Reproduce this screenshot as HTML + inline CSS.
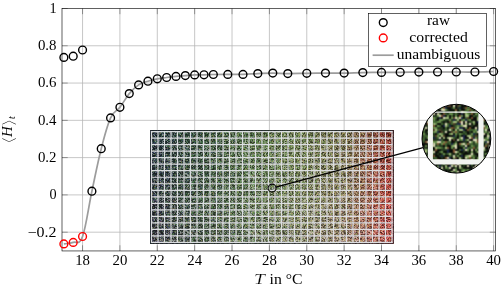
<!DOCTYPE html>
<html><head><meta charset="utf-8"><title>plot</title><style>html,body{margin:0;padding:0;background:#fff;}svg{display:block;}</style></head><body>
<svg width="501" height="290" viewBox="0 0 501 290">
<defs>
<filter id="sb" x="0" y="0" width="1" height="1"><feGaussianBlur stdDeviation="0.35"/></filter>
<clipPath id="bc"><circle cx="456.4" cy="138.7" r="34.4"/></clipPath>
</defs>
<rect width="501" height="290" fill="#fff"/>
<path d="M82.55 8.5V250.95M119.92 8.5V250.95M157.29 8.5V250.95M194.66 8.5V250.95M232.03 8.5V250.95M269.4 8.5V250.95M306.77 8.5V250.95M344.14 8.5V250.95M381.51 8.5V250.95M418.88 8.5V250.95M456.25 8.5V250.95M493.62 8.5V250.95M62.0 232.18H495.5M62.0 194.9H495.5M62.0 157.62H495.5M62.0 120.34H495.5M62.0 83.06H495.5M62.0 45.78H495.5" stroke="#b4b4b4" stroke-width="0.75" fill="none"/>
<path d="M82.55 250.95v-5.7M82.55 8.5v5.7M119.92 250.95v-5.7M119.92 8.5v5.7M157.29 250.95v-5.7M157.29 8.5v5.7M194.66 250.95v-5.7M194.66 8.5v5.7M232.03 250.95v-5.7M232.03 8.5v5.7M269.4 250.95v-5.7M269.4 8.5v5.7M306.77 250.95v-5.7M306.77 8.5v5.7M344.14 250.95v-5.7M344.14 8.5v5.7M381.51 250.95v-5.7M381.51 8.5v5.7M418.88 250.95v-5.7M418.88 8.5v5.7M456.25 250.95v-5.7M456.25 8.5v5.7M493.62 250.95v-5.7M493.62 8.5v5.7M62.0 232.18h5.7M495.5 232.18h-5.7M62.0 194.9h5.7M495.5 194.9h-5.7M62.0 157.62h5.7M495.5 157.62h-5.7M62.0 120.34h5.7M495.5 120.34h-5.7M62.0 83.06h5.7M495.5 83.06h-5.7M62.0 45.78h5.7M495.5 45.78h-5.7M62.0 8.5h5.7M495.5 8.5h-5.7" stroke="#000" stroke-width="0.6" fill="none" opacity="0.55"/>
<defs><pattern id="px" patternUnits="userSpaceOnUse" x="0" y="0" width="61" height="57"><path d="M1 0h1v1h-1zM7 0h1v1h-1zM8 0h1v1h-1zM11 0h1v1h-1zM15 0h1v1h-1zM19 0h1v1h-1zM23 0h1v1h-1zM28 0h1v1h-1zM32 0h1v1h-1zM33 0h1v1h-1zM52 0h1v1h-1zM53 0h1v1h-1zM56 0h1v1h-1zM59 0h1v1h-1zM0 1h1v1h-1zM2 1h1v1h-1zM11 1h1v1h-1zM21 1h1v1h-1zM22 1h1v1h-1zM25 1h1v1h-1zM29 1h1v1h-1zM30 1h1v1h-1zM35 1h1v1h-1zM43 1h1v1h-1zM46 1h1v1h-1zM53 1h1v1h-1zM58 1h1v1h-1zM11 2h1v1h-1zM14 2h1v1h-1zM23 2h1v1h-1zM29 2h1v1h-1zM38 2h1v1h-1zM41 2h1v1h-1zM43 2h1v1h-1zM47 2h1v1h-1zM48 2h1v1h-1zM53 2h1v1h-1zM54 2h1v1h-1zM55 2h1v1h-1zM1 3h1v1h-1zM8 3h1v1h-1zM12 3h1v1h-1zM14 3h1v1h-1zM20 3h1v1h-1zM22 3h1v1h-1zM25 3h1v1h-1zM27 3h1v1h-1zM28 3h1v1h-1zM30 3h1v1h-1zM31 3h1v1h-1zM35 3h1v1h-1zM37 3h1v1h-1zM41 3h1v1h-1zM51 3h1v1h-1zM54 3h1v1h-1zM59 3h1v1h-1zM10 4h1v1h-1zM11 4h1v1h-1zM18 4h1v1h-1zM22 4h1v1h-1zM32 4h1v1h-1zM38 4h1v1h-1zM43 4h1v1h-1zM47 4h1v1h-1zM52 4h1v1h-1zM10 5h1v1h-1zM19 5h1v1h-1zM26 5h1v1h-1zM27 5h1v1h-1zM28 5h1v1h-1zM35 5h1v1h-1zM41 5h1v1h-1zM48 5h1v1h-1zM50 5h1v1h-1zM0 6h1v1h-1zM2 6h1v1h-1zM7 6h1v1h-1zM8 6h1v1h-1zM10 6h1v1h-1zM19 6h1v1h-1zM20 6h1v1h-1zM24 6h1v1h-1zM28 6h1v1h-1zM33 6h1v1h-1zM40 6h1v1h-1zM41 6h1v1h-1zM44 6h1v1h-1zM49 6h1v1h-1zM52 6h1v1h-1zM60 6h1v1h-1zM0 7h1v1h-1zM4 7h1v1h-1zM5 7h1v1h-1zM6 7h1v1h-1zM8 7h1v1h-1zM19 7h1v1h-1zM22 7h1v1h-1zM32 7h1v1h-1zM34 7h1v1h-1zM56 7h1v1h-1zM2 8h1v1h-1zM8 8h1v1h-1zM11 8h1v1h-1zM12 8h1v1h-1zM19 8h1v1h-1zM23 8h1v1h-1zM25 8h1v1h-1zM27 8h1v1h-1zM29 8h1v1h-1zM37 8h1v1h-1zM42 8h1v1h-1zM49 8h1v1h-1zM51 8h1v1h-1zM58 8h1v1h-1zM59 8h1v1h-1zM3 9h1v1h-1zM15 9h1v1h-1zM23 9h1v1h-1zM24 9h1v1h-1zM25 9h1v1h-1zM26 9h1v1h-1zM29 9h1v1h-1zM37 9h1v1h-1zM42 9h1v1h-1zM53 9h1v1h-1zM5 10h1v1h-1zM6 10h1v1h-1zM14 10h1v1h-1zM18 10h1v1h-1zM30 10h1v1h-1zM41 10h1v1h-1zM46 10h1v1h-1zM47 10h1v1h-1zM48 10h1v1h-1zM59 10h1v1h-1zM1 11h1v1h-1zM18 11h1v1h-1zM22 11h1v1h-1zM28 11h1v1h-1zM33 11h1v1h-1zM43 11h1v1h-1zM51 11h1v1h-1zM10 12h1v1h-1zM13 12h1v1h-1zM16 12h1v1h-1zM22 12h1v1h-1zM24 12h1v1h-1zM29 12h1v1h-1zM31 12h1v1h-1zM35 12h1v1h-1zM43 12h1v1h-1zM44 12h1v1h-1zM59 12h1v1h-1zM7 13h1v1h-1zM11 13h1v1h-1zM12 13h1v1h-1zM13 13h1v1h-1zM15 13h1v1h-1zM18 13h1v1h-1zM23 13h1v1h-1zM26 13h1v1h-1zM28 13h1v1h-1zM32 13h1v1h-1zM38 13h1v1h-1zM40 13h1v1h-1zM46 13h1v1h-1zM48 13h1v1h-1zM59 13h1v1h-1zM60 13h1v1h-1zM0 14h1v1h-1zM2 14h1v1h-1zM4 14h1v1h-1zM10 14h1v1h-1zM11 14h1v1h-1zM19 14h1v1h-1zM32 14h1v1h-1zM38 14h1v1h-1zM44 14h1v1h-1zM47 14h1v1h-1zM53 14h1v1h-1zM54 14h1v1h-1zM6 15h1v1h-1zM10 15h1v1h-1zM17 15h1v1h-1zM22 15h1v1h-1zM26 15h1v1h-1zM35 15h1v1h-1zM36 15h1v1h-1zM39 15h1v1h-1zM44 15h1v1h-1zM51 15h1v1h-1zM55 15h1v1h-1zM59 15h1v1h-1zM0 16h1v1h-1zM11 16h1v1h-1zM14 16h1v1h-1zM21 16h1v1h-1zM24 16h1v1h-1zM27 16h1v1h-1zM36 16h1v1h-1zM43 16h1v1h-1zM49 16h1v1h-1zM51 16h1v1h-1zM53 16h1v1h-1zM1 17h1v1h-1zM2 17h1v1h-1zM6 17h1v1h-1zM17 17h1v1h-1zM18 17h1v1h-1zM20 17h1v1h-1zM27 17h1v1h-1zM31 17h1v1h-1zM43 17h1v1h-1zM46 17h1v1h-1zM54 17h1v1h-1zM58 17h1v1h-1zM60 17h1v1h-1zM6 18h1v1h-1zM8 18h1v1h-1zM17 18h1v1h-1zM18 18h1v1h-1zM21 18h1v1h-1zM26 18h1v1h-1zM31 18h1v1h-1zM32 18h1v1h-1zM40 18h1v1h-1zM5 19h1v1h-1zM16 19h1v1h-1zM35 19h1v1h-1zM41 19h1v1h-1zM42 19h1v1h-1zM45 19h1v1h-1zM47 19h1v1h-1zM59 19h1v1h-1zM4 20h1v1h-1zM5 20h1v1h-1zM9 20h1v1h-1zM14 20h1v1h-1zM15 20h1v1h-1zM23 20h1v1h-1zM30 20h1v1h-1zM33 20h1v1h-1zM36 20h1v1h-1zM39 20h1v1h-1zM3 21h1v1h-1zM5 21h1v1h-1zM14 21h1v1h-1zM16 21h1v1h-1zM31 21h1v1h-1zM33 21h1v1h-1zM35 21h1v1h-1zM37 21h1v1h-1zM38 21h1v1h-1zM52 21h1v1h-1zM53 21h1v1h-1zM57 21h1v1h-1zM2 22h1v1h-1zM4 22h1v1h-1zM10 22h1v1h-1zM18 22h1v1h-1zM20 22h1v1h-1zM22 22h1v1h-1zM26 22h1v1h-1zM31 22h1v1h-1zM32 22h1v1h-1zM36 22h1v1h-1zM37 22h1v1h-1zM41 22h1v1h-1zM42 22h1v1h-1zM44 22h1v1h-1zM46 22h1v1h-1zM49 22h1v1h-1zM50 22h1v1h-1zM55 22h1v1h-1zM2 23h1v1h-1zM51 23h1v1h-1zM52 23h1v1h-1zM58 23h1v1h-1zM0 24h1v1h-1zM3 24h1v1h-1zM9 24h1v1h-1zM16 24h1v1h-1zM20 24h1v1h-1zM30 24h1v1h-1zM34 24h1v1h-1zM45 24h1v1h-1zM51 24h1v1h-1zM52 24h1v1h-1zM53 24h1v1h-1zM55 24h1v1h-1zM59 24h1v1h-1zM60 24h1v1h-1zM0 25h1v1h-1zM3 25h1v1h-1zM8 25h1v1h-1zM10 25h1v1h-1zM13 25h1v1h-1zM14 25h1v1h-1zM43 25h1v1h-1zM53 25h1v1h-1zM0 26h1v1h-1zM6 26h1v1h-1zM12 26h1v1h-1zM15 26h1v1h-1zM21 26h1v1h-1zM23 26h1v1h-1zM24 26h1v1h-1zM28 26h1v1h-1zM30 26h1v1h-1zM39 26h1v1h-1zM53 26h1v1h-1zM56 26h1v1h-1zM0 27h1v1h-1zM19 27h1v1h-1zM27 27h1v1h-1zM31 27h1v1h-1zM35 27h1v1h-1zM39 27h1v1h-1zM46 27h1v1h-1zM47 27h1v1h-1zM48 27h1v1h-1zM51 27h1v1h-1zM54 27h1v1h-1zM55 27h1v1h-1zM60 27h1v1h-1zM3 28h1v1h-1zM12 28h1v1h-1zM31 28h1v1h-1zM45 28h1v1h-1zM2 29h1v1h-1zM9 29h1v1h-1zM17 29h1v1h-1zM24 29h1v1h-1zM25 29h1v1h-1zM44 29h1v1h-1zM49 29h1v1h-1zM53 29h1v1h-1zM58 29h1v1h-1zM2 30h1v1h-1zM4 30h1v1h-1zM6 30h1v1h-1zM17 30h1v1h-1zM19 30h1v1h-1zM32 30h1v1h-1zM33 30h1v1h-1zM37 30h1v1h-1zM40 30h1v1h-1zM41 30h1v1h-1zM45 30h1v1h-1zM50 30h1v1h-1zM54 30h1v1h-1zM57 30h1v1h-1zM9 31h1v1h-1zM10 31h1v1h-1zM21 31h1v1h-1zM26 31h1v1h-1zM31 31h1v1h-1zM34 31h1v1h-1zM38 31h1v1h-1zM41 31h1v1h-1zM48 31h1v1h-1zM51 31h1v1h-1zM55 31h1v1h-1zM58 31h1v1h-1zM60 31h1v1h-1zM6 32h1v1h-1zM8 32h1v1h-1zM9 32h1v1h-1zM14 32h1v1h-1zM16 32h1v1h-1zM17 32h1v1h-1zM21 32h1v1h-1zM23 32h1v1h-1zM27 32h1v1h-1zM29 32h1v1h-1zM33 32h1v1h-1zM36 32h1v1h-1zM40 32h1v1h-1zM43 32h1v1h-1zM52 32h1v1h-1zM6 33h1v1h-1zM11 33h1v1h-1zM15 33h1v1h-1zM26 33h1v1h-1zM35 33h1v1h-1zM37 33h1v1h-1zM38 33h1v1h-1zM46 33h1v1h-1zM48 33h1v1h-1zM50 33h1v1h-1zM5 34h1v1h-1zM9 34h1v1h-1zM11 34h1v1h-1zM22 34h1v1h-1zM46 34h1v1h-1zM48 34h1v1h-1zM53 34h1v1h-1zM9 35h1v1h-1zM13 35h1v1h-1zM14 35h1v1h-1zM31 35h1v1h-1zM35 35h1v1h-1zM39 35h1v1h-1zM46 35h1v1h-1zM51 35h1v1h-1zM60 35h1v1h-1zM1 36h1v1h-1zM2 36h1v1h-1zM6 36h1v1h-1zM15 36h1v1h-1zM19 36h1v1h-1zM25 36h1v1h-1zM33 36h1v1h-1zM34 36h1v1h-1zM38 36h1v1h-1zM43 36h1v1h-1zM45 36h1v1h-1zM46 36h1v1h-1zM54 36h1v1h-1zM10 37h1v1h-1zM24 37h1v1h-1zM29 37h1v1h-1zM34 37h1v1h-1zM47 37h1v1h-1zM49 37h1v1h-1zM56 37h1v1h-1zM2 38h1v1h-1zM35 38h1v1h-1zM41 38h1v1h-1zM46 38h1v1h-1zM50 38h1v1h-1zM52 38h1v1h-1zM53 38h1v1h-1zM55 38h1v1h-1zM3 39h1v1h-1zM7 39h1v1h-1zM10 39h1v1h-1zM29 39h1v1h-1zM31 39h1v1h-1zM43 39h1v1h-1zM44 39h1v1h-1zM50 39h1v1h-1zM52 39h1v1h-1zM57 39h1v1h-1zM59 39h1v1h-1zM0 40h1v1h-1zM6 40h1v1h-1zM13 40h1v1h-1zM17 40h1v1h-1zM25 40h1v1h-1zM30 40h1v1h-1zM37 40h1v1h-1zM46 40h1v1h-1zM57 40h1v1h-1zM6 41h1v1h-1zM20 41h1v1h-1zM30 41h1v1h-1zM33 41h1v1h-1zM43 41h1v1h-1zM46 41h1v1h-1zM48 41h1v1h-1zM55 41h1v1h-1zM4 42h1v1h-1zM5 42h1v1h-1zM10 42h1v1h-1zM13 42h1v1h-1zM24 42h1v1h-1zM27 42h1v1h-1zM32 42h1v1h-1zM38 42h1v1h-1zM43 42h1v1h-1zM51 42h1v1h-1zM58 42h1v1h-1zM1 43h1v1h-1zM5 43h1v1h-1zM12 43h1v1h-1zM18 43h1v1h-1zM20 43h1v1h-1zM28 43h1v1h-1zM32 43h1v1h-1zM34 43h1v1h-1zM35 43h1v1h-1zM36 43h1v1h-1zM53 43h1v1h-1zM58 43h1v1h-1zM5 44h1v1h-1zM12 44h1v1h-1zM16 44h1v1h-1zM34 44h1v1h-1zM36 44h1v1h-1zM44 44h1v1h-1zM47 44h1v1h-1zM55 44h1v1h-1zM58 44h1v1h-1zM2 45h1v1h-1zM8 45h1v1h-1zM9 45h1v1h-1zM21 45h1v1h-1zM25 45h1v1h-1zM49 45h1v1h-1zM1 46h1v1h-1zM17 46h1v1h-1zM51 46h1v1h-1zM54 46h1v1h-1zM3 47h1v1h-1zM8 47h1v1h-1zM12 47h1v1h-1zM19 47h1v1h-1zM21 47h1v1h-1zM34 47h1v1h-1zM41 47h1v1h-1zM42 47h1v1h-1zM43 47h1v1h-1zM50 47h1v1h-1zM3 48h1v1h-1zM4 48h1v1h-1zM7 48h1v1h-1zM8 48h1v1h-1zM9 48h1v1h-1zM16 48h1v1h-1zM17 48h1v1h-1zM24 48h1v1h-1zM30 48h1v1h-1zM35 48h1v1h-1zM39 48h1v1h-1zM48 48h1v1h-1zM51 48h1v1h-1zM52 48h1v1h-1zM60 48h1v1h-1zM4 49h1v1h-1zM19 49h1v1h-1zM24 49h1v1h-1zM27 49h1v1h-1zM30 49h1v1h-1zM34 49h1v1h-1zM50 49h1v1h-1zM54 49h1v1h-1zM59 49h1v1h-1zM1 50h1v1h-1zM2 50h1v1h-1zM10 50h1v1h-1zM13 50h1v1h-1zM17 50h1v1h-1zM18 50h1v1h-1zM28 50h1v1h-1zM31 50h1v1h-1zM41 50h1v1h-1zM47 50h1v1h-1zM48 50h1v1h-1zM50 50h1v1h-1zM52 50h1v1h-1zM56 50h1v1h-1zM4 51h1v1h-1zM11 51h1v1h-1zM15 51h1v1h-1zM30 51h1v1h-1zM32 51h1v1h-1zM40 51h1v1h-1zM42 51h1v1h-1zM46 51h1v1h-1zM50 51h1v1h-1zM56 51h1v1h-1zM1 52h1v1h-1zM4 52h1v1h-1zM11 52h1v1h-1zM22 52h1v1h-1zM25 52h1v1h-1zM35 52h1v1h-1zM36 52h1v1h-1zM37 52h1v1h-1zM43 52h1v1h-1zM44 52h1v1h-1zM50 52h1v1h-1zM55 52h1v1h-1zM5 53h1v1h-1zM17 53h1v1h-1zM26 53h1v1h-1zM27 53h1v1h-1zM31 53h1v1h-1zM32 53h1v1h-1zM36 53h1v1h-1zM47 53h1v1h-1zM50 53h1v1h-1zM55 53h1v1h-1zM2 54h1v1h-1zM8 54h1v1h-1zM9 54h1v1h-1zM15 54h1v1h-1zM44 54h1v1h-1zM55 54h1v1h-1zM56 54h1v1h-1zM59 54h1v1h-1zM0 55h1v1h-1zM3 55h1v1h-1zM21 55h1v1h-1zM23 55h1v1h-1zM26 55h1v1h-1zM28 55h1v1h-1zM31 55h1v1h-1zM32 55h1v1h-1zM42 55h1v1h-1zM59 55h1v1h-1zM4 56h1v1h-1zM7 56h1v1h-1zM12 56h1v1h-1zM13 56h1v1h-1zM19 56h1v1h-1zM25 56h1v1h-1zM28 56h1v1h-1zM31 56h1v1h-1zM33 56h1v1h-1zM38 56h1v1h-1zM49 56h1v1h-1zM55 56h1v1h-1zM59 56h1v1h-1z" fill="rgb(0,0,0)" fill-opacity="0.2"/><path d="M3 0h1v1h-1zM5 0h1v1h-1zM21 0h1v1h-1zM38 0h1v1h-1zM43 0h1v1h-1zM45 0h1v1h-1zM48 0h1v1h-1zM57 0h1v1h-1zM17 1h1v1h-1zM24 1h1v1h-1zM26 1h1v1h-1zM32 1h1v1h-1zM41 1h1v1h-1zM49 1h1v1h-1zM55 1h1v1h-1zM57 1h1v1h-1zM0 2h1v1h-1zM5 2h1v1h-1zM19 2h1v1h-1zM22 2h1v1h-1zM31 2h1v1h-1zM33 2h1v1h-1zM39 2h1v1h-1zM42 2h1v1h-1zM45 2h1v1h-1zM52 2h1v1h-1zM56 2h1v1h-1zM60 2h1v1h-1zM23 3h1v1h-1zM33 3h1v1h-1zM34 3h1v1h-1zM38 3h1v1h-1zM39 3h1v1h-1zM43 3h1v1h-1zM55 3h1v1h-1zM60 3h1v1h-1zM0 4h1v1h-1zM2 4h1v1h-1zM19 4h1v1h-1zM20 4h1v1h-1zM36 4h1v1h-1zM40 4h1v1h-1zM42 4h1v1h-1zM45 4h1v1h-1zM54 4h1v1h-1zM55 4h1v1h-1zM56 4h1v1h-1zM15 5h1v1h-1zM16 5h1v1h-1zM23 5h1v1h-1zM32 5h1v1h-1zM34 5h1v1h-1zM36 5h1v1h-1zM52 5h1v1h-1zM54 5h1v1h-1zM60 5h1v1h-1zM1 6h1v1h-1zM17 6h1v1h-1zM18 6h1v1h-1zM23 6h1v1h-1zM29 6h1v1h-1zM30 6h1v1h-1zM37 6h1v1h-1zM57 6h1v1h-1zM58 6h1v1h-1zM13 7h1v1h-1zM18 7h1v1h-1zM24 7h1v1h-1zM33 7h1v1h-1zM40 7h1v1h-1zM47 7h1v1h-1zM49 7h1v1h-1zM50 7h1v1h-1zM7 8h1v1h-1zM15 8h1v1h-1zM17 8h1v1h-1zM21 8h1v1h-1zM50 8h1v1h-1zM56 8h1v1h-1zM57 8h1v1h-1zM1 9h1v1h-1zM8 9h1v1h-1zM10 9h1v1h-1zM30 9h1v1h-1zM35 9h1v1h-1zM43 9h1v1h-1zM0 10h1v1h-1zM2 10h1v1h-1zM17 10h1v1h-1zM22 10h1v1h-1zM24 10h1v1h-1zM31 10h1v1h-1zM33 10h1v1h-1zM4 11h1v1h-1zM11 11h1v1h-1zM21 11h1v1h-1zM41 11h1v1h-1zM48 11h1v1h-1zM56 11h1v1h-1zM12 12h1v1h-1zM14 12h1v1h-1zM15 12h1v1h-1zM17 12h1v1h-1zM19 12h1v1h-1zM25 12h1v1h-1zM26 12h1v1h-1zM45 12h1v1h-1zM1 13h1v1h-1zM2 13h1v1h-1zM5 13h1v1h-1zM17 13h1v1h-1zM30 13h1v1h-1zM49 13h1v1h-1zM50 13h1v1h-1zM58 13h1v1h-1zM6 14h1v1h-1zM15 14h1v1h-1zM18 14h1v1h-1zM23 14h1v1h-1zM24 14h1v1h-1zM27 14h1v1h-1zM35 14h1v1h-1zM36 14h1v1h-1zM37 14h1v1h-1zM43 14h1v1h-1zM45 14h1v1h-1zM50 14h1v1h-1zM58 14h1v1h-1zM11 15h1v1h-1zM12 15h1v1h-1zM15 15h1v1h-1zM16 15h1v1h-1zM38 15h1v1h-1zM40 15h1v1h-1zM2 16h1v1h-1zM5 16h1v1h-1zM7 16h1v1h-1zM30 16h1v1h-1zM31 16h1v1h-1zM38 16h1v1h-1zM47 16h1v1h-1zM54 16h1v1h-1zM56 16h1v1h-1zM57 16h1v1h-1zM58 16h1v1h-1zM0 17h1v1h-1zM11 17h1v1h-1zM22 17h1v1h-1zM26 17h1v1h-1zM30 17h1v1h-1zM47 17h1v1h-1zM52 17h1v1h-1zM56 17h1v1h-1zM4 18h1v1h-1zM23 18h1v1h-1zM36 18h1v1h-1zM50 18h1v1h-1zM51 18h1v1h-1zM52 18h1v1h-1zM55 18h1v1h-1zM6 19h1v1h-1zM7 19h1v1h-1zM9 19h1v1h-1zM13 19h1v1h-1zM19 19h1v1h-1zM21 19h1v1h-1zM22 19h1v1h-1zM25 19h1v1h-1zM29 19h1v1h-1zM30 19h1v1h-1zM31 19h1v1h-1zM34 19h1v1h-1zM46 19h1v1h-1zM51 19h1v1h-1zM53 19h1v1h-1zM2 20h1v1h-1zM7 20h1v1h-1zM12 20h1v1h-1zM13 20h1v1h-1zM18 20h1v1h-1zM22 20h1v1h-1zM28 20h1v1h-1zM38 20h1v1h-1zM48 20h1v1h-1zM56 20h1v1h-1zM59 20h1v1h-1zM0 21h1v1h-1zM2 21h1v1h-1zM4 21h1v1h-1zM6 21h1v1h-1zM8 21h1v1h-1zM11 21h1v1h-1zM17 21h1v1h-1zM23 21h1v1h-1zM24 21h1v1h-1zM45 21h1v1h-1zM56 21h1v1h-1zM58 21h1v1h-1zM11 22h1v1h-1zM15 22h1v1h-1zM24 22h1v1h-1zM29 22h1v1h-1zM34 22h1v1h-1zM38 22h1v1h-1zM40 22h1v1h-1zM48 22h1v1h-1zM53 22h1v1h-1zM58 22h1v1h-1zM0 23h1v1h-1zM3 23h1v1h-1zM6 23h1v1h-1zM9 23h1v1h-1zM17 23h1v1h-1zM20 23h1v1h-1zM21 23h1v1h-1zM26 23h1v1h-1zM28 23h1v1h-1zM45 23h1v1h-1zM48 23h1v1h-1zM50 23h1v1h-1zM55 23h1v1h-1zM60 23h1v1h-1zM5 24h1v1h-1zM7 24h1v1h-1zM15 24h1v1h-1zM23 24h1v1h-1zM24 24h1v1h-1zM26 24h1v1h-1zM31 24h1v1h-1zM49 24h1v1h-1zM4 25h1v1h-1zM5 25h1v1h-1zM20 25h1v1h-1zM23 25h1v1h-1zM28 25h1v1h-1zM31 25h1v1h-1zM42 25h1v1h-1zM55 25h1v1h-1zM4 26h1v1h-1zM8 26h1v1h-1zM14 26h1v1h-1zM27 26h1v1h-1zM31 26h1v1h-1zM45 26h1v1h-1zM50 26h1v1h-1zM57 26h1v1h-1zM58 26h1v1h-1zM5 27h1v1h-1zM6 27h1v1h-1zM14 27h1v1h-1zM24 27h1v1h-1zM38 27h1v1h-1zM43 27h1v1h-1zM52 27h1v1h-1zM56 27h1v1h-1zM58 27h1v1h-1zM5 28h1v1h-1zM9 28h1v1h-1zM39 28h1v1h-1zM43 28h1v1h-1zM44 28h1v1h-1zM52 28h1v1h-1zM54 28h1v1h-1zM55 28h1v1h-1zM59 28h1v1h-1zM1 29h1v1h-1zM8 29h1v1h-1zM18 29h1v1h-1zM23 29h1v1h-1zM28 29h1v1h-1zM38 29h1v1h-1zM41 29h1v1h-1zM55 29h1v1h-1zM57 29h1v1h-1zM9 30h1v1h-1zM11 30h1v1h-1zM16 30h1v1h-1zM22 30h1v1h-1zM23 30h1v1h-1zM27 30h1v1h-1zM35 30h1v1h-1zM39 30h1v1h-1zM42 30h1v1h-1zM51 30h1v1h-1zM1 31h1v1h-1zM12 31h1v1h-1zM15 31h1v1h-1zM16 31h1v1h-1zM32 31h1v1h-1zM35 31h1v1h-1zM39 31h1v1h-1zM42 31h1v1h-1zM46 31h1v1h-1zM52 31h1v1h-1zM3 32h1v1h-1zM10 32h1v1h-1zM12 32h1v1h-1zM15 32h1v1h-1zM1 33h1v1h-1zM16 33h1v1h-1zM17 33h1v1h-1zM18 33h1v1h-1zM31 33h1v1h-1zM34 33h1v1h-1zM43 33h1v1h-1zM44 33h1v1h-1zM52 33h1v1h-1zM56 33h1v1h-1zM8 34h1v1h-1zM10 34h1v1h-1zM13 34h1v1h-1zM25 34h1v1h-1zM26 34h1v1h-1zM34 34h1v1h-1zM37 34h1v1h-1zM39 34h1v1h-1zM47 34h1v1h-1zM54 34h1v1h-1zM56 34h1v1h-1zM59 34h1v1h-1zM6 35h1v1h-1zM24 35h1v1h-1zM30 35h1v1h-1zM32 35h1v1h-1zM37 35h1v1h-1zM41 35h1v1h-1zM42 35h1v1h-1zM54 35h1v1h-1zM13 36h1v1h-1zM21 36h1v1h-1zM24 36h1v1h-1zM27 36h1v1h-1zM30 36h1v1h-1zM32 36h1v1h-1zM51 36h1v1h-1zM55 36h1v1h-1zM4 37h1v1h-1zM8 37h1v1h-1zM14 37h1v1h-1zM20 37h1v1h-1zM21 37h1v1h-1zM22 37h1v1h-1zM28 37h1v1h-1zM30 37h1v1h-1zM31 37h1v1h-1zM32 37h1v1h-1zM37 37h1v1h-1zM39 37h1v1h-1zM46 37h1v1h-1zM48 37h1v1h-1zM55 37h1v1h-1zM57 37h1v1h-1zM58 37h1v1h-1zM60 37h1v1h-1zM7 38h1v1h-1zM9 38h1v1h-1zM11 38h1v1h-1zM12 38h1v1h-1zM14 38h1v1h-1zM15 38h1v1h-1zM27 38h1v1h-1zM30 38h1v1h-1zM39 38h1v1h-1zM45 38h1v1h-1zM47 38h1v1h-1zM54 38h1v1h-1zM5 39h1v1h-1zM16 39h1v1h-1zM17 39h1v1h-1zM20 39h1v1h-1zM22 39h1v1h-1zM32 39h1v1h-1zM45 39h1v1h-1zM46 39h1v1h-1zM47 39h1v1h-1zM53 39h1v1h-1zM54 39h1v1h-1zM60 39h1v1h-1zM3 40h1v1h-1zM22 40h1v1h-1zM28 40h1v1h-1zM39 40h1v1h-1zM51 40h1v1h-1zM18 41h1v1h-1zM19 41h1v1h-1zM38 41h1v1h-1zM39 41h1v1h-1zM45 41h1v1h-1zM50 41h1v1h-1zM51 41h1v1h-1zM58 41h1v1h-1zM16 42h1v1h-1zM30 42h1v1h-1zM31 42h1v1h-1zM37 42h1v1h-1zM41 42h1v1h-1zM42 42h1v1h-1zM55 42h1v1h-1zM59 42h1v1h-1zM8 43h1v1h-1zM13 43h1v1h-1zM14 43h1v1h-1zM21 43h1v1h-1zM24 43h1v1h-1zM40 43h1v1h-1zM41 43h1v1h-1zM44 43h1v1h-1zM54 43h1v1h-1zM60 43h1v1h-1zM0 44h1v1h-1zM15 44h1v1h-1zM27 44h1v1h-1zM32 44h1v1h-1zM37 44h1v1h-1zM38 44h1v1h-1zM51 44h1v1h-1zM56 44h1v1h-1zM3 45h1v1h-1zM4 45h1v1h-1zM5 45h1v1h-1zM13 45h1v1h-1zM24 45h1v1h-1zM27 45h1v1h-1zM28 45h1v1h-1zM44 45h1v1h-1zM51 45h1v1h-1zM52 45h1v1h-1zM57 45h1v1h-1zM58 45h1v1h-1zM10 46h1v1h-1zM14 46h1v1h-1zM22 46h1v1h-1zM23 46h1v1h-1zM30 46h1v1h-1zM37 46h1v1h-1zM52 46h1v1h-1zM1 47h1v1h-1zM4 47h1v1h-1zM14 47h1v1h-1zM15 47h1v1h-1zM17 47h1v1h-1zM39 47h1v1h-1zM44 47h1v1h-1zM45 47h1v1h-1zM51 47h1v1h-1zM52 47h1v1h-1zM25 48h1v1h-1zM26 48h1v1h-1zM33 48h1v1h-1zM42 48h1v1h-1zM57 48h1v1h-1zM0 49h1v1h-1zM11 49h1v1h-1zM12 49h1v1h-1zM15 49h1v1h-1zM17 49h1v1h-1zM18 49h1v1h-1zM25 49h1v1h-1zM28 49h1v1h-1zM33 49h1v1h-1zM44 49h1v1h-1zM60 49h1v1h-1zM12 50h1v1h-1zM23 50h1v1h-1zM34 50h1v1h-1zM40 50h1v1h-1zM44 50h1v1h-1zM51 50h1v1h-1zM55 50h1v1h-1zM58 50h1v1h-1zM0 51h1v1h-1zM2 51h1v1h-1zM6 51h1v1h-1zM9 51h1v1h-1zM18 51h1v1h-1zM21 51h1v1h-1zM24 51h1v1h-1zM31 51h1v1h-1zM43 51h1v1h-1zM48 51h1v1h-1zM52 51h1v1h-1zM53 51h1v1h-1zM57 51h1v1h-1zM5 52h1v1h-1zM8 52h1v1h-1zM38 52h1v1h-1zM47 52h1v1h-1zM49 52h1v1h-1zM1 53h1v1h-1zM4 53h1v1h-1zM8 53h1v1h-1zM11 53h1v1h-1zM16 53h1v1h-1zM18 53h1v1h-1zM30 53h1v1h-1zM34 53h1v1h-1zM40 53h1v1h-1zM42 53h1v1h-1zM44 53h1v1h-1zM11 54h1v1h-1zM17 54h1v1h-1zM24 54h1v1h-1zM25 54h1v1h-1zM31 54h1v1h-1zM32 54h1v1h-1zM36 54h1v1h-1zM53 54h1v1h-1zM5 55h1v1h-1zM13 55h1v1h-1zM18 55h1v1h-1zM19 55h1v1h-1zM40 55h1v1h-1zM43 55h1v1h-1zM48 55h1v1h-1zM6 56h1v1h-1zM14 56h1v1h-1zM35 56h1v1h-1zM37 56h1v1h-1zM48 56h1v1h-1zM52 56h1v1h-1zM58 56h1v1h-1z" fill="rgb(0,0,0)" fill-opacity="0.38"/><path d="M4 0h1v1h-1zM13 0h1v1h-1zM22 0h1v1h-1zM24 0h1v1h-1zM60 0h1v1h-1zM7 1h1v1h-1zM13 1h1v1h-1zM44 1h1v1h-1zM45 1h1v1h-1zM52 1h1v1h-1zM60 1h1v1h-1zM7 2h1v1h-1zM12 2h1v1h-1zM24 2h1v1h-1zM32 2h1v1h-1zM34 2h1v1h-1zM51 2h1v1h-1zM58 2h1v1h-1zM17 3h1v1h-1zM3 4h1v1h-1zM14 4h1v1h-1zM15 4h1v1h-1zM25 4h1v1h-1zM39 4h1v1h-1zM51 4h1v1h-1zM57 4h1v1h-1zM18 5h1v1h-1zM20 5h1v1h-1zM31 5h1v1h-1zM39 5h1v1h-1zM40 5h1v1h-1zM43 5h1v1h-1zM11 6h1v1h-1zM42 6h1v1h-1zM54 6h1v1h-1zM56 6h1v1h-1zM59 6h1v1h-1zM16 7h1v1h-1zM48 7h1v1h-1zM59 7h1v1h-1zM28 8h1v1h-1zM30 8h1v1h-1zM39 8h1v1h-1zM41 8h1v1h-1zM43 8h1v1h-1zM47 8h1v1h-1zM53 8h1v1h-1zM60 8h1v1h-1zM6 9h1v1h-1zM7 9h1v1h-1zM14 9h1v1h-1zM36 9h1v1h-1zM44 9h1v1h-1zM46 9h1v1h-1zM52 9h1v1h-1zM1 10h1v1h-1zM7 10h1v1h-1zM25 10h1v1h-1zM45 10h1v1h-1zM50 10h1v1h-1zM53 10h1v1h-1zM55 10h1v1h-1zM56 10h1v1h-1zM5 11h1v1h-1zM19 11h1v1h-1zM34 11h1v1h-1zM37 11h1v1h-1zM55 11h1v1h-1zM11 12h1v1h-1zM32 12h1v1h-1zM60 12h1v1h-1zM3 13h1v1h-1zM16 13h1v1h-1zM19 13h1v1h-1zM22 13h1v1h-1zM24 13h1v1h-1zM52 13h1v1h-1zM53 13h1v1h-1zM12 14h1v1h-1zM49 14h1v1h-1zM51 14h1v1h-1zM57 14h1v1h-1zM3 15h1v1h-1zM31 15h1v1h-1zM34 15h1v1h-1zM50 15h1v1h-1zM5 18h1v1h-1zM7 18h1v1h-1zM11 18h1v1h-1zM12 18h1v1h-1zM16 18h1v1h-1zM20 18h1v1h-1zM27 18h1v1h-1zM46 18h1v1h-1zM60 18h1v1h-1zM20 19h1v1h-1zM26 19h1v1h-1zM36 19h1v1h-1zM44 19h1v1h-1zM60 19h1v1h-1zM3 20h1v1h-1zM16 20h1v1h-1zM20 20h1v1h-1zM24 20h1v1h-1zM35 20h1v1h-1zM42 20h1v1h-1zM45 20h1v1h-1zM51 20h1v1h-1zM7 21h1v1h-1zM22 21h1v1h-1zM34 21h1v1h-1zM48 21h1v1h-1zM43 22h1v1h-1zM8 23h1v1h-1zM10 23h1v1h-1zM19 23h1v1h-1zM27 23h1v1h-1zM12 24h1v1h-1zM29 24h1v1h-1zM46 24h1v1h-1zM56 24h1v1h-1zM57 24h1v1h-1zM2 25h1v1h-1zM11 25h1v1h-1zM30 25h1v1h-1zM40 25h1v1h-1zM46 25h1v1h-1zM18 26h1v1h-1zM22 26h1v1h-1zM2 27h1v1h-1zM29 27h1v1h-1zM41 27h1v1h-1zM44 27h1v1h-1zM6 28h1v1h-1zM7 28h1v1h-1zM10 28h1v1h-1zM25 28h1v1h-1zM48 28h1v1h-1zM50 28h1v1h-1zM4 29h1v1h-1zM43 29h1v1h-1zM13 30h1v1h-1zM47 30h1v1h-1zM56 30h1v1h-1zM3 31h1v1h-1zM5 31h1v1h-1zM11 31h1v1h-1zM18 31h1v1h-1zM36 31h1v1h-1zM53 31h1v1h-1zM28 32h1v1h-1zM32 32h1v1h-1zM35 32h1v1h-1zM38 32h1v1h-1zM55 32h1v1h-1zM59 32h1v1h-1zM39 33h1v1h-1zM31 34h1v1h-1zM32 34h1v1h-1zM51 34h1v1h-1zM55 34h1v1h-1zM0 35h1v1h-1zM8 35h1v1h-1zM21 35h1v1h-1zM38 35h1v1h-1zM44 35h1v1h-1zM57 35h1v1h-1zM4 36h1v1h-1zM7 36h1v1h-1zM39 36h1v1h-1zM56 36h1v1h-1zM0 37h1v1h-1zM27 37h1v1h-1zM42 37h1v1h-1zM45 37h1v1h-1zM54 37h1v1h-1zM17 38h1v1h-1zM18 38h1v1h-1zM23 38h1v1h-1zM44 38h1v1h-1zM59 38h1v1h-1zM23 39h1v1h-1zM5 40h1v1h-1zM19 40h1v1h-1zM54 40h1v1h-1zM11 41h1v1h-1zM23 41h1v1h-1zM31 41h1v1h-1zM32 41h1v1h-1zM20 42h1v1h-1zM49 42h1v1h-1zM53 42h1v1h-1zM56 42h1v1h-1zM30 43h1v1h-1zM31 43h1v1h-1zM39 43h1v1h-1zM52 43h1v1h-1zM9 44h1v1h-1zM13 44h1v1h-1zM14 44h1v1h-1zM28 44h1v1h-1zM31 44h1v1h-1zM7 45h1v1h-1zM18 45h1v1h-1zM29 45h1v1h-1zM36 45h1v1h-1zM37 45h1v1h-1zM42 45h1v1h-1zM50 45h1v1h-1zM5 46h1v1h-1zM8 46h1v1h-1zM11 46h1v1h-1zM15 46h1v1h-1zM20 46h1v1h-1zM21 46h1v1h-1zM60 46h1v1h-1zM2 47h1v1h-1zM7 47h1v1h-1zM20 47h1v1h-1zM49 47h1v1h-1zM22 48h1v1h-1zM23 48h1v1h-1zM41 48h1v1h-1zM58 48h1v1h-1zM1 49h1v1h-1zM20 49h1v1h-1zM37 49h1v1h-1zM41 49h1v1h-1zM53 49h1v1h-1zM0 50h1v1h-1zM9 50h1v1h-1zM11 50h1v1h-1zM21 50h1v1h-1zM32 50h1v1h-1zM16 51h1v1h-1zM25 51h1v1h-1zM37 51h1v1h-1zM55 51h1v1h-1zM10 52h1v1h-1zM13 52h1v1h-1zM15 52h1v1h-1zM17 52h1v1h-1zM18 52h1v1h-1zM26 52h1v1h-1zM30 52h1v1h-1zM56 52h1v1h-1zM6 53h1v1h-1zM9 53h1v1h-1zM25 53h1v1h-1zM43 53h1v1h-1zM0 54h1v1h-1zM16 54h1v1h-1zM19 54h1v1h-1zM20 54h1v1h-1zM30 54h1v1h-1zM49 54h1v1h-1zM4 55h1v1h-1zM27 55h1v1h-1zM29 55h1v1h-1zM30 55h1v1h-1zM36 55h1v1h-1zM53 55h1v1h-1zM54 55h1v1h-1zM60 55h1v1h-1zM2 56h1v1h-1zM5 56h1v1h-1zM16 56h1v1h-1zM18 56h1v1h-1zM26 56h1v1h-1zM27 56h1v1h-1zM34 56h1v1h-1zM40 56h1v1h-1zM44 56h1v1h-1zM60 56h1v1h-1z" fill="rgb(0,0,0)" fill-opacity="0.55"/><path d="M0 0h1v1h-1zM9 0h1v1h-1zM17 0h1v1h-1zM18 0h1v1h-1zM34 0h1v1h-1zM39 0h1v1h-1zM50 0h1v1h-1zM58 0h1v1h-1zM10 1h1v1h-1zM15 1h1v1h-1zM27 1h1v1h-1zM28 1h1v1h-1zM31 1h1v1h-1zM36 1h1v1h-1zM37 1h1v1h-1zM40 1h1v1h-1zM48 1h1v1h-1zM50 1h1v1h-1zM54 1h1v1h-1zM1 2h1v1h-1zM6 2h1v1h-1zM8 2h1v1h-1zM17 2h1v1h-1zM18 2h1v1h-1zM21 2h1v1h-1zM46 2h1v1h-1zM49 2h1v1h-1zM2 3h1v1h-1zM5 3h1v1h-1zM6 3h1v1h-1zM9 3h1v1h-1zM13 3h1v1h-1zM21 3h1v1h-1zM36 3h1v1h-1zM17 4h1v1h-1zM30 4h1v1h-1zM59 4h1v1h-1zM4 5h1v1h-1zM5 5h1v1h-1zM11 5h1v1h-1zM17 5h1v1h-1zM38 5h1v1h-1zM49 5h1v1h-1zM55 5h1v1h-1zM56 5h1v1h-1zM21 6h1v1h-1zM27 6h1v1h-1zM47 6h1v1h-1zM48 6h1v1h-1zM1 7h1v1h-1zM15 7h1v1h-1zM17 7h1v1h-1zM28 7h1v1h-1zM31 7h1v1h-1zM35 7h1v1h-1zM39 7h1v1h-1zM54 7h1v1h-1zM55 7h1v1h-1zM57 7h1v1h-1zM60 7h1v1h-1zM26 8h1v1h-1zM31 8h1v1h-1zM34 8h1v1h-1zM36 8h1v1h-1zM45 8h1v1h-1zM52 8h1v1h-1zM2 9h1v1h-1zM5 9h1v1h-1zM9 9h1v1h-1zM17 9h1v1h-1zM21 9h1v1h-1zM22 9h1v1h-1zM31 9h1v1h-1zM33 9h1v1h-1zM39 9h1v1h-1zM50 9h1v1h-1zM55 9h1v1h-1zM59 9h1v1h-1zM9 10h1v1h-1zM40 10h1v1h-1zM42 10h1v1h-1zM51 10h1v1h-1zM57 10h1v1h-1zM58 10h1v1h-1zM7 11h1v1h-1zM12 11h1v1h-1zM27 11h1v1h-1zM31 11h1v1h-1zM44 11h1v1h-1zM50 11h1v1h-1zM4 12h1v1h-1zM6 12h1v1h-1zM37 12h1v1h-1zM46 12h1v1h-1zM53 12h1v1h-1zM0 13h1v1h-1zM8 13h1v1h-1zM20 13h1v1h-1zM27 13h1v1h-1zM31 13h1v1h-1zM54 13h1v1h-1zM14 14h1v1h-1zM16 14h1v1h-1zM21 14h1v1h-1zM22 14h1v1h-1zM30 14h1v1h-1zM48 14h1v1h-1zM1 15h1v1h-1zM5 15h1v1h-1zM9 15h1v1h-1zM18 15h1v1h-1zM30 15h1v1h-1zM41 15h1v1h-1zM43 15h1v1h-1zM49 15h1v1h-1zM56 15h1v1h-1zM57 15h1v1h-1zM58 15h1v1h-1zM3 16h1v1h-1zM6 16h1v1h-1zM19 16h1v1h-1zM44 16h1v1h-1zM55 16h1v1h-1zM59 16h1v1h-1zM7 17h1v1h-1zM9 17h1v1h-1zM16 17h1v1h-1zM19 17h1v1h-1zM24 17h1v1h-1zM36 17h1v1h-1zM45 17h1v1h-1zM2 18h1v1h-1zM10 18h1v1h-1zM25 18h1v1h-1zM33 18h1v1h-1zM35 18h1v1h-1zM56 18h1v1h-1zM58 18h1v1h-1zM4 19h1v1h-1zM12 19h1v1h-1zM24 19h1v1h-1zM40 19h1v1h-1zM49 19h1v1h-1zM50 19h1v1h-1zM52 19h1v1h-1zM10 20h1v1h-1zM19 20h1v1h-1zM21 20h1v1h-1zM27 20h1v1h-1zM32 20h1v1h-1zM34 20h1v1h-1zM37 20h1v1h-1zM46 20h1v1h-1zM49 20h1v1h-1zM50 20h1v1h-1zM55 20h1v1h-1zM60 20h1v1h-1zM1 21h1v1h-1zM13 21h1v1h-1zM15 21h1v1h-1zM19 21h1v1h-1zM21 21h1v1h-1zM28 21h1v1h-1zM46 21h1v1h-1zM49 21h1v1h-1zM50 21h1v1h-1zM51 21h1v1h-1zM60 21h1v1h-1zM1 22h1v1h-1zM9 22h1v1h-1zM16 22h1v1h-1zM39 22h1v1h-1zM47 22h1v1h-1zM56 22h1v1h-1zM59 22h1v1h-1zM7 23h1v1h-1zM18 23h1v1h-1zM32 23h1v1h-1zM33 23h1v1h-1zM43 23h1v1h-1zM53 23h1v1h-1zM57 23h1v1h-1zM4 24h1v1h-1zM18 24h1v1h-1zM27 24h1v1h-1zM28 24h1v1h-1zM40 24h1v1h-1zM41 24h1v1h-1zM12 25h1v1h-1zM34 25h1v1h-1zM37 25h1v1h-1zM39 25h1v1h-1zM49 25h1v1h-1zM50 25h1v1h-1zM54 25h1v1h-1zM57 25h1v1h-1zM58 25h1v1h-1zM7 26h1v1h-1zM10 26h1v1h-1zM13 26h1v1h-1zM19 26h1v1h-1zM20 26h1v1h-1zM34 26h1v1h-1zM40 26h1v1h-1zM43 26h1v1h-1zM49 26h1v1h-1zM52 26h1v1h-1zM55 26h1v1h-1zM3 27h1v1h-1zM20 27h1v1h-1zM21 27h1v1h-1zM23 27h1v1h-1zM26 27h1v1h-1zM36 27h1v1h-1zM37 27h1v1h-1zM4 28h1v1h-1zM17 28h1v1h-1zM20 28h1v1h-1zM21 28h1v1h-1zM24 28h1v1h-1zM28 28h1v1h-1zM29 28h1v1h-1zM30 28h1v1h-1zM37 28h1v1h-1zM46 28h1v1h-1zM51 28h1v1h-1zM53 28h1v1h-1zM56 28h1v1h-1zM58 28h1v1h-1zM6 29h1v1h-1zM7 29h1v1h-1zM13 29h1v1h-1zM15 29h1v1h-1zM20 29h1v1h-1zM29 29h1v1h-1zM30 29h1v1h-1zM31 29h1v1h-1zM35 29h1v1h-1zM37 29h1v1h-1zM39 29h1v1h-1zM0 30h1v1h-1zM1 30h1v1h-1zM7 30h1v1h-1zM15 30h1v1h-1zM20 30h1v1h-1zM21 30h1v1h-1zM24 30h1v1h-1zM43 30h1v1h-1zM46 30h1v1h-1zM55 30h1v1h-1zM58 30h1v1h-1zM59 30h1v1h-1zM6 31h1v1h-1zM13 31h1v1h-1zM17 31h1v1h-1zM19 31h1v1h-1zM20 31h1v1h-1zM25 31h1v1h-1zM44 31h1v1h-1zM56 31h1v1h-1zM1 32h1v1h-1zM4 32h1v1h-1zM11 32h1v1h-1zM13 32h1v1h-1zM20 32h1v1h-1zM25 32h1v1h-1zM37 32h1v1h-1zM48 32h1v1h-1zM51 32h1v1h-1zM54 32h1v1h-1zM58 32h1v1h-1zM60 32h1v1h-1zM12 33h1v1h-1zM20 33h1v1h-1zM27 33h1v1h-1zM32 33h1v1h-1zM36 33h1v1h-1zM59 33h1v1h-1zM0 34h1v1h-1zM4 34h1v1h-1zM12 34h1v1h-1zM17 34h1v1h-1zM18 34h1v1h-1zM20 34h1v1h-1zM27 34h1v1h-1zM42 34h1v1h-1zM49 34h1v1h-1zM3 35h1v1h-1zM22 35h1v1h-1zM27 35h1v1h-1zM47 35h1v1h-1zM50 35h1v1h-1zM55 35h1v1h-1zM59 35h1v1h-1zM0 36h1v1h-1zM3 36h1v1h-1zM14 36h1v1h-1zM20 36h1v1h-1zM22 36h1v1h-1zM26 36h1v1h-1zM47 36h1v1h-1zM50 36h1v1h-1zM53 36h1v1h-1zM23 37h1v1h-1zM41 37h1v1h-1zM44 37h1v1h-1zM53 37h1v1h-1zM59 37h1v1h-1zM0 38h1v1h-1zM1 38h1v1h-1zM25 38h1v1h-1zM34 38h1v1h-1zM36 38h1v1h-1zM48 38h1v1h-1zM49 38h1v1h-1zM58 38h1v1h-1zM12 39h1v1h-1zM14 39h1v1h-1zM26 39h1v1h-1zM33 39h1v1h-1zM34 39h1v1h-1zM36 39h1v1h-1zM41 39h1v1h-1zM42 39h1v1h-1zM49 39h1v1h-1zM56 39h1v1h-1zM8 40h1v1h-1zM9 40h1v1h-1zM11 40h1v1h-1zM12 40h1v1h-1zM18 40h1v1h-1zM20 40h1v1h-1zM35 40h1v1h-1zM42 40h1v1h-1zM47 40h1v1h-1zM52 40h1v1h-1zM56 40h1v1h-1zM0 41h1v1h-1zM1 41h1v1h-1zM15 41h1v1h-1zM16 41h1v1h-1zM24 41h1v1h-1zM27 41h1v1h-1zM29 41h1v1h-1zM57 41h1v1h-1zM59 41h1v1h-1zM0 42h1v1h-1zM6 42h1v1h-1zM29 42h1v1h-1zM35 42h1v1h-1zM45 42h1v1h-1zM50 42h1v1h-1zM2 43h1v1h-1zM3 43h1v1h-1zM4 43h1v1h-1zM9 43h1v1h-1zM22 43h1v1h-1zM29 43h1v1h-1zM42 43h1v1h-1zM1 44h1v1h-1zM6 44h1v1h-1zM8 44h1v1h-1zM11 44h1v1h-1zM21 44h1v1h-1zM26 44h1v1h-1zM30 44h1v1h-1zM39 44h1v1h-1zM42 44h1v1h-1zM50 44h1v1h-1zM52 44h1v1h-1zM10 45h1v1h-1zM11 45h1v1h-1zM19 45h1v1h-1zM26 45h1v1h-1zM30 45h1v1h-1zM35 45h1v1h-1zM38 45h1v1h-1zM39 45h1v1h-1zM48 45h1v1h-1zM59 45h1v1h-1zM60 45h1v1h-1zM0 46h1v1h-1zM7 46h1v1h-1zM16 46h1v1h-1zM31 46h1v1h-1zM45 46h1v1h-1zM47 46h1v1h-1zM48 46h1v1h-1zM49 46h1v1h-1zM57 46h1v1h-1zM16 47h1v1h-1zM23 47h1v1h-1zM24 47h1v1h-1zM27 47h1v1h-1zM33 47h1v1h-1zM47 47h1v1h-1zM0 48h1v1h-1zM1 48h1v1h-1zM2 48h1v1h-1zM6 48h1v1h-1zM10 48h1v1h-1zM14 48h1v1h-1zM18 48h1v1h-1zM31 48h1v1h-1zM34 48h1v1h-1zM44 48h1v1h-1zM46 48h1v1h-1zM49 48h1v1h-1zM53 48h1v1h-1zM54 48h1v1h-1zM5 49h1v1h-1zM10 49h1v1h-1zM13 49h1v1h-1zM22 49h1v1h-1zM26 49h1v1h-1zM42 49h1v1h-1zM4 50h1v1h-1zM5 50h1v1h-1zM6 50h1v1h-1zM22 50h1v1h-1zM45 50h1v1h-1zM53 50h1v1h-1zM57 50h1v1h-1zM60 50h1v1h-1zM28 51h1v1h-1zM38 51h1v1h-1zM39 51h1v1h-1zM60 51h1v1h-1zM7 52h1v1h-1zM14 52h1v1h-1zM19 52h1v1h-1zM31 52h1v1h-1zM34 52h1v1h-1zM41 52h1v1h-1zM48 52h1v1h-1zM58 52h1v1h-1zM7 53h1v1h-1zM10 53h1v1h-1zM24 53h1v1h-1zM33 53h1v1h-1zM37 53h1v1h-1zM38 53h1v1h-1zM46 53h1v1h-1zM48 53h1v1h-1zM56 53h1v1h-1zM5 54h1v1h-1zM12 54h1v1h-1zM18 54h1v1h-1zM22 54h1v1h-1zM26 54h1v1h-1zM28 54h1v1h-1zM33 54h1v1h-1zM40 54h1v1h-1zM45 54h1v1h-1zM47 54h1v1h-1zM50 54h1v1h-1zM52 54h1v1h-1zM58 54h1v1h-1zM60 54h1v1h-1zM7 55h1v1h-1zM22 55h1v1h-1zM34 55h1v1h-1zM41 55h1v1h-1zM44 55h1v1h-1zM49 55h1v1h-1zM56 55h1v1h-1zM58 55h1v1h-1zM46 56h1v1h-1z" fill="rgb(255,255,255)" fill-opacity="0.14"/><path d="M6 0h1v1h-1zM10 0h1v1h-1zM12 0h1v1h-1zM36 0h1v1h-1zM47 0h1v1h-1zM49 0h1v1h-1zM12 1h1v1h-1zM14 1h1v1h-1zM20 1h1v1h-1zM33 1h1v1h-1zM56 1h1v1h-1zM9 2h1v1h-1zM10 2h1v1h-1zM27 2h1v1h-1zM30 2h1v1h-1zM57 2h1v1h-1zM3 3h1v1h-1zM10 3h1v1h-1zM26 3h1v1h-1zM42 3h1v1h-1zM48 3h1v1h-1zM50 3h1v1h-1zM58 3h1v1h-1zM6 4h1v1h-1zM21 4h1v1h-1zM26 4h1v1h-1zM27 4h1v1h-1zM29 4h1v1h-1zM37 4h1v1h-1zM41 4h1v1h-1zM46 4h1v1h-1zM48 4h1v1h-1zM53 4h1v1h-1zM60 4h1v1h-1zM2 5h1v1h-1zM21 5h1v1h-1zM24 5h1v1h-1zM33 5h1v1h-1zM37 5h1v1h-1zM45 5h1v1h-1zM58 5h1v1h-1zM12 6h1v1h-1zM14 6h1v1h-1zM22 6h1v1h-1zM43 6h1v1h-1zM2 7h1v1h-1zM3 7h1v1h-1zM10 7h1v1h-1zM11 7h1v1h-1zM21 7h1v1h-1zM26 7h1v1h-1zM38 7h1v1h-1zM44 7h1v1h-1zM46 7h1v1h-1zM53 7h1v1h-1zM58 7h1v1h-1zM9 8h1v1h-1zM20 8h1v1h-1zM22 8h1v1h-1zM24 8h1v1h-1zM33 8h1v1h-1zM48 8h1v1h-1zM54 8h1v1h-1zM55 8h1v1h-1zM4 9h1v1h-1zM18 9h1v1h-1zM28 9h1v1h-1zM34 9h1v1h-1zM41 9h1v1h-1zM58 9h1v1h-1zM15 10h1v1h-1zM16 10h1v1h-1zM21 10h1v1h-1zM32 10h1v1h-1zM44 10h1v1h-1zM60 10h1v1h-1zM0 11h1v1h-1zM8 11h1v1h-1zM23 11h1v1h-1zM32 11h1v1h-1zM35 11h1v1h-1zM39 11h1v1h-1zM40 11h1v1h-1zM8 12h1v1h-1zM9 12h1v1h-1zM36 12h1v1h-1zM40 12h1v1h-1zM51 12h1v1h-1zM14 13h1v1h-1zM21 13h1v1h-1zM33 13h1v1h-1zM44 13h1v1h-1zM7 14h1v1h-1zM42 14h1v1h-1zM52 14h1v1h-1zM59 14h1v1h-1zM2 15h1v1h-1zM33 15h1v1h-1zM47 15h1v1h-1zM53 15h1v1h-1zM1 16h1v1h-1zM8 16h1v1h-1zM9 16h1v1h-1zM12 16h1v1h-1zM25 16h1v1h-1zM28 16h1v1h-1zM39 16h1v1h-1zM42 16h1v1h-1zM45 16h1v1h-1zM48 16h1v1h-1zM52 16h1v1h-1zM13 17h1v1h-1zM14 17h1v1h-1zM15 17h1v1h-1zM21 17h1v1h-1zM42 17h1v1h-1zM44 17h1v1h-1zM49 17h1v1h-1zM3 18h1v1h-1zM9 18h1v1h-1zM24 18h1v1h-1zM29 18h1v1h-1zM34 18h1v1h-1zM39 18h1v1h-1zM42 18h1v1h-1zM45 18h1v1h-1zM57 18h1v1h-1zM59 18h1v1h-1zM0 19h1v1h-1zM10 19h1v1h-1zM57 19h1v1h-1zM11 20h1v1h-1zM26 20h1v1h-1zM31 20h1v1h-1zM41 20h1v1h-1zM52 20h1v1h-1zM26 21h1v1h-1zM36 21h1v1h-1zM47 21h1v1h-1zM14 22h1v1h-1zM25 22h1v1h-1zM45 22h1v1h-1zM51 22h1v1h-1zM54 22h1v1h-1zM12 23h1v1h-1zM14 23h1v1h-1zM16 23h1v1h-1zM25 23h1v1h-1zM38 23h1v1h-1zM40 23h1v1h-1zM41 23h1v1h-1zM56 23h1v1h-1zM11 24h1v1h-1zM17 24h1v1h-1zM25 24h1v1h-1zM37 24h1v1h-1zM39 24h1v1h-1zM42 24h1v1h-1zM50 24h1v1h-1zM1 25h1v1h-1zM26 25h1v1h-1zM32 25h1v1h-1zM33 25h1v1h-1zM52 25h1v1h-1zM3 26h1v1h-1zM9 26h1v1h-1zM17 26h1v1h-1zM33 26h1v1h-1zM37 26h1v1h-1zM44 26h1v1h-1zM47 26h1v1h-1zM17 27h1v1h-1zM40 27h1v1h-1zM0 28h1v1h-1zM2 28h1v1h-1zM15 28h1v1h-1zM34 28h1v1h-1zM38 28h1v1h-1zM40 28h1v1h-1zM42 28h1v1h-1zM47 28h1v1h-1zM57 28h1v1h-1zM60 28h1v1h-1zM5 29h1v1h-1zM21 29h1v1h-1zM26 29h1v1h-1zM34 29h1v1h-1zM59 29h1v1h-1zM5 30h1v1h-1zM8 30h1v1h-1zM18 30h1v1h-1zM28 30h1v1h-1zM29 30h1v1h-1zM31 30h1v1h-1zM36 30h1v1h-1zM38 30h1v1h-1zM48 30h1v1h-1zM4 31h1v1h-1zM23 31h1v1h-1zM40 31h1v1h-1zM49 31h1v1h-1zM0 32h1v1h-1zM19 32h1v1h-1zM31 32h1v1h-1zM49 32h1v1h-1zM50 32h1v1h-1zM53 32h1v1h-1zM5 33h1v1h-1zM7 33h1v1h-1zM19 33h1v1h-1zM28 33h1v1h-1zM40 33h1v1h-1zM41 33h1v1h-1zM47 33h1v1h-1zM54 33h1v1h-1zM60 33h1v1h-1zM6 34h1v1h-1zM21 34h1v1h-1zM23 34h1v1h-1zM24 34h1v1h-1zM35 34h1v1h-1zM43 34h1v1h-1zM52 34h1v1h-1zM19 35h1v1h-1zM23 35h1v1h-1zM33 35h1v1h-1zM34 35h1v1h-1zM48 35h1v1h-1zM52 35h1v1h-1zM58 35h1v1h-1zM8 36h1v1h-1zM9 36h1v1h-1zM10 36h1v1h-1zM11 36h1v1h-1zM17 36h1v1h-1zM35 36h1v1h-1zM41 36h1v1h-1zM48 36h1v1h-1zM49 36h1v1h-1zM52 36h1v1h-1zM60 36h1v1h-1zM6 37h1v1h-1zM7 37h1v1h-1zM35 37h1v1h-1zM38 37h1v1h-1zM3 38h1v1h-1zM6 38h1v1h-1zM22 38h1v1h-1zM24 38h1v1h-1zM40 38h1v1h-1zM43 38h1v1h-1zM4 39h1v1h-1zM18 39h1v1h-1zM24 39h1v1h-1zM30 39h1v1h-1zM38 39h1v1h-1zM39 39h1v1h-1zM40 39h1v1h-1zM1 40h1v1h-1zM2 40h1v1h-1zM10 40h1v1h-1zM15 40h1v1h-1zM27 40h1v1h-1zM31 40h1v1h-1zM40 40h1v1h-1zM53 40h1v1h-1zM58 40h1v1h-1zM26 41h1v1h-1zM34 41h1v1h-1zM35 41h1v1h-1zM40 41h1v1h-1zM3 42h1v1h-1zM12 42h1v1h-1zM17 42h1v1h-1zM18 42h1v1h-1zM19 42h1v1h-1zM21 42h1v1h-1zM23 42h1v1h-1zM25 42h1v1h-1zM44 42h1v1h-1zM46 42h1v1h-1zM52 42h1v1h-1zM60 42h1v1h-1zM23 43h1v1h-1zM43 43h1v1h-1zM7 44h1v1h-1zM23 44h1v1h-1zM40 44h1v1h-1zM45 44h1v1h-1zM46 44h1v1h-1zM49 44h1v1h-1zM59 44h1v1h-1zM1 45h1v1h-1zM12 45h1v1h-1zM40 45h1v1h-1zM43 45h1v1h-1zM45 45h1v1h-1zM46 45h1v1h-1zM4 46h1v1h-1zM6 46h1v1h-1zM19 46h1v1h-1zM24 46h1v1h-1zM25 46h1v1h-1zM29 46h1v1h-1zM40 46h1v1h-1zM41 46h1v1h-1zM50 46h1v1h-1zM6 47h1v1h-1zM26 47h1v1h-1zM29 47h1v1h-1zM31 47h1v1h-1zM35 47h1v1h-1zM55 47h1v1h-1zM56 47h1v1h-1zM57 47h1v1h-1zM11 48h1v1h-1zM15 48h1v1h-1zM19 48h1v1h-1zM28 48h1v1h-1zM36 48h1v1h-1zM37 48h1v1h-1zM38 48h1v1h-1zM40 48h1v1h-1zM56 48h1v1h-1zM2 49h1v1h-1zM23 49h1v1h-1zM32 49h1v1h-1zM36 49h1v1h-1zM39 49h1v1h-1zM48 49h1v1h-1zM57 49h1v1h-1zM14 50h1v1h-1zM16 50h1v1h-1zM26 50h1v1h-1zM30 50h1v1h-1zM36 50h1v1h-1zM37 50h1v1h-1zM59 50h1v1h-1zM3 51h1v1h-1zM17 51h1v1h-1zM20 51h1v1h-1zM23 51h1v1h-1zM27 51h1v1h-1zM36 51h1v1h-1zM59 51h1v1h-1zM0 52h1v1h-1zM2 52h1v1h-1zM9 52h1v1h-1zM24 52h1v1h-1zM33 52h1v1h-1zM40 52h1v1h-1zM42 52h1v1h-1zM45 52h1v1h-1zM13 53h1v1h-1zM15 53h1v1h-1zM19 53h1v1h-1zM29 53h1v1h-1zM41 53h1v1h-1zM60 53h1v1h-1zM6 54h1v1h-1zM23 54h1v1h-1zM27 54h1v1h-1zM39 54h1v1h-1zM43 54h1v1h-1zM54 54h1v1h-1zM57 54h1v1h-1zM8 55h1v1h-1zM10 55h1v1h-1zM11 55h1v1h-1zM16 55h1v1h-1zM20 55h1v1h-1zM24 55h1v1h-1zM33 55h1v1h-1zM38 55h1v1h-1zM0 56h1v1h-1zM11 56h1v1h-1zM22 56h1v1h-1zM23 56h1v1h-1zM29 56h1v1h-1zM30 56h1v1h-1zM50 56h1v1h-1zM53 56h1v1h-1zM54 56h1v1h-1zM56 56h1v1h-1z" fill="rgb(255,255,255)" fill-opacity="0.27"/><path d="M40 0h1v1h-1zM8 1h1v1h-1zM19 1h1v1h-1zM47 1h1v1h-1zM51 1h1v1h-1zM2 2h1v1h-1zM3 2h1v1h-1zM13 2h1v1h-1zM16 2h1v1h-1zM26 2h1v1h-1zM4 3h1v1h-1zM15 3h1v1h-1zM19 3h1v1h-1zM4 4h1v1h-1zM5 4h1v1h-1zM7 4h1v1h-1zM16 4h1v1h-1zM35 4h1v1h-1zM58 4h1v1h-1zM6 5h1v1h-1zM8 5h1v1h-1zM12 5h1v1h-1zM29 5h1v1h-1zM44 5h1v1h-1zM3 6h1v1h-1zM4 6h1v1h-1zM9 6h1v1h-1zM13 6h1v1h-1zM25 6h1v1h-1zM26 6h1v1h-1zM46 6h1v1h-1zM9 7h1v1h-1zM14 7h1v1h-1zM25 7h1v1h-1zM42 7h1v1h-1zM43 7h1v1h-1zM32 8h1v1h-1zM38 8h1v1h-1zM19 9h1v1h-1zM49 9h1v1h-1zM51 9h1v1h-1zM60 9h1v1h-1zM8 10h1v1h-1zM12 10h1v1h-1zM13 10h1v1h-1zM19 10h1v1h-1zM38 10h1v1h-1zM54 10h1v1h-1zM17 11h1v1h-1zM20 11h1v1h-1zM29 11h1v1h-1zM42 11h1v1h-1zM20 12h1v1h-1zM38 12h1v1h-1zM47 12h1v1h-1zM50 12h1v1h-1zM52 12h1v1h-1zM54 12h1v1h-1zM58 12h1v1h-1zM25 13h1v1h-1zM51 13h1v1h-1zM5 14h1v1h-1zM9 14h1v1h-1zM40 14h1v1h-1zM4 15h1v1h-1zM7 15h1v1h-1zM37 15h1v1h-1zM46 15h1v1h-1zM52 15h1v1h-1zM10 16h1v1h-1zM13 16h1v1h-1zM35 16h1v1h-1zM8 17h1v1h-1zM23 17h1v1h-1zM25 17h1v1h-1zM28 17h1v1h-1zM53 18h1v1h-1zM40 20h1v1h-1zM43 20h1v1h-1zM58 20h1v1h-1zM32 21h1v1h-1zM40 21h1v1h-1zM5 22h1v1h-1zM27 22h1v1h-1zM33 22h1v1h-1zM15 23h1v1h-1zM49 23h1v1h-1zM59 23h1v1h-1zM6 24h1v1h-1zM8 24h1v1h-1zM35 24h1v1h-1zM43 24h1v1h-1zM48 24h1v1h-1zM58 24h1v1h-1zM16 25h1v1h-1zM21 25h1v1h-1zM22 25h1v1h-1zM45 25h1v1h-1zM48 25h1v1h-1zM1 26h1v1h-1zM41 26h1v1h-1zM1 27h1v1h-1zM15 27h1v1h-1zM33 27h1v1h-1zM45 27h1v1h-1zM53 27h1v1h-1zM1 28h1v1h-1zM23 28h1v1h-1zM35 28h1v1h-1zM41 28h1v1h-1zM49 28h1v1h-1zM0 29h1v1h-1zM10 29h1v1h-1zM11 29h1v1h-1zM40 29h1v1h-1zM45 29h1v1h-1zM54 29h1v1h-1zM60 29h1v1h-1zM14 30h1v1h-1zM49 30h1v1h-1zM53 30h1v1h-1zM60 30h1v1h-1zM7 31h1v1h-1zM33 31h1v1h-1zM2 32h1v1h-1zM18 32h1v1h-1zM24 32h1v1h-1zM44 32h1v1h-1zM3 33h1v1h-1zM4 33h1v1h-1zM9 33h1v1h-1zM22 33h1v1h-1zM23 33h1v1h-1zM57 33h1v1h-1zM58 33h1v1h-1zM19 34h1v1h-1zM30 34h1v1h-1zM41 34h1v1h-1zM50 34h1v1h-1zM2 35h1v1h-1zM12 35h1v1h-1zM16 35h1v1h-1zM25 35h1v1h-1zM36 35h1v1h-1zM40 35h1v1h-1zM49 35h1v1h-1zM56 35h1v1h-1zM11 37h1v1h-1zM33 37h1v1h-1zM16 38h1v1h-1zM32 38h1v1h-1zM51 38h1v1h-1zM1 39h1v1h-1zM21 39h1v1h-1zM28 39h1v1h-1zM35 39h1v1h-1zM48 39h1v1h-1zM51 39h1v1h-1zM55 39h1v1h-1zM58 39h1v1h-1zM21 40h1v1h-1zM24 40h1v1h-1zM44 40h1v1h-1zM48 40h1v1h-1zM60 40h1v1h-1zM3 41h1v1h-1zM4 41h1v1h-1zM7 41h1v1h-1zM36 41h1v1h-1zM42 41h1v1h-1zM56 41h1v1h-1zM14 42h1v1h-1zM54 42h1v1h-1zM57 42h1v1h-1zM0 43h1v1h-1zM6 43h1v1h-1zM7 43h1v1h-1zM16 43h1v1h-1zM56 43h1v1h-1zM3 44h1v1h-1zM18 44h1v1h-1zM20 44h1v1h-1zM43 44h1v1h-1zM54 44h1v1h-1zM0 45h1v1h-1zM6 45h1v1h-1zM32 45h1v1h-1zM47 45h1v1h-1zM54 45h1v1h-1zM58 47h1v1h-1zM20 48h1v1h-1zM32 48h1v1h-1zM45 48h1v1h-1zM50 48h1v1h-1zM7 49h1v1h-1zM35 49h1v1h-1zM47 49h1v1h-1zM7 50h1v1h-1zM8 50h1v1h-1zM24 50h1v1h-1zM27 50h1v1h-1zM42 50h1v1h-1zM54 50h1v1h-1zM7 51h1v1h-1zM10 51h1v1h-1zM13 51h1v1h-1zM14 51h1v1h-1zM26 51h1v1h-1zM29 51h1v1h-1zM33 51h1v1h-1zM35 51h1v1h-1zM27 52h1v1h-1zM39 52h1v1h-1zM54 52h1v1h-1zM39 53h1v1h-1zM52 53h1v1h-1zM58 53h1v1h-1zM14 54h1v1h-1zM42 54h1v1h-1zM6 55h1v1h-1zM35 55h1v1h-1zM24 56h1v1h-1z" fill="rgb(255,255,255)" fill-opacity="0.42"/><path d="M20 0h1v1h-1zM27 0h1v1h-1zM31 0h1v1h-1zM37 0h1v1h-1zM1 1h1v1h-1zM6 1h1v1h-1zM9 1h1v1h-1zM18 1h1v1h-1zM15 2h1v1h-1zM20 2h1v1h-1zM36 2h1v1h-1zM7 3h1v1h-1zM40 3h1v1h-1zM52 3h1v1h-1zM57 3h1v1h-1zM23 4h1v1h-1zM31 4h1v1h-1zM0 5h1v1h-1zM13 5h1v1h-1zM22 5h1v1h-1zM25 5h1v1h-1zM42 5h1v1h-1zM51 5h1v1h-1zM5 6h1v1h-1zM50 6h1v1h-1zM51 6h1v1h-1zM30 7h1v1h-1zM37 7h1v1h-1zM52 7h1v1h-1zM11 9h1v1h-1zM16 9h1v1h-1zM40 9h1v1h-1zM57 9h1v1h-1zM10 10h1v1h-1zM35 10h1v1h-1zM36 10h1v1h-1zM49 10h1v1h-1zM9 11h1v1h-1zM10 11h1v1h-1zM24 11h1v1h-1zM26 11h1v1h-1zM58 11h1v1h-1zM60 11h1v1h-1zM1 12h1v1h-1zM23 12h1v1h-1zM49 12h1v1h-1zM57 12h1v1h-1zM9 13h1v1h-1zM10 13h1v1h-1zM43 13h1v1h-1zM45 13h1v1h-1zM55 13h1v1h-1zM1 14h1v1h-1zM3 14h1v1h-1zM8 14h1v1h-1zM28 14h1v1h-1zM56 14h1v1h-1zM14 15h1v1h-1zM20 15h1v1h-1zM29 15h1v1h-1zM22 16h1v1h-1zM32 16h1v1h-1zM40 16h1v1h-1zM46 16h1v1h-1zM10 17h1v1h-1zM33 17h1v1h-1zM34 17h1v1h-1zM39 17h1v1h-1zM51 17h1v1h-1zM53 17h1v1h-1zM59 17h1v1h-1zM41 18h1v1h-1zM43 18h1v1h-1zM44 18h1v1h-1zM2 19h1v1h-1zM8 19h1v1h-1zM23 19h1v1h-1zM56 19h1v1h-1zM58 19h1v1h-1zM29 20h1v1h-1zM57 20h1v1h-1zM10 21h1v1h-1zM25 21h1v1h-1zM39 21h1v1h-1zM43 21h1v1h-1zM54 21h1v1h-1zM3 22h1v1h-1zM7 22h1v1h-1zM21 22h1v1h-1zM35 22h1v1h-1zM52 22h1v1h-1zM4 23h1v1h-1zM34 23h1v1h-1zM36 23h1v1h-1zM47 23h1v1h-1zM2 24h1v1h-1zM14 24h1v1h-1zM6 25h1v1h-1zM7 25h1v1h-1zM15 25h1v1h-1zM24 25h1v1h-1zM36 25h1v1h-1zM59 25h1v1h-1zM60 25h1v1h-1zM46 26h1v1h-1zM4 27h1v1h-1zM10 27h1v1h-1zM12 27h1v1h-1zM13 27h1v1h-1zM18 27h1v1h-1zM22 27h1v1h-1zM32 27h1v1h-1zM34 27h1v1h-1zM57 27h1v1h-1zM59 27h1v1h-1zM13 28h1v1h-1zM18 28h1v1h-1zM26 28h1v1h-1zM33 28h1v1h-1zM19 29h1v1h-1zM42 29h1v1h-1zM3 30h1v1h-1zM10 30h1v1h-1zM30 30h1v1h-1zM44 30h1v1h-1zM8 31h1v1h-1zM22 31h1v1h-1zM24 31h1v1h-1zM27 31h1v1h-1zM30 31h1v1h-1zM43 31h1v1h-1zM45 31h1v1h-1zM47 31h1v1h-1zM22 32h1v1h-1zM41 32h1v1h-1zM45 32h1v1h-1zM46 32h1v1h-1zM56 32h1v1h-1zM0 33h1v1h-1zM13 33h1v1h-1zM29 33h1v1h-1zM49 33h1v1h-1zM55 33h1v1h-1zM36 34h1v1h-1zM57 34h1v1h-1zM4 35h1v1h-1zM29 35h1v1h-1zM16 36h1v1h-1zM28 36h1v1h-1zM29 36h1v1h-1zM36 36h1v1h-1zM37 36h1v1h-1zM42 36h1v1h-1zM57 36h1v1h-1zM5 38h1v1h-1zM8 38h1v1h-1zM13 38h1v1h-1zM42 38h1v1h-1zM0 39h1v1h-1zM25 39h1v1h-1zM16 40h1v1h-1zM23 40h1v1h-1zM33 40h1v1h-1zM49 40h1v1h-1zM59 40h1v1h-1zM9 41h1v1h-1zM12 41h1v1h-1zM13 41h1v1h-1zM14 41h1v1h-1zM41 41h1v1h-1zM53 41h1v1h-1zM9 42h1v1h-1zM26 42h1v1h-1zM40 42h1v1h-1zM11 43h1v1h-1zM17 43h1v1h-1zM19 43h1v1h-1zM26 43h1v1h-1zM45 43h1v1h-1zM46 43h1v1h-1zM49 43h1v1h-1zM51 43h1v1h-1zM33 44h1v1h-1zM41 44h1v1h-1zM31 45h1v1h-1zM34 45h1v1h-1zM9 46h1v1h-1zM13 46h1v1h-1zM18 46h1v1h-1zM28 46h1v1h-1zM34 46h1v1h-1zM0 47h1v1h-1zM22 47h1v1h-1zM32 47h1v1h-1zM37 47h1v1h-1zM53 47h1v1h-1zM13 48h1v1h-1zM3 49h1v1h-1zM45 49h1v1h-1zM33 50h1v1h-1zM43 50h1v1h-1zM19 51h1v1h-1zM34 51h1v1h-1zM44 51h1v1h-1zM47 51h1v1h-1zM3 52h1v1h-1zM32 52h1v1h-1zM52 52h1v1h-1zM59 52h1v1h-1zM0 53h1v1h-1zM3 53h1v1h-1zM23 53h1v1h-1zM28 53h1v1h-1zM53 53h1v1h-1zM54 53h1v1h-1zM59 53h1v1h-1zM7 54h1v1h-1zM13 54h1v1h-1zM21 54h1v1h-1zM29 54h1v1h-1zM35 54h1v1h-1zM12 55h1v1h-1zM14 55h1v1h-1zM37 55h1v1h-1zM39 55h1v1h-1zM47 55h1v1h-1zM50 55h1v1h-1zM55 55h1v1h-1zM1 56h1v1h-1zM21 56h1v1h-1zM36 56h1v1h-1zM41 56h1v1h-1zM42 56h1v1h-1z" fill="rgb(70,170,60)" fill-opacity="0.3"/><path d="M2 0h1v1h-1zM41 0h1v1h-1zM42 0h1v1h-1zM46 0h1v1h-1zM5 1h1v1h-1zM34 1h1v1h-1zM38 1h1v1h-1zM4 2h1v1h-1zM40 2h1v1h-1zM44 2h1v1h-1zM50 2h1v1h-1zM11 3h1v1h-1zM18 3h1v1h-1zM24 3h1v1h-1zM56 3h1v1h-1zM28 4h1v1h-1zM44 4h1v1h-1zM49 4h1v1h-1zM50 4h1v1h-1zM1 5h1v1h-1zM47 5h1v1h-1zM57 5h1v1h-1zM6 6h1v1h-1zM36 6h1v1h-1zM39 6h1v1h-1zM53 6h1v1h-1zM23 7h1v1h-1zM27 7h1v1h-1zM36 7h1v1h-1zM41 7h1v1h-1zM45 7h1v1h-1zM4 8h1v1h-1zM5 8h1v1h-1zM6 8h1v1h-1zM10 8h1v1h-1zM16 8h1v1h-1zM46 8h1v1h-1zM20 9h1v1h-1zM38 9h1v1h-1zM45 9h1v1h-1zM48 9h1v1h-1zM3 10h1v1h-1zM26 10h1v1h-1zM27 10h1v1h-1zM6 11h1v1h-1zM13 11h1v1h-1zM16 11h1v1h-1zM36 11h1v1h-1zM2 12h1v1h-1zM30 12h1v1h-1zM34 13h1v1h-1zM36 13h1v1h-1zM39 13h1v1h-1zM17 14h1v1h-1zM26 14h1v1h-1zM39 14h1v1h-1zM41 14h1v1h-1zM46 14h1v1h-1zM0 15h1v1h-1zM25 15h1v1h-1zM45 15h1v1h-1zM60 15h1v1h-1zM17 16h1v1h-1zM18 16h1v1h-1zM33 16h1v1h-1zM37 16h1v1h-1zM4 17h1v1h-1zM29 17h1v1h-1zM35 17h1v1h-1zM38 17h1v1h-1zM48 17h1v1h-1zM1 18h1v1h-1zM28 18h1v1h-1zM37 18h1v1h-1zM17 19h1v1h-1zM32 19h1v1h-1zM43 19h1v1h-1zM1 20h1v1h-1zM8 20h1v1h-1zM53 20h1v1h-1zM44 21h1v1h-1zM8 22h1v1h-1zM13 22h1v1h-1zM17 22h1v1h-1zM57 22h1v1h-1zM1 23h1v1h-1zM31 23h1v1h-1zM42 23h1v1h-1zM13 24h1v1h-1zM32 24h1v1h-1zM33 24h1v1h-1zM17 25h1v1h-1zM27 25h1v1h-1zM47 25h1v1h-1zM26 26h1v1h-1zM35 26h1v1h-1zM51 26h1v1h-1zM60 26h1v1h-1zM8 27h1v1h-1zM50 27h1v1h-1zM11 28h1v1h-1zM32 28h1v1h-1zM36 28h1v1h-1zM32 29h1v1h-1zM26 30h1v1h-1zM34 30h1v1h-1zM37 31h1v1h-1zM50 31h1v1h-1zM39 32h1v1h-1zM2 33h1v1h-1zM3 34h1v1h-1zM58 34h1v1h-1zM5 35h1v1h-1zM15 35h1v1h-1zM20 35h1v1h-1zM45 35h1v1h-1zM5 36h1v1h-1zM40 36h1v1h-1zM44 36h1v1h-1zM2 37h1v1h-1zM13 37h1v1h-1zM18 37h1v1h-1zM36 37h1v1h-1zM28 38h1v1h-1zM29 38h1v1h-1zM31 38h1v1h-1zM33 38h1v1h-1zM56 38h1v1h-1zM37 39h1v1h-1zM7 40h1v1h-1zM14 40h1v1h-1zM38 40h1v1h-1zM5 41h1v1h-1zM25 41h1v1h-1zM44 41h1v1h-1zM60 41h1v1h-1zM7 42h1v1h-1zM34 42h1v1h-1zM39 42h1v1h-1zM10 43h1v1h-1zM37 43h1v1h-1zM57 43h1v1h-1zM59 43h1v1h-1zM14 45h1v1h-1zM23 45h1v1h-1zM33 45h1v1h-1zM12 46h1v1h-1zM27 46h1v1h-1zM33 46h1v1h-1zM43 46h1v1h-1zM13 47h1v1h-1zM46 47h1v1h-1zM60 47h1v1h-1zM5 48h1v1h-1zM27 48h1v1h-1zM29 48h1v1h-1zM16 49h1v1h-1zM21 49h1v1h-1zM29 49h1v1h-1zM31 49h1v1h-1zM38 49h1v1h-1zM46 49h1v1h-1zM35 50h1v1h-1zM1 51h1v1h-1zM41 51h1v1h-1zM54 51h1v1h-1zM16 52h1v1h-1zM29 52h1v1h-1zM53 52h1v1h-1zM21 53h1v1h-1zM45 53h1v1h-1zM10 54h1v1h-1zM51 54h1v1h-1zM45 55h1v1h-1zM20 56h1v1h-1zM39 56h1v1h-1zM45 56h1v1h-1zM47 56h1v1h-1zM57 56h1v1h-1z" fill="rgb(80,80,200)" fill-opacity="0.26"/><path d="M30 0h1v1h-1zM44 0h1v1h-1zM55 0h1v1h-1zM42 1h1v1h-1zM37 2h1v1h-1zM0 3h1v1h-1zM16 3h1v1h-1zM53 3h1v1h-1zM8 4h1v1h-1zM14 5h1v1h-1zM31 6h1v1h-1zM18 8h1v1h-1zM35 8h1v1h-1zM32 9h1v1h-1zM54 9h1v1h-1zM23 10h1v1h-1zM34 10h1v1h-1zM15 11h1v1h-1zM38 11h1v1h-1zM46 11h1v1h-1zM18 12h1v1h-1zM28 12h1v1h-1zM34 12h1v1h-1zM39 12h1v1h-1zM48 12h1v1h-1zM55 12h1v1h-1zM56 12h1v1h-1zM4 13h1v1h-1zM29 13h1v1h-1zM41 13h1v1h-1zM47 13h1v1h-1zM56 13h1v1h-1zM57 13h1v1h-1zM25 14h1v1h-1zM33 14h1v1h-1zM34 14h1v1h-1zM55 14h1v1h-1zM8 15h1v1h-1zM13 15h1v1h-1zM27 15h1v1h-1zM32 15h1v1h-1zM42 15h1v1h-1zM4 16h1v1h-1zM16 16h1v1h-1zM5 17h1v1h-1zM32 17h1v1h-1zM55 17h1v1h-1zM0 18h1v1h-1zM19 18h1v1h-1zM30 18h1v1h-1zM38 18h1v1h-1zM47 18h1v1h-1zM37 19h1v1h-1zM38 19h1v1h-1zM55 19h1v1h-1zM17 20h1v1h-1zM44 20h1v1h-1zM54 20h1v1h-1zM27 21h1v1h-1zM29 21h1v1h-1zM41 21h1v1h-1zM55 21h1v1h-1zM59 21h1v1h-1zM12 22h1v1h-1zM23 22h1v1h-1zM30 22h1v1h-1zM5 23h1v1h-1zM11 23h1v1h-1zM13 23h1v1h-1zM30 23h1v1h-1zM39 23h1v1h-1zM44 23h1v1h-1zM1 24h1v1h-1zM19 24h1v1h-1zM21 24h1v1h-1zM22 24h1v1h-1zM36 24h1v1h-1zM54 24h1v1h-1zM9 25h1v1h-1zM29 25h1v1h-1zM35 25h1v1h-1zM44 25h1v1h-1zM16 26h1v1h-1zM25 26h1v1h-1zM32 26h1v1h-1zM42 26h1v1h-1zM9 27h1v1h-1zM28 27h1v1h-1zM49 27h1v1h-1zM3 29h1v1h-1zM14 29h1v1h-1zM12 30h1v1h-1zM52 30h1v1h-1zM28 31h1v1h-1zM5 32h1v1h-1zM26 32h1v1h-1zM47 32h1v1h-1zM8 33h1v1h-1zM10 33h1v1h-1zM25 33h1v1h-1zM42 33h1v1h-1zM51 33h1v1h-1zM1 34h1v1h-1zM16 34h1v1h-1zM45 34h1v1h-1zM60 34h1v1h-1zM1 35h1v1h-1zM17 35h1v1h-1zM31 36h1v1h-1zM1 37h1v1h-1zM16 37h1v1h-1zM26 37h1v1h-1zM50 37h1v1h-1zM52 37h1v1h-1zM10 38h1v1h-1zM20 38h1v1h-1zM60 38h1v1h-1zM26 40h1v1h-1zM32 40h1v1h-1zM43 40h1v1h-1zM45 40h1v1h-1zM2 41h1v1h-1zM8 41h1v1h-1zM21 41h1v1h-1zM22 41h1v1h-1zM28 42h1v1h-1zM33 42h1v1h-1zM47 42h1v1h-1zM48 42h1v1h-1zM15 43h1v1h-1zM25 43h1v1h-1zM38 43h1v1h-1zM2 44h1v1h-1zM17 44h1v1h-1zM35 44h1v1h-1zM53 44h1v1h-1zM60 44h1v1h-1zM20 45h1v1h-1zM3 46h1v1h-1zM26 46h1v1h-1zM36 46h1v1h-1zM42 46h1v1h-1zM46 46h1v1h-1zM53 46h1v1h-1zM9 47h1v1h-1zM28 47h1v1h-1zM36 47h1v1h-1zM40 47h1v1h-1zM48 47h1v1h-1zM59 47h1v1h-1zM55 48h1v1h-1zM59 48h1v1h-1zM6 49h1v1h-1zM8 49h1v1h-1zM9 49h1v1h-1zM43 49h1v1h-1zM49 49h1v1h-1zM52 49h1v1h-1zM3 50h1v1h-1zM29 50h1v1h-1zM46 50h1v1h-1zM5 51h1v1h-1zM22 51h1v1h-1zM45 51h1v1h-1zM20 53h1v1h-1zM35 53h1v1h-1zM49 53h1v1h-1zM51 53h1v1h-1zM57 53h1v1h-1zM1 54h1v1h-1zM3 54h1v1h-1zM4 54h1v1h-1zM34 54h1v1h-1zM41 54h1v1h-1zM46 54h1v1h-1zM1 55h1v1h-1zM2 55h1v1h-1zM9 55h1v1h-1zM57 55h1v1h-1zM8 56h1v1h-1zM32 56h1v1h-1zM43 56h1v1h-1z" fill="rgb(220,200,90)" fill-opacity="0.3"/><path d="M35 0h1v1h-1zM59 1h1v1h-1zM35 2h1v1h-1zM47 3h1v1h-1zM9 4h1v1h-1zM12 4h1v1h-1zM13 4h1v1h-1zM34 4h1v1h-1zM9 5h1v1h-1zM30 5h1v1h-1zM46 5h1v1h-1zM59 5h1v1h-1zM35 6h1v1h-1zM7 7h1v1h-1zM51 7h1v1h-1zM1 8h1v1h-1zM14 8h1v1h-1zM0 9h1v1h-1zM13 9h1v1h-1zM29 10h1v1h-1zM14 11h1v1h-1zM30 11h1v1h-1zM45 11h1v1h-1zM49 11h1v1h-1zM52 11h1v1h-1zM5 12h1v1h-1zM27 12h1v1h-1zM42 12h1v1h-1zM35 13h1v1h-1zM37 13h1v1h-1zM13 14h1v1h-1zM20 14h1v1h-1zM29 14h1v1h-1zM24 15h1v1h-1zM48 15h1v1h-1zM20 16h1v1h-1zM29 16h1v1h-1zM3 17h1v1h-1zM12 17h1v1h-1zM41 17h1v1h-1zM14 19h1v1h-1zM27 19h1v1h-1zM33 19h1v1h-1zM48 19h1v1h-1zM0 20h1v1h-1zM47 20h1v1h-1zM12 21h1v1h-1zM30 21h1v1h-1zM42 21h1v1h-1zM19 22h1v1h-1zM60 22h1v1h-1zM22 23h1v1h-1zM35 23h1v1h-1zM10 24h1v1h-1zM47 24h1v1h-1zM19 25h1v1h-1zM25 25h1v1h-1zM38 25h1v1h-1zM11 26h1v1h-1zM29 26h1v1h-1zM36 26h1v1h-1zM8 28h1v1h-1zM14 28h1v1h-1zM22 29h1v1h-1zM33 29h1v1h-1zM36 29h1v1h-1zM46 29h1v1h-1zM47 29h1v1h-1zM51 29h1v1h-1zM52 29h1v1h-1zM56 29h1v1h-1zM25 30h1v1h-1zM0 31h1v1h-1zM29 31h1v1h-1zM54 31h1v1h-1zM7 32h1v1h-1zM34 32h1v1h-1zM42 32h1v1h-1zM57 32h1v1h-1zM24 33h1v1h-1zM30 33h1v1h-1zM33 33h1v1h-1zM45 33h1v1h-1zM14 34h1v1h-1zM15 34h1v1h-1zM28 34h1v1h-1zM44 34h1v1h-1zM7 35h1v1h-1zM26 35h1v1h-1zM28 35h1v1h-1zM43 35h1v1h-1zM53 35h1v1h-1zM25 37h1v1h-1zM40 37h1v1h-1zM51 37h1v1h-1zM4 38h1v1h-1zM19 38h1v1h-1zM38 38h1v1h-1zM8 39h1v1h-1zM9 39h1v1h-1zM11 39h1v1h-1zM13 39h1v1h-1zM29 40h1v1h-1zM34 40h1v1h-1zM36 40h1v1h-1zM55 40h1v1h-1zM37 41h1v1h-1zM52 41h1v1h-1zM11 42h1v1h-1zM33 43h1v1h-1zM10 44h1v1h-1zM24 44h1v1h-1zM25 44h1v1h-1zM29 44h1v1h-1zM16 45h1v1h-1zM22 45h1v1h-1zM41 45h1v1h-1zM32 46h1v1h-1zM35 46h1v1h-1zM38 46h1v1h-1zM44 46h1v1h-1zM55 46h1v1h-1zM58 46h1v1h-1zM59 46h1v1h-1zM25 47h1v1h-1zM30 47h1v1h-1zM12 48h1v1h-1zM21 48h1v1h-1zM47 48h1v1h-1zM14 49h1v1h-1zM56 49h1v1h-1zM25 50h1v1h-1zM38 50h1v1h-1zM39 50h1v1h-1zM49 51h1v1h-1zM21 52h1v1h-1zM2 53h1v1h-1zM12 53h1v1h-1zM38 54h1v1h-1zM17 55h1v1h-1zM51 55h1v1h-1zM9 56h1v1h-1zM51 56h1v1h-1z" fill="rgb(170,70,120)" fill-opacity="0.24"/></pattern></defs>
<rect x="150.0" y="130.0" width="243.8" height="113.8" fill="#222"/>
<rect x="150" y="130" width="7.5" height="7.62" fill="#25383e"/>
<rect x="150" y="137.62" width="7.5" height="6.52" fill="#26383f"/>
<rect x="150" y="144.14" width="7.5" height="6.52" fill="#27393f"/>
<rect x="150" y="150.66" width="7.5" height="6.52" fill="#293940"/>
<rect x="150" y="157.18" width="7.5" height="6.52" fill="#2a3a40"/>
<rect x="150" y="163.7" width="7.5" height="6.52" fill="#2c3a41"/>
<rect x="150" y="170.22" width="7.5" height="6.52" fill="#2d3b41"/>
<rect x="150" y="176.74" width="7.5" height="6.52" fill="#2f3b42"/>
<rect x="150" y="183.26" width="7.5" height="6.52" fill="#303c42"/>
<rect x="150" y="189.78" width="7.5" height="6.52" fill="#313c42"/>
<rect x="150" y="196.3" width="7.5" height="6.52" fill="#333c43"/>
<rect x="150" y="202.82" width="7.5" height="6.52" fill="#343c43"/>
<rect x="150" y="209.34" width="7.5" height="6.52" fill="#353d44"/>
<rect x="150" y="215.86" width="7.5" height="6.52" fill="#373d44"/>
<rect x="150" y="222.38" width="7.5" height="6.52" fill="#383d45"/>
<rect x="150" y="228.9" width="7.5" height="6.52" fill="#3a3d45"/>
<rect x="150" y="235.42" width="7.5" height="6.52" fill="#3b3d45"/>
<rect x="150" y="241.94" width="7.5" height="1.86" fill="#3b3d45"/>
<rect x="157.5" y="130" width="6.5" height="7.62" fill="#283d3f"/>
<rect x="157.5" y="137.62" width="6.5" height="6.52" fill="#293d3f"/>
<rect x="157.5" y="144.14" width="6.5" height="6.52" fill="#2b3e40"/>
<rect x="157.5" y="150.66" width="6.5" height="6.52" fill="#2c3e40"/>
<rect x="157.5" y="157.18" width="6.5" height="6.52" fill="#2e3f41"/>
<rect x="157.5" y="163.7" width="6.5" height="6.52" fill="#2f3f41"/>
<rect x="157.5" y="170.22" width="6.5" height="6.52" fill="#304042"/>
<rect x="157.5" y="176.74" width="6.5" height="6.52" fill="#324042"/>
<rect x="157.5" y="183.26" width="6.5" height="6.52" fill="#334143"/>
<rect x="157.5" y="189.78" width="6.5" height="6.52" fill="#344143"/>
<rect x="157.5" y="196.3" width="6.5" height="6.52" fill="#364144"/>
<rect x="157.5" y="202.82" width="6.5" height="6.52" fill="#374144"/>
<rect x="157.5" y="209.34" width="6.5" height="6.52" fill="#394245"/>
<rect x="157.5" y="215.86" width="6.5" height="6.52" fill="#3a4245"/>
<rect x="157.5" y="222.38" width="6.5" height="6.52" fill="#3b4246"/>
<rect x="157.5" y="228.9" width="6.5" height="6.52" fill="#3d4246"/>
<rect x="157.5" y="235.42" width="6.5" height="6.52" fill="#3e4347"/>
<rect x="157.5" y="241.94" width="6.5" height="1.86" fill="#3e4347"/>
<rect x="164" y="130" width="6.5" height="7.62" fill="#2b413f"/>
<rect x="164" y="137.62" width="6.5" height="6.52" fill="#2c4240"/>
<rect x="164" y="144.14" width="6.5" height="6.52" fill="#2e4240"/>
<rect x="164" y="150.66" width="6.5" height="6.52" fill="#2f4341"/>
<rect x="164" y="157.18" width="6.5" height="6.52" fill="#304341"/>
<rect x="164" y="163.7" width="6.5" height="6.52" fill="#324442"/>
<rect x="164" y="170.22" width="6.5" height="6.52" fill="#334443"/>
<rect x="164" y="176.74" width="6.5" height="6.52" fill="#354543"/>
<rect x="164" y="183.26" width="6.5" height="6.52" fill="#364544"/>
<rect x="164" y="189.78" width="6.5" height="6.52" fill="#374644"/>
<rect x="164" y="196.3" width="6.5" height="6.52" fill="#394645"/>
<rect x="164" y="202.82" width="6.5" height="6.52" fill="#3a4645"/>
<rect x="164" y="209.34" width="6.5" height="6.52" fill="#3b4746"/>
<rect x="164" y="215.86" width="6.5" height="6.52" fill="#3d4746"/>
<rect x="164" y="222.38" width="6.5" height="6.52" fill="#3e4747"/>
<rect x="164" y="228.9" width="6.5" height="6.52" fill="#404747"/>
<rect x="164" y="235.42" width="6.5" height="6.52" fill="#414848"/>
<rect x="164" y="241.94" width="6.5" height="1.86" fill="#414848"/>
<rect x="170.5" y="130" width="6.5" height="7.62" fill="#2e4540"/>
<rect x="170.5" y="137.62" width="6.5" height="6.52" fill="#2f4640"/>
<rect x="170.5" y="144.14" width="6.5" height="6.52" fill="#314741"/>
<rect x="170.5" y="150.66" width="6.5" height="6.52" fill="#324741"/>
<rect x="170.5" y="157.18" width="6.5" height="6.52" fill="#334842"/>
<rect x="170.5" y="163.7" width="6.5" height="6.52" fill="#354843"/>
<rect x="170.5" y="170.22" width="6.5" height="6.52" fill="#364943"/>
<rect x="170.5" y="176.74" width="6.5" height="6.52" fill="#374a44"/>
<rect x="170.5" y="183.26" width="6.5" height="6.52" fill="#394a44"/>
<rect x="170.5" y="189.78" width="6.5" height="6.52" fill="#3a4a45"/>
<rect x="170.5" y="196.3" width="6.5" height="6.52" fill="#3c4b45"/>
<rect x="170.5" y="202.82" width="6.5" height="6.52" fill="#3d4b46"/>
<rect x="170.5" y="209.34" width="6.5" height="6.52" fill="#3e4b47"/>
<rect x="170.5" y="215.86" width="6.5" height="6.52" fill="#404c47"/>
<rect x="170.5" y="222.38" width="6.5" height="6.52" fill="#414c48"/>
<rect x="170.5" y="228.9" width="6.5" height="6.52" fill="#434c48"/>
<rect x="170.5" y="235.42" width="6.5" height="6.52" fill="#444d49"/>
<rect x="170.5" y="241.94" width="6.5" height="1.86" fill="#444d49"/>
<rect x="177" y="130" width="6.5" height="7.62" fill="#314a40"/>
<rect x="177" y="137.62" width="6.5" height="6.52" fill="#324a41"/>
<rect x="177" y="144.14" width="6.5" height="6.52" fill="#344b41"/>
<rect x="177" y="150.66" width="6.5" height="6.52" fill="#354c42"/>
<rect x="177" y="157.18" width="6.5" height="6.52" fill="#364c43"/>
<rect x="177" y="163.7" width="6.5" height="6.52" fill="#384d43"/>
<rect x="177" y="170.22" width="6.5" height="6.52" fill="#394e44"/>
<rect x="177" y="176.74" width="6.5" height="6.52" fill="#3a4e45"/>
<rect x="177" y="183.26" width="6.5" height="6.52" fill="#3c4f45"/>
<rect x="177" y="189.78" width="6.5" height="6.52" fill="#3d4f46"/>
<rect x="177" y="196.3" width="6.5" height="6.52" fill="#3e5046"/>
<rect x="177" y="202.82" width="6.5" height="6.52" fill="#405047"/>
<rect x="177" y="209.34" width="6.5" height="6.52" fill="#415048"/>
<rect x="177" y="215.86" width="6.5" height="6.52" fill="#435148"/>
<rect x="177" y="222.38" width="6.5" height="6.52" fill="#445149"/>
<rect x="177" y="228.9" width="6.5" height="6.52" fill="#455149"/>
<rect x="177" y="235.42" width="6.5" height="6.52" fill="#47524a"/>
<rect x="177" y="241.94" width="6.5" height="1.86" fill="#47524a"/>
<rect x="183.5" y="130" width="6.5" height="7.62" fill="#344e41"/>
<rect x="183.5" y="137.62" width="6.5" height="6.52" fill="#364f41"/>
<rect x="183.5" y="144.14" width="6.5" height="6.52" fill="#374f42"/>
<rect x="183.5" y="150.66" width="6.5" height="6.52" fill="#385043"/>
<rect x="183.5" y="157.18" width="6.5" height="6.52" fill="#395143"/>
<rect x="183.5" y="163.7" width="6.5" height="6.52" fill="#3b5244"/>
<rect x="183.5" y="170.22" width="6.5" height="6.52" fill="#3c5245"/>
<rect x="183.5" y="176.74" width="6.5" height="6.52" fill="#3d5345"/>
<rect x="183.5" y="183.26" width="6.5" height="6.52" fill="#3f5446"/>
<rect x="183.5" y="189.78" width="6.5" height="6.52" fill="#405447"/>
<rect x="183.5" y="196.3" width="6.5" height="6.52" fill="#415447"/>
<rect x="183.5" y="202.82" width="6.5" height="6.52" fill="#435548"/>
<rect x="183.5" y="209.34" width="6.5" height="6.52" fill="#445548"/>
<rect x="183.5" y="215.86" width="6.5" height="6.52" fill="#465549"/>
<rect x="183.5" y="222.38" width="6.5" height="6.52" fill="#47564a"/>
<rect x="183.5" y="228.9" width="6.5" height="6.52" fill="#48564a"/>
<rect x="183.5" y="235.42" width="6.5" height="6.52" fill="#4a574b"/>
<rect x="183.5" y="241.94" width="6.5" height="1.86" fill="#4a574b"/>
<rect x="190" y="130" width="6.5" height="7.62" fill="#375341"/>
<rect x="190" y="137.62" width="6.5" height="6.52" fill="#395342"/>
<rect x="190" y="144.14" width="6.5" height="6.52" fill="#3a5442"/>
<rect x="190" y="150.66" width="6.5" height="6.52" fill="#3b5543"/>
<rect x="190" y="157.18" width="6.5" height="6.52" fill="#3c5544"/>
<rect x="190" y="163.7" width="6.5" height="6.52" fill="#3e5645"/>
<rect x="190" y="170.22" width="6.5" height="6.52" fill="#3f5745"/>
<rect x="190" y="176.74" width="6.5" height="6.52" fill="#405746"/>
<rect x="190" y="183.26" width="6.5" height="6.52" fill="#415847"/>
<rect x="190" y="189.78" width="6.5" height="6.52" fill="#435947"/>
<rect x="190" y="196.3" width="6.5" height="6.52" fill="#445948"/>
<rect x="190" y="202.82" width="6.5" height="6.52" fill="#465949"/>
<rect x="190" y="209.34" width="6.5" height="6.52" fill="#475a49"/>
<rect x="190" y="215.86" width="6.5" height="6.52" fill="#485a4a"/>
<rect x="190" y="222.38" width="6.5" height="6.52" fill="#4a5b4b"/>
<rect x="190" y="228.9" width="6.5" height="6.52" fill="#4b5b4b"/>
<rect x="190" y="235.42" width="6.5" height="6.52" fill="#4d5c4c"/>
<rect x="190" y="241.94" width="6.5" height="1.86" fill="#4d5c4c"/>
<rect x="196.5" y="130" width="6.5" height="7.62" fill="#3b5742"/>
<rect x="196.5" y="137.62" width="6.5" height="6.52" fill="#3c5842"/>
<rect x="196.5" y="144.14" width="6.5" height="6.52" fill="#3d5843"/>
<rect x="196.5" y="150.66" width="6.5" height="6.52" fill="#3e5944"/>
<rect x="196.5" y="157.18" width="6.5" height="6.52" fill="#3f5a45"/>
<rect x="196.5" y="163.7" width="6.5" height="6.52" fill="#415b45"/>
<rect x="196.5" y="170.22" width="6.5" height="6.52" fill="#425b46"/>
<rect x="196.5" y="176.74" width="6.5" height="6.52" fill="#435c47"/>
<rect x="196.5" y="183.26" width="6.5" height="6.52" fill="#445d48"/>
<rect x="196.5" y="189.78" width="6.5" height="6.52" fill="#465d48"/>
<rect x="196.5" y="196.3" width="6.5" height="6.52" fill="#475e49"/>
<rect x="196.5" y="202.82" width="6.5" height="6.52" fill="#495e4a"/>
<rect x="196.5" y="209.34" width="6.5" height="6.52" fill="#4a5f4a"/>
<rect x="196.5" y="215.86" width="6.5" height="6.52" fill="#4c5f4b"/>
<rect x="196.5" y="222.38" width="6.5" height="6.52" fill="#4d604c"/>
<rect x="196.5" y="228.9" width="6.5" height="6.52" fill="#4e604d"/>
<rect x="196.5" y="235.42" width="6.5" height="6.52" fill="#50614d"/>
<rect x="196.5" y="241.94" width="6.5" height="1.86" fill="#50614d"/>
<rect x="203" y="130" width="6.5" height="7.62" fill="#3f5c43"/>
<rect x="203" y="137.62" width="6.5" height="6.52" fill="#405c44"/>
<rect x="203" y="144.14" width="6.5" height="6.52" fill="#415d45"/>
<rect x="203" y="150.66" width="6.5" height="6.52" fill="#435e45"/>
<rect x="203" y="157.18" width="6.5" height="6.52" fill="#445e46"/>
<rect x="203" y="163.7" width="6.5" height="6.52" fill="#455f47"/>
<rect x="203" y="170.22" width="6.5" height="6.52" fill="#466048"/>
<rect x="203" y="176.74" width="6.5" height="6.52" fill="#486149"/>
<rect x="203" y="183.26" width="6.5" height="6.52" fill="#49614a"/>
<rect x="203" y="189.78" width="6.5" height="6.52" fill="#4a624a"/>
<rect x="203" y="196.3" width="6.5" height="6.52" fill="#4c624b"/>
<rect x="203" y="202.82" width="6.5" height="6.52" fill="#4d634c"/>
<rect x="203" y="209.34" width="6.5" height="6.52" fill="#4e634d"/>
<rect x="203" y="215.86" width="6.5" height="6.52" fill="#50644e"/>
<rect x="203" y="222.38" width="6.5" height="6.52" fill="#51644e"/>
<rect x="203" y="228.9" width="6.5" height="6.52" fill="#53644f"/>
<rect x="203" y="235.42" width="6.5" height="6.52" fill="#546550"/>
<rect x="203" y="241.94" width="6.5" height="1.86" fill="#546550"/>
<rect x="209.5" y="130" width="6.5" height="7.62" fill="#436045"/>
<rect x="209.5" y="137.62" width="6.5" height="6.52" fill="#446145"/>
<rect x="209.5" y="144.14" width="6.5" height="6.52" fill="#466246"/>
<rect x="209.5" y="150.66" width="6.5" height="6.52" fill="#476247"/>
<rect x="209.5" y="157.18" width="6.5" height="6.52" fill="#486348"/>
<rect x="209.5" y="163.7" width="6.5" height="6.52" fill="#496449"/>
<rect x="209.5" y="170.22" width="6.5" height="6.52" fill="#4b654a"/>
<rect x="209.5" y="176.74" width="6.5" height="6.52" fill="#4c654b"/>
<rect x="209.5" y="183.26" width="6.5" height="6.52" fill="#4d664c"/>
<rect x="209.5" y="189.78" width="6.5" height="6.52" fill="#4f664c"/>
<rect x="209.5" y="196.3" width="6.5" height="6.52" fill="#50674d"/>
<rect x="209.5" y="202.82" width="6.5" height="6.52" fill="#51674e"/>
<rect x="209.5" y="209.34" width="6.5" height="6.52" fill="#53684f"/>
<rect x="209.5" y="215.86" width="6.5" height="6.52" fill="#546850"/>
<rect x="209.5" y="222.38" width="6.5" height="6.52" fill="#566851"/>
<rect x="209.5" y="228.9" width="6.5" height="6.52" fill="#576952"/>
<rect x="209.5" y="235.42" width="6.5" height="6.52" fill="#586953"/>
<rect x="209.5" y="241.94" width="6.5" height="1.86" fill="#596953"/>
<rect x="216" y="130" width="6.5" height="7.62" fill="#486546"/>
<rect x="216" y="137.62" width="6.5" height="6.52" fill="#496547"/>
<rect x="216" y="144.14" width="6.5" height="6.52" fill="#4a6648"/>
<rect x="216" y="150.66" width="6.5" height="6.52" fill="#4b6749"/>
<rect x="216" y="157.18" width="6.5" height="6.52" fill="#4c684a"/>
<rect x="216" y="163.7" width="6.5" height="6.52" fill="#4e684b"/>
<rect x="216" y="170.22" width="6.5" height="6.52" fill="#4f694c"/>
<rect x="216" y="176.74" width="6.5" height="6.52" fill="#506a4d"/>
<rect x="216" y="183.26" width="6.5" height="6.52" fill="#516b4e"/>
<rect x="216" y="189.78" width="6.5" height="6.52" fill="#536b4f"/>
<rect x="216" y="196.3" width="6.5" height="6.52" fill="#546b4f"/>
<rect x="216" y="202.82" width="6.5" height="6.52" fill="#566c50"/>
<rect x="216" y="209.34" width="6.5" height="6.52" fill="#576c51"/>
<rect x="216" y="215.86" width="6.5" height="6.52" fill="#586c52"/>
<rect x="216" y="222.38" width="6.5" height="6.52" fill="#5a6d53"/>
<rect x="216" y="228.9" width="6.5" height="6.52" fill="#5b6d54"/>
<rect x="216" y="235.42" width="6.5" height="6.52" fill="#5d6d55"/>
<rect x="216" y="241.94" width="6.5" height="1.86" fill="#5d6e56"/>
<rect x="222.5" y="130" width="6.5" height="7.62" fill="#4c6947"/>
<rect x="222.5" y="137.62" width="6.5" height="6.52" fill="#4d6a48"/>
<rect x="222.5" y="144.14" width="6.5" height="6.52" fill="#4e6b49"/>
<rect x="222.5" y="150.66" width="6.5" height="6.52" fill="#506b4a"/>
<rect x="222.5" y="157.18" width="6.5" height="6.52" fill="#516c4b"/>
<rect x="222.5" y="163.7" width="6.5" height="6.52" fill="#526d4c"/>
<rect x="222.5" y="170.22" width="6.5" height="6.52" fill="#536e4d"/>
<rect x="222.5" y="176.74" width="6.5" height="6.52" fill="#556f4e"/>
<rect x="222.5" y="183.26" width="6.5" height="6.52" fill="#566f4f"/>
<rect x="222.5" y="189.78" width="6.5" height="6.52" fill="#577051"/>
<rect x="222.5" y="196.3" width="6.5" height="6.52" fill="#597052"/>
<rect x="222.5" y="202.82" width="6.5" height="6.52" fill="#5a7053"/>
<rect x="222.5" y="209.34" width="6.5" height="6.52" fill="#5b7154"/>
<rect x="222.5" y="215.86" width="6.5" height="6.52" fill="#5d7155"/>
<rect x="222.5" y="222.38" width="6.5" height="6.52" fill="#5e7156"/>
<rect x="222.5" y="228.9" width="6.5" height="6.52" fill="#607157"/>
<rect x="222.5" y="235.42" width="6.5" height="6.52" fill="#617258"/>
<rect x="222.5" y="241.94" width="6.5" height="1.86" fill="#617258"/>
<rect x="229" y="130" width="6.5" height="7.62" fill="#506e49"/>
<rect x="229" y="137.62" width="6.5" height="6.52" fill="#516f4a"/>
<rect x="229" y="144.14" width="6.5" height="6.52" fill="#536f4b"/>
<rect x="229" y="150.66" width="6.5" height="6.52" fill="#54704c"/>
<rect x="229" y="157.18" width="6.5" height="6.52" fill="#55714d"/>
<rect x="229" y="163.7" width="6.5" height="6.52" fill="#56724e"/>
<rect x="229" y="170.22" width="6.5" height="6.52" fill="#58724f"/>
<rect x="229" y="176.74" width="6.5" height="6.52" fill="#597350"/>
<rect x="229" y="183.26" width="6.5" height="6.52" fill="#5a7451"/>
<rect x="229" y="189.78" width="6.5" height="6.52" fill="#5c7453"/>
<rect x="229" y="196.3" width="6.5" height="6.52" fill="#5d7454"/>
<rect x="229" y="202.82" width="6.5" height="6.52" fill="#5e7555"/>
<rect x="229" y="209.34" width="6.5" height="6.52" fill="#607556"/>
<rect x="229" y="215.86" width="6.5" height="6.52" fill="#617557"/>
<rect x="229" y="222.38" width="6.5" height="6.52" fill="#637659"/>
<rect x="229" y="228.9" width="6.5" height="6.52" fill="#64765a"/>
<rect x="229" y="235.42" width="6.5" height="6.52" fill="#65765b"/>
<rect x="229" y="241.94" width="6.5" height="1.86" fill="#66765b"/>
<rect x="235.5" y="130" width="6.5" height="7.62" fill="#55724a"/>
<rect x="235.5" y="137.62" width="6.5" height="6.52" fill="#56734b"/>
<rect x="235.5" y="144.14" width="6.5" height="6.52" fill="#57744c"/>
<rect x="235.5" y="150.66" width="6.5" height="6.52" fill="#58754e"/>
<rect x="235.5" y="157.18" width="6.5" height="6.52" fill="#59754f"/>
<rect x="235.5" y="163.7" width="6.5" height="6.52" fill="#5b7650"/>
<rect x="235.5" y="170.22" width="6.5" height="6.52" fill="#5c7751"/>
<rect x="235.5" y="176.74" width="6.5" height="6.52" fill="#5d7852"/>
<rect x="235.5" y="183.26" width="6.5" height="6.52" fill="#5e7853"/>
<rect x="235.5" y="189.78" width="6.5" height="6.52" fill="#607955"/>
<rect x="235.5" y="196.3" width="6.5" height="6.52" fill="#617956"/>
<rect x="235.5" y="202.82" width="6.5" height="6.52" fill="#637957"/>
<rect x="235.5" y="209.34" width="6.5" height="6.52" fill="#647959"/>
<rect x="235.5" y="215.86" width="6.5" height="6.52" fill="#657a5a"/>
<rect x="235.5" y="222.38" width="6.5" height="6.52" fill="#677a5b"/>
<rect x="235.5" y="228.9" width="6.5" height="6.52" fill="#687a5c"/>
<rect x="235.5" y="235.42" width="6.5" height="6.52" fill="#6a7a5e"/>
<rect x="235.5" y="241.94" width="6.5" height="1.86" fill="#6a7a5e"/>
<rect x="242" y="130" width="6.5" height="7.62" fill="#59774c"/>
<rect x="242" y="137.62" width="6.5" height="6.52" fill="#5a784d"/>
<rect x="242" y="144.14" width="6.5" height="6.52" fill="#5b784e"/>
<rect x="242" y="150.66" width="6.5" height="6.52" fill="#5d794f"/>
<rect x="242" y="157.18" width="6.5" height="6.52" fill="#5e7a50"/>
<rect x="242" y="163.7" width="6.5" height="6.52" fill="#5f7b52"/>
<rect x="242" y="170.22" width="6.5" height="6.52" fill="#607c53"/>
<rect x="242" y="176.74" width="6.5" height="6.52" fill="#627c54"/>
<rect x="242" y="183.26" width="6.5" height="6.52" fill="#637d55"/>
<rect x="242" y="189.78" width="6.5" height="6.52" fill="#647d57"/>
<rect x="242" y="196.3" width="6.5" height="6.52" fill="#667e58"/>
<rect x="242" y="202.82" width="6.5" height="6.52" fill="#677e59"/>
<rect x="242" y="209.34" width="6.5" height="6.52" fill="#687e5b"/>
<rect x="242" y="215.86" width="6.5" height="6.52" fill="#6a7e5c"/>
<rect x="242" y="222.38" width="6.5" height="6.52" fill="#6b7e5e"/>
<rect x="242" y="228.9" width="6.5" height="6.52" fill="#6d7f5f"/>
<rect x="242" y="235.42" width="6.5" height="6.52" fill="#6e7f60"/>
<rect x="242" y="241.94" width="6.5" height="1.86" fill="#6e7f61"/>
<rect x="248.5" y="130" width="6.5" height="7.62" fill="#5c7a4c"/>
<rect x="248.5" y="137.62" width="6.5" height="6.52" fill="#5d7a4e"/>
<rect x="248.5" y="144.14" width="6.5" height="6.52" fill="#5f7b4f"/>
<rect x="248.5" y="150.66" width="6.5" height="6.52" fill="#607c50"/>
<rect x="248.5" y="157.18" width="6.5" height="6.52" fill="#617d52"/>
<rect x="248.5" y="163.7" width="6.5" height="6.52" fill="#637e53"/>
<rect x="248.5" y="170.22" width="6.5" height="6.52" fill="#647e54"/>
<rect x="248.5" y="176.74" width="6.5" height="6.52" fill="#657f56"/>
<rect x="248.5" y="183.26" width="6.5" height="6.52" fill="#678057"/>
<rect x="248.5" y="189.78" width="6.5" height="6.52" fill="#688058"/>
<rect x="248.5" y="196.3" width="6.5" height="6.52" fill="#6a805a"/>
<rect x="248.5" y="202.82" width="6.5" height="6.52" fill="#6b815b"/>
<rect x="248.5" y="209.34" width="6.5" height="6.52" fill="#6c815d"/>
<rect x="248.5" y="215.86" width="6.5" height="6.52" fill="#6e815e"/>
<rect x="248.5" y="222.38" width="6.5" height="6.52" fill="#6f8160"/>
<rect x="248.5" y="228.9" width="6.5" height="6.52" fill="#718161"/>
<rect x="248.5" y="235.42" width="6.5" height="6.52" fill="#728262"/>
<rect x="248.5" y="241.94" width="6.5" height="1.86" fill="#738263"/>
<rect x="255" y="130" width="6.5" height="7.62" fill="#5f7b4d"/>
<rect x="255" y="137.62" width="6.5" height="6.52" fill="#607c4e"/>
<rect x="255" y="144.14" width="6.5" height="6.52" fill="#627d50"/>
<rect x="255" y="150.66" width="6.5" height="6.52" fill="#637e51"/>
<rect x="255" y="157.18" width="6.5" height="6.52" fill="#657f52"/>
<rect x="255" y="163.7" width="6.5" height="6.52" fill="#667f54"/>
<rect x="255" y="170.22" width="6.5" height="6.52" fill="#678055"/>
<rect x="255" y="176.74" width="6.5" height="6.52" fill="#698157"/>
<rect x="255" y="183.26" width="6.5" height="6.52" fill="#6a8258"/>
<rect x="255" y="189.78" width="6.5" height="6.52" fill="#6c825a"/>
<rect x="255" y="196.3" width="6.5" height="6.52" fill="#6d825b"/>
<rect x="255" y="202.82" width="6.5" height="6.52" fill="#6f835d"/>
<rect x="255" y="209.34" width="6.5" height="6.52" fill="#70835e"/>
<rect x="255" y="215.86" width="6.5" height="6.52" fill="#728360"/>
<rect x="255" y="222.38" width="6.5" height="6.52" fill="#748361"/>
<rect x="255" y="228.9" width="6.5" height="6.52" fill="#758363"/>
<rect x="255" y="235.42" width="6.5" height="6.52" fill="#778464"/>
<rect x="255" y="241.94" width="6.5" height="1.86" fill="#778465"/>
<rect x="261.5" y="130" width="6.5" height="7.62" fill="#627d4e"/>
<rect x="261.5" y="137.62" width="6.5" height="6.52" fill="#637e4f"/>
<rect x="261.5" y="144.14" width="6.5" height="6.52" fill="#657f50"/>
<rect x="261.5" y="150.66" width="6.5" height="6.52" fill="#667f52"/>
<rect x="261.5" y="157.18" width="6.5" height="6.52" fill="#688053"/>
<rect x="261.5" y="163.7" width="6.5" height="6.52" fill="#698155"/>
<rect x="261.5" y="170.22" width="6.5" height="6.52" fill="#6b8256"/>
<rect x="261.5" y="176.74" width="6.5" height="6.52" fill="#6c8358"/>
<rect x="261.5" y="183.26" width="6.5" height="6.52" fill="#6e8459"/>
<rect x="261.5" y="189.78" width="6.5" height="6.52" fill="#6f845b"/>
<rect x="261.5" y="196.3" width="6.5" height="6.52" fill="#71845c"/>
<rect x="261.5" y="202.82" width="6.5" height="6.52" fill="#73855e"/>
<rect x="261.5" y="209.34" width="6.5" height="6.52" fill="#748560"/>
<rect x="261.5" y="215.86" width="6.5" height="6.52" fill="#768561"/>
<rect x="261.5" y="222.38" width="6.5" height="6.52" fill="#788563"/>
<rect x="261.5" y="228.9" width="6.5" height="6.52" fill="#7a8664"/>
<rect x="261.5" y="235.42" width="6.5" height="6.52" fill="#7b8666"/>
<rect x="261.5" y="241.94" width="6.5" height="1.86" fill="#7c8666"/>
<rect x="268" y="130" width="6.5" height="7.62" fill="#657e4e"/>
<rect x="268" y="137.62" width="6.5" height="6.52" fill="#667f4f"/>
<rect x="268" y="144.14" width="6.5" height="6.52" fill="#688051"/>
<rect x="268" y="150.66" width="6.5" height="6.52" fill="#698153"/>
<rect x="268" y="157.18" width="6.5" height="6.52" fill="#6b8254"/>
<rect x="268" y="163.7" width="6.5" height="6.52" fill="#6d8356"/>
<rect x="268" y="170.22" width="6.5" height="6.52" fill="#6e8457"/>
<rect x="268" y="176.74" width="6.5" height="6.52" fill="#708559"/>
<rect x="268" y="183.26" width="6.5" height="6.52" fill="#71865a"/>
<rect x="268" y="189.78" width="6.5" height="6.52" fill="#73865c"/>
<rect x="268" y="196.3" width="6.5" height="6.52" fill="#75865e"/>
<rect x="268" y="202.82" width="6.5" height="6.52" fill="#77875f"/>
<rect x="268" y="209.34" width="6.5" height="6.52" fill="#788761"/>
<rect x="268" y="215.86" width="6.5" height="6.52" fill="#7a8763"/>
<rect x="268" y="222.38" width="6.5" height="6.52" fill="#7c8765"/>
<rect x="268" y="228.9" width="6.5" height="6.52" fill="#7e8866"/>
<rect x="268" y="235.42" width="6.5" height="6.52" fill="#808868"/>
<rect x="268" y="241.94" width="6.5" height="1.86" fill="#808868"/>
<rect x="274.5" y="130" width="6.5" height="7.62" fill="#68804f"/>
<rect x="274.5" y="137.62" width="6.5" height="6.52" fill="#698150"/>
<rect x="274.5" y="144.14" width="6.5" height="6.52" fill="#6b8252"/>
<rect x="274.5" y="150.66" width="6.5" height="6.52" fill="#6d8353"/>
<rect x="274.5" y="157.18" width="6.5" height="6.52" fill="#6e8455"/>
<rect x="274.5" y="163.7" width="6.5" height="6.52" fill="#708557"/>
<rect x="274.5" y="170.22" width="6.5" height="6.52" fill="#728658"/>
<rect x="274.5" y="176.74" width="6.5" height="6.52" fill="#73875a"/>
<rect x="274.5" y="183.26" width="6.5" height="6.52" fill="#75885c"/>
<rect x="274.5" y="189.78" width="6.5" height="6.52" fill="#77885d"/>
<rect x="274.5" y="196.3" width="6.5" height="6.52" fill="#79885f"/>
<rect x="274.5" y="202.82" width="6.5" height="6.52" fill="#7b8961"/>
<rect x="274.5" y="209.34" width="6.5" height="6.52" fill="#7c8963"/>
<rect x="274.5" y="215.86" width="6.5" height="6.52" fill="#7e8964"/>
<rect x="274.5" y="222.38" width="6.5" height="6.52" fill="#808966"/>
<rect x="274.5" y="228.9" width="6.5" height="6.52" fill="#828a68"/>
<rect x="274.5" y="235.42" width="6.5" height="6.52" fill="#848a6a"/>
<rect x="274.5" y="241.94" width="6.5" height="1.86" fill="#858a6a"/>
<rect x="281" y="130" width="6.5" height="7.62" fill="#6b814f"/>
<rect x="281" y="137.62" width="6.5" height="6.52" fill="#6c8251"/>
<rect x="281" y="144.14" width="6.5" height="6.52" fill="#6e8352"/>
<rect x="281" y="150.66" width="6.5" height="6.52" fill="#708554"/>
<rect x="281" y="157.18" width="6.5" height="6.52" fill="#718656"/>
<rect x="281" y="163.7" width="6.5" height="6.52" fill="#738758"/>
<rect x="281" y="170.22" width="6.5" height="6.52" fill="#758859"/>
<rect x="281" y="176.74" width="6.5" height="6.52" fill="#77895b"/>
<rect x="281" y="183.26" width="6.5" height="6.52" fill="#788a5d"/>
<rect x="281" y="189.78" width="6.5" height="6.52" fill="#7a8a5f"/>
<rect x="281" y="196.3" width="6.5" height="6.52" fill="#7c8a60"/>
<rect x="281" y="202.82" width="6.5" height="6.52" fill="#7e8b62"/>
<rect x="281" y="209.34" width="6.5" height="6.52" fill="#808b64"/>
<rect x="281" y="215.86" width="6.5" height="6.52" fill="#828b66"/>
<rect x="281" y="222.38" width="6.5" height="6.52" fill="#858c68"/>
<rect x="281" y="228.9" width="6.5" height="6.52" fill="#878c6a"/>
<rect x="281" y="235.42" width="6.5" height="6.52" fill="#898c6c"/>
<rect x="281" y="241.94" width="6.5" height="1.86" fill="#898c6c"/>
<rect x="287.5" y="130" width="6.5" height="7.62" fill="#6e8350"/>
<rect x="287.5" y="137.62" width="6.5" height="6.52" fill="#6f8451"/>
<rect x="287.5" y="144.14" width="6.5" height="6.52" fill="#718553"/>
<rect x="287.5" y="150.66" width="6.5" height="6.52" fill="#738655"/>
<rect x="287.5" y="157.18" width="6.5" height="6.52" fill="#758757"/>
<rect x="287.5" y="163.7" width="6.5" height="6.52" fill="#768858"/>
<rect x="287.5" y="170.22" width="6.5" height="6.52" fill="#788a5a"/>
<rect x="287.5" y="176.74" width="6.5" height="6.52" fill="#7a8b5c"/>
<rect x="287.5" y="183.26" width="6.5" height="6.52" fill="#7c8c5e"/>
<rect x="287.5" y="189.78" width="6.5" height="6.52" fill="#7e8c60"/>
<rect x="287.5" y="196.3" width="6.5" height="6.52" fill="#808c62"/>
<rect x="287.5" y="202.82" width="6.5" height="6.52" fill="#828d64"/>
<rect x="287.5" y="209.34" width="6.5" height="6.52" fill="#848d66"/>
<rect x="287.5" y="215.86" width="6.5" height="6.52" fill="#878d68"/>
<rect x="287.5" y="222.38" width="6.5" height="6.52" fill="#898e69"/>
<rect x="287.5" y="228.9" width="6.5" height="6.52" fill="#8b8e6b"/>
<rect x="287.5" y="235.42" width="6.5" height="6.52" fill="#8d8e6d"/>
<rect x="287.5" y="241.94" width="6.5" height="1.86" fill="#8d8e6e"/>
<rect x="294" y="130" width="6.5" height="7.62" fill="#708450"/>
<rect x="294" y="137.62" width="6.5" height="6.52" fill="#728552"/>
<rect x="294" y="144.14" width="6.5" height="6.52" fill="#748654"/>
<rect x="294" y="150.66" width="6.5" height="6.52" fill="#768755"/>
<rect x="294" y="157.18" width="6.5" height="6.52" fill="#788957"/>
<rect x="294" y="163.7" width="6.5" height="6.52" fill="#7a8a59"/>
<rect x="294" y="170.22" width="6.5" height="6.52" fill="#7b8b5b"/>
<rect x="294" y="176.74" width="6.5" height="6.52" fill="#7d8c5d"/>
<rect x="294" y="183.26" width="6.5" height="6.52" fill="#7f8d5f"/>
<rect x="294" y="189.78" width="6.5" height="6.52" fill="#818e61"/>
<rect x="294" y="196.3" width="6.5" height="6.52" fill="#848e63"/>
<rect x="294" y="202.82" width="6.5" height="6.52" fill="#868e65"/>
<rect x="294" y="209.34" width="6.5" height="6.52" fill="#888f67"/>
<rect x="294" y="215.86" width="6.5" height="6.52" fill="#8a8f69"/>
<rect x="294" y="222.38" width="6.5" height="6.52" fill="#8d8f6b"/>
<rect x="294" y="228.9" width="6.5" height="6.52" fill="#8f8f6d"/>
<rect x="294" y="235.42" width="6.5" height="6.52" fill="#91906f"/>
<rect x="294" y="241.94" width="6.5" height="1.86" fill="#92906f"/>
<rect x="300.5" y="130" width="6.5" height="7.62" fill="#728250"/>
<rect x="300.5" y="137.62" width="6.5" height="6.52" fill="#748352"/>
<rect x="300.5" y="144.14" width="6.5" height="6.52" fill="#768554"/>
<rect x="300.5" y="150.66" width="6.5" height="6.52" fill="#788656"/>
<rect x="300.5" y="157.18" width="6.5" height="6.52" fill="#7a8757"/>
<rect x="300.5" y="163.7" width="6.5" height="6.52" fill="#7c8859"/>
<rect x="300.5" y="170.22" width="6.5" height="6.52" fill="#7e8a5b"/>
<rect x="300.5" y="176.74" width="6.5" height="6.52" fill="#808b5d"/>
<rect x="300.5" y="183.26" width="6.5" height="6.52" fill="#828c5f"/>
<rect x="300.5" y="189.78" width="6.5" height="6.52" fill="#848d61"/>
<rect x="300.5" y="196.3" width="6.5" height="6.52" fill="#868d63"/>
<rect x="300.5" y="202.82" width="6.5" height="6.52" fill="#898d65"/>
<rect x="300.5" y="209.34" width="6.5" height="6.52" fill="#8b8e67"/>
<rect x="300.5" y="215.86" width="6.5" height="6.52" fill="#8d8e69"/>
<rect x="300.5" y="222.38" width="6.5" height="6.52" fill="#908f6b"/>
<rect x="300.5" y="228.9" width="6.5" height="6.52" fill="#928f6d"/>
<rect x="300.5" y="235.42" width="6.5" height="6.52" fill="#948f6f"/>
<rect x="300.5" y="241.94" width="6.5" height="1.86" fill="#959070"/>
<rect x="307" y="130" width="6.5" height="7.62" fill="#748150"/>
<rect x="307" y="137.62" width="6.5" height="6.52" fill="#768252"/>
<rect x="307" y="144.14" width="6.5" height="6.52" fill="#788354"/>
<rect x="307" y="150.66" width="6.5" height="6.52" fill="#7a8556"/>
<rect x="307" y="157.18" width="6.5" height="6.52" fill="#7c8658"/>
<rect x="307" y="163.7" width="6.5" height="6.52" fill="#7e875a"/>
<rect x="307" y="170.22" width="6.5" height="6.52" fill="#80895c"/>
<rect x="307" y="176.74" width="6.5" height="6.52" fill="#838a5e"/>
<rect x="307" y="183.26" width="6.5" height="6.52" fill="#858b60"/>
<rect x="307" y="189.78" width="6.5" height="6.52" fill="#878c62"/>
<rect x="307" y="196.3" width="6.5" height="6.52" fill="#898c64"/>
<rect x="307" y="202.82" width="6.5" height="6.52" fill="#8c8d66"/>
<rect x="307" y="209.34" width="6.5" height="6.52" fill="#8e8d68"/>
<rect x="307" y="215.86" width="6.5" height="6.52" fill="#908e6a"/>
<rect x="307" y="222.38" width="6.5" height="6.52" fill="#928e6c"/>
<rect x="307" y="228.9" width="6.5" height="6.52" fill="#958f6e"/>
<rect x="307" y="235.42" width="6.5" height="6.52" fill="#978f70"/>
<rect x="307" y="241.94" width="6.5" height="1.86" fill="#978f70"/>
<rect x="313.5" y="130" width="6.5" height="7.62" fill="#767f50"/>
<rect x="313.5" y="137.62" width="6.5" height="6.52" fill="#788051"/>
<rect x="313.5" y="144.14" width="6.5" height="6.52" fill="#7a8254"/>
<rect x="313.5" y="150.66" width="6.5" height="6.52" fill="#7c8356"/>
<rect x="313.5" y="157.18" width="6.5" height="6.52" fill="#7f8558"/>
<rect x="313.5" y="163.7" width="6.5" height="6.52" fill="#81865a"/>
<rect x="313.5" y="170.22" width="6.5" height="6.52" fill="#83875c"/>
<rect x="313.5" y="176.74" width="6.5" height="6.52" fill="#85895e"/>
<rect x="313.5" y="183.26" width="6.5" height="6.52" fill="#878a60"/>
<rect x="313.5" y="189.78" width="6.5" height="6.52" fill="#8a8b62"/>
<rect x="313.5" y="196.3" width="6.5" height="6.52" fill="#8c8b64"/>
<rect x="313.5" y="202.82" width="6.5" height="6.52" fill="#8e8c66"/>
<rect x="313.5" y="209.34" width="6.5" height="6.52" fill="#918d68"/>
<rect x="313.5" y="215.86" width="6.5" height="6.52" fill="#938d6a"/>
<rect x="313.5" y="222.38" width="6.5" height="6.52" fill="#958e6c"/>
<rect x="313.5" y="228.9" width="6.5" height="6.52" fill="#988e6e"/>
<rect x="313.5" y="235.42" width="6.5" height="6.52" fill="#9a8f70"/>
<rect x="313.5" y="241.94" width="6.5" height="1.86" fill="#9a8f71"/>
<rect x="320" y="130" width="6.5" height="7.62" fill="#787d50"/>
<rect x="320" y="137.62" width="6.5" height="6.52" fill="#7a7f51"/>
<rect x="320" y="144.14" width="6.5" height="6.52" fill="#7c8054"/>
<rect x="320" y="150.66" width="6.5" height="6.52" fill="#7f8256"/>
<rect x="320" y="157.18" width="6.5" height="6.52" fill="#818358"/>
<rect x="320" y="163.7" width="6.5" height="6.52" fill="#83855a"/>
<rect x="320" y="170.22" width="6.5" height="6.52" fill="#85865c"/>
<rect x="320" y="176.74" width="6.5" height="6.52" fill="#88885e"/>
<rect x="320" y="183.26" width="6.5" height="6.52" fill="#8a8960"/>
<rect x="320" y="189.78" width="6.5" height="6.52" fill="#8c8a62"/>
<rect x="320" y="196.3" width="6.5" height="6.52" fill="#8f8b64"/>
<rect x="320" y="202.82" width="6.5" height="6.52" fill="#918b66"/>
<rect x="320" y="209.34" width="6.5" height="6.52" fill="#938c69"/>
<rect x="320" y="215.86" width="6.5" height="6.52" fill="#968d6b"/>
<rect x="320" y="222.38" width="6.5" height="6.52" fill="#988d6d"/>
<rect x="320" y="228.9" width="6.5" height="6.52" fill="#9b8e6f"/>
<rect x="320" y="235.42" width="6.5" height="6.52" fill="#9d8e71"/>
<rect x="320" y="241.94" width="6.5" height="1.86" fill="#9d8f71"/>
<rect x="326.5" y="130" width="6.5" height="7.62" fill="#7a7c4f"/>
<rect x="326.5" y="137.62" width="6.5" height="6.52" fill="#7c7d51"/>
<rect x="326.5" y="144.14" width="6.5" height="6.52" fill="#7f7f54"/>
<rect x="326.5" y="150.66" width="6.5" height="6.52" fill="#818056"/>
<rect x="326.5" y="157.18" width="6.5" height="6.52" fill="#838258"/>
<rect x="326.5" y="163.7" width="6.5" height="6.52" fill="#86845a"/>
<rect x="326.5" y="170.22" width="6.5" height="6.52" fill="#88855c"/>
<rect x="326.5" y="176.74" width="6.5" height="6.52" fill="#8a875e"/>
<rect x="326.5" y="183.26" width="6.5" height="6.52" fill="#8d8861"/>
<rect x="326.5" y="189.78" width="6.5" height="6.52" fill="#8f8963"/>
<rect x="326.5" y="196.3" width="6.5" height="6.52" fill="#918a65"/>
<rect x="326.5" y="202.82" width="6.5" height="6.52" fill="#948b67"/>
<rect x="326.5" y="209.34" width="6.5" height="6.52" fill="#968b69"/>
<rect x="326.5" y="215.86" width="6.5" height="6.52" fill="#998c6b"/>
<rect x="326.5" y="222.38" width="6.5" height="6.52" fill="#9b8d6d"/>
<rect x="326.5" y="228.9" width="6.5" height="6.52" fill="#9d8d6f"/>
<rect x="326.5" y="235.42" width="6.5" height="6.52" fill="#a08e71"/>
<rect x="326.5" y="241.94" width="6.5" height="1.86" fill="#a08e72"/>
<rect x="333" y="130" width="6.5" height="7.62" fill="#7c7a4f"/>
<rect x="333" y="137.62" width="6.5" height="6.52" fill="#7e7b51"/>
<rect x="333" y="144.14" width="6.5" height="6.52" fill="#817d54"/>
<rect x="333" y="150.66" width="6.5" height="6.52" fill="#837f56"/>
<rect x="333" y="157.18" width="6.5" height="6.52" fill="#868158"/>
<rect x="333" y="163.7" width="6.5" height="6.52" fill="#88825a"/>
<rect x="333" y="170.22" width="6.5" height="6.52" fill="#8a845c"/>
<rect x="333" y="176.74" width="6.5" height="6.52" fill="#8d865f"/>
<rect x="333" y="183.26" width="6.5" height="6.52" fill="#8f8761"/>
<rect x="333" y="189.78" width="6.5" height="6.52" fill="#928863"/>
<rect x="333" y="196.3" width="6.5" height="6.52" fill="#948965"/>
<rect x="333" y="202.82" width="6.5" height="6.52" fill="#978a67"/>
<rect x="333" y="209.34" width="6.5" height="6.52" fill="#998b69"/>
<rect x="333" y="215.86" width="6.5" height="6.52" fill="#9b8b6b"/>
<rect x="333" y="222.38" width="6.5" height="6.52" fill="#9e8c6d"/>
<rect x="333" y="228.9" width="6.5" height="6.52" fill="#a08d70"/>
<rect x="333" y="235.42" width="6.5" height="6.52" fill="#a38e72"/>
<rect x="333" y="241.94" width="6.5" height="1.86" fill="#a38e72"/>
<rect x="339.5" y="130" width="6.5" height="7.62" fill="#7e784e"/>
<rect x="339.5" y="137.62" width="6.5" height="6.52" fill="#817a50"/>
<rect x="339.5" y="144.14" width="6.5" height="6.52" fill="#837c53"/>
<rect x="339.5" y="150.66" width="6.5" height="6.52" fill="#867e55"/>
<rect x="339.5" y="157.18" width="6.5" height="6.52" fill="#887f57"/>
<rect x="339.5" y="163.7" width="6.5" height="6.52" fill="#8b815a"/>
<rect x="339.5" y="170.22" width="6.5" height="6.52" fill="#8d835c"/>
<rect x="339.5" y="176.74" width="6.5" height="6.52" fill="#90855e"/>
<rect x="339.5" y="183.26" width="6.5" height="6.52" fill="#928660"/>
<rect x="339.5" y="189.78" width="6.5" height="6.52" fill="#958763"/>
<rect x="339.5" y="196.3" width="6.5" height="6.52" fill="#978865"/>
<rect x="339.5" y="202.82" width="6.5" height="6.52" fill="#9a8967"/>
<rect x="339.5" y="209.34" width="6.5" height="6.52" fill="#9c8a69"/>
<rect x="339.5" y="215.86" width="6.5" height="6.52" fill="#9f8b6b"/>
<rect x="339.5" y="222.38" width="6.5" height="6.52" fill="#a18c6d"/>
<rect x="339.5" y="228.9" width="6.5" height="6.52" fill="#a48d6f"/>
<rect x="339.5" y="235.42" width="6.5" height="6.52" fill="#a68d71"/>
<rect x="339.5" y="241.94" width="6.5" height="1.86" fill="#a78e72"/>
<rect x="346" y="130" width="6.5" height="7.62" fill="#82724b"/>
<rect x="346" y="137.62" width="6.5" height="6.52" fill="#84744d"/>
<rect x="346" y="144.14" width="6.5" height="6.52" fill="#87764f"/>
<rect x="346" y="150.66" width="6.5" height="6.52" fill="#8a7851"/>
<rect x="346" y="157.18" width="6.5" height="6.52" fill="#8d7a54"/>
<rect x="346" y="163.7" width="6.5" height="6.52" fill="#8f7b56"/>
<rect x="346" y="170.22" width="6.5" height="6.52" fill="#927d58"/>
<rect x="346" y="176.74" width="6.5" height="6.52" fill="#957f5b"/>
<rect x="346" y="183.26" width="6.5" height="6.52" fill="#98815d"/>
<rect x="346" y="189.78" width="6.5" height="6.52" fill="#9a825f"/>
<rect x="346" y="196.3" width="6.5" height="6.52" fill="#9c8361"/>
<rect x="346" y="202.82" width="6.5" height="6.52" fill="#9f8463"/>
<rect x="346" y="209.34" width="6.5" height="6.52" fill="#a18566"/>
<rect x="346" y="215.86" width="6.5" height="6.52" fill="#a48668"/>
<rect x="346" y="222.38" width="6.5" height="6.52" fill="#a6866a"/>
<rect x="346" y="228.9" width="6.5" height="6.52" fill="#a8876c"/>
<rect x="346" y="235.42" width="6.5" height="6.52" fill="#ab886e"/>
<rect x="346" y="241.94" width="6.5" height="1.86" fill="#ab886e"/>
<rect x="352.5" y="130" width="6.5" height="7.62" fill="#876946"/>
<rect x="352.5" y="137.62" width="6.5" height="6.52" fill="#8a6b48"/>
<rect x="352.5" y="144.14" width="6.5" height="6.52" fill="#8d6d4b"/>
<rect x="352.5" y="150.66" width="6.5" height="6.52" fill="#906f4d"/>
<rect x="352.5" y="157.18" width="6.5" height="6.52" fill="#93714f"/>
<rect x="352.5" y="163.7" width="6.5" height="6.52" fill="#967352"/>
<rect x="352.5" y="170.22" width="6.5" height="6.52" fill="#997554"/>
<rect x="352.5" y="176.74" width="6.5" height="6.52" fill="#9c7756"/>
<rect x="352.5" y="183.26" width="6.5" height="6.52" fill="#9f7959"/>
<rect x="352.5" y="189.78" width="6.5" height="6.52" fill="#a17a5b"/>
<rect x="352.5" y="196.3" width="6.5" height="6.52" fill="#a37b5d"/>
<rect x="352.5" y="202.82" width="6.5" height="6.52" fill="#a57c5f"/>
<rect x="352.5" y="209.34" width="6.5" height="6.52" fill="#a87d61"/>
<rect x="352.5" y="215.86" width="6.5" height="6.52" fill="#aa7e63"/>
<rect x="352.5" y="222.38" width="6.5" height="6.52" fill="#ac7f65"/>
<rect x="352.5" y="228.9" width="6.5" height="6.52" fill="#ae7f67"/>
<rect x="352.5" y="235.42" width="6.5" height="6.52" fill="#b08069"/>
<rect x="352.5" y="241.94" width="6.5" height="1.86" fill="#b1816a"/>
<rect x="359" y="130" width="6.5" height="7.62" fill="#8d6042"/>
<rect x="359" y="137.62" width="6.5" height="6.52" fill="#906244"/>
<rect x="359" y="144.14" width="6.5" height="6.52" fill="#936446"/>
<rect x="359" y="150.66" width="6.5" height="6.52" fill="#966649"/>
<rect x="359" y="157.18" width="6.5" height="6.52" fill="#9a684b"/>
<rect x="359" y="163.7" width="6.5" height="6.52" fill="#9d6a4d"/>
<rect x="359" y="170.22" width="6.5" height="6.52" fill="#a06c50"/>
<rect x="359" y="176.74" width="6.5" height="6.52" fill="#a46e52"/>
<rect x="359" y="183.26" width="6.5" height="6.52" fill="#a77055"/>
<rect x="359" y="189.78" width="6.5" height="6.52" fill="#a97157"/>
<rect x="359" y="196.3" width="6.5" height="6.52" fill="#ab7259"/>
<rect x="359" y="202.82" width="6.5" height="6.52" fill="#ad735b"/>
<rect x="359" y="209.34" width="6.5" height="6.52" fill="#af745d"/>
<rect x="359" y="215.86" width="6.5" height="6.52" fill="#b1755f"/>
<rect x="359" y="222.38" width="6.5" height="6.52" fill="#b37661"/>
<rect x="359" y="228.9" width="6.5" height="6.52" fill="#b57763"/>
<rect x="359" y="235.42" width="6.5" height="6.52" fill="#b67865"/>
<rect x="359" y="241.94" width="6.5" height="1.86" fill="#b77865"/>
<rect x="365.5" y="130" width="6.5" height="7.62" fill="#93573e"/>
<rect x="365.5" y="137.62" width="6.5" height="6.52" fill="#975940"/>
<rect x="365.5" y="144.14" width="6.5" height="6.52" fill="#9a5b42"/>
<rect x="365.5" y="150.66" width="6.5" height="6.52" fill="#9e5d45"/>
<rect x="365.5" y="157.18" width="6.5" height="6.52" fill="#a15f47"/>
<rect x="365.5" y="163.7" width="6.5" height="6.52" fill="#a56149"/>
<rect x="365.5" y="170.22" width="6.5" height="6.52" fill="#a9634c"/>
<rect x="365.5" y="176.74" width="6.5" height="6.52" fill="#ac654e"/>
<rect x="365.5" y="183.26" width="6.5" height="6.52" fill="#b06751"/>
<rect x="365.5" y="189.78" width="6.5" height="6.52" fill="#b26853"/>
<rect x="365.5" y="196.3" width="6.5" height="6.52" fill="#b36955"/>
<rect x="365.5" y="202.82" width="6.5" height="6.52" fill="#b56a56"/>
<rect x="365.5" y="209.34" width="6.5" height="6.52" fill="#b76b58"/>
<rect x="365.5" y="215.86" width="6.5" height="6.52" fill="#b86c5a"/>
<rect x="365.5" y="222.38" width="6.5" height="6.52" fill="#ba6d5c"/>
<rect x="365.5" y="228.9" width="6.5" height="6.52" fill="#bc6f5e"/>
<rect x="365.5" y="235.42" width="6.5" height="6.52" fill="#bd7060"/>
<rect x="365.5" y="241.94" width="6.5" height="1.86" fill="#be7061"/>
<rect x="372" y="130" width="6.5" height="7.62" fill="#964c38"/>
<rect x="372" y="137.62" width="6.5" height="6.52" fill="#9a4e3a"/>
<rect x="372" y="144.14" width="6.5" height="6.52" fill="#9e503c"/>
<rect x="372" y="150.66" width="6.5" height="6.52" fill="#a2523f"/>
<rect x="372" y="157.18" width="6.5" height="6.52" fill="#a65441"/>
<rect x="372" y="163.7" width="6.5" height="6.52" fill="#aa5643"/>
<rect x="372" y="170.22" width="6.5" height="6.52" fill="#ae5946"/>
<rect x="372" y="176.74" width="6.5" height="6.52" fill="#b35b48"/>
<rect x="372" y="183.26" width="6.5" height="6.52" fill="#b75d4a"/>
<rect x="372" y="189.78" width="6.5" height="6.52" fill="#b95e4c"/>
<rect x="372" y="196.3" width="6.5" height="6.52" fill="#ba5f4e"/>
<rect x="372" y="202.82" width="6.5" height="6.52" fill="#bc6050"/>
<rect x="372" y="209.34" width="6.5" height="6.52" fill="#bd6252"/>
<rect x="372" y="215.86" width="6.5" height="6.52" fill="#bf6354"/>
<rect x="372" y="222.38" width="6.5" height="6.52" fill="#c06456"/>
<rect x="372" y="228.9" width="6.5" height="6.52" fill="#c26558"/>
<rect x="372" y="235.42" width="6.5" height="6.52" fill="#c4665a"/>
<rect x="372" y="241.94" width="6.5" height="1.86" fill="#c4665a"/>
<rect x="378.5" y="130" width="6.5" height="7.62" fill="#984132"/>
<rect x="378.5" y="137.62" width="6.5" height="6.52" fill="#9c4334"/>
<rect x="378.5" y="144.14" width="6.5" height="6.52" fill="#a14536"/>
<rect x="378.5" y="150.66" width="6.5" height="6.52" fill="#a64738"/>
<rect x="378.5" y="157.18" width="6.5" height="6.52" fill="#ab493b"/>
<rect x="378.5" y="163.7" width="6.5" height="6.52" fill="#af4b3d"/>
<rect x="378.5" y="170.22" width="6.5" height="6.52" fill="#b44e3f"/>
<rect x="378.5" y="176.74" width="6.5" height="6.52" fill="#b95041"/>
<rect x="378.5" y="183.26" width="6.5" height="6.52" fill="#be5243"/>
<rect x="378.5" y="189.78" width="6.5" height="6.52" fill="#c05345"/>
<rect x="378.5" y="196.3" width="6.5" height="6.52" fill="#c15447"/>
<rect x="378.5" y="202.82" width="6.5" height="6.52" fill="#c35649"/>
<rect x="378.5" y="209.34" width="6.5" height="6.52" fill="#c4574b"/>
<rect x="378.5" y="215.86" width="6.5" height="6.52" fill="#c6584d"/>
<rect x="378.5" y="222.38" width="6.5" height="6.52" fill="#c75a4f"/>
<rect x="378.5" y="228.9" width="6.5" height="6.52" fill="#c95b51"/>
<rect x="378.5" y="235.42" width="6.5" height="6.52" fill="#ca5d53"/>
<rect x="378.5" y="241.94" width="6.5" height="1.86" fill="#cb5d54"/>
<rect x="385" y="130" width="6.5" height="7.62" fill="#9a362c"/>
<rect x="385" y="137.62" width="6.5" height="6.52" fill="#9f382e"/>
<rect x="385" y="144.14" width="6.5" height="6.52" fill="#a53a30"/>
<rect x="385" y="150.66" width="6.5" height="6.52" fill="#aa3c32"/>
<rect x="385" y="157.18" width="6.5" height="6.52" fill="#b03e34"/>
<rect x="385" y="163.7" width="6.5" height="6.52" fill="#b54036"/>
<rect x="385" y="170.22" width="6.5" height="6.52" fill="#bb4238"/>
<rect x="385" y="176.74" width="6.5" height="6.52" fill="#c0443a"/>
<rect x="385" y="183.26" width="6.5" height="6.52" fill="#c6463c"/>
<rect x="385" y="189.78" width="6.5" height="6.52" fill="#c8483e"/>
<rect x="385" y="196.3" width="6.5" height="6.52" fill="#c94940"/>
<rect x="385" y="202.82" width="6.5" height="6.52" fill="#cb4b42"/>
<rect x="385" y="209.34" width="6.5" height="6.52" fill="#cc4c44"/>
<rect x="385" y="215.86" width="6.5" height="6.52" fill="#cd4e46"/>
<rect x="385" y="222.38" width="6.5" height="6.52" fill="#cf4f48"/>
<rect x="385" y="228.9" width="6.5" height="6.52" fill="#d0514a"/>
<rect x="385" y="235.42" width="6.5" height="6.52" fill="#d2524c"/>
<rect x="385" y="241.94" width="6.5" height="1.86" fill="#d2534d"/>
<rect x="391.5" y="130" width="2.3" height="7.62" fill="#9b2f29"/>
<rect x="391.5" y="137.62" width="2.3" height="6.52" fill="#a0312b"/>
<rect x="391.5" y="144.14" width="2.3" height="6.52" fill="#a6332d"/>
<rect x="391.5" y="150.66" width="2.3" height="6.52" fill="#ac352f"/>
<rect x="391.5" y="157.18" width="2.3" height="6.52" fill="#b23731"/>
<rect x="391.5" y="163.7" width="2.3" height="6.52" fill="#b83933"/>
<rect x="391.5" y="170.22" width="2.3" height="6.52" fill="#be3b35"/>
<rect x="391.5" y="176.74" width="2.3" height="6.52" fill="#c43d36"/>
<rect x="391.5" y="183.26" width="2.3" height="6.52" fill="#ca3f38"/>
<rect x="391.5" y="189.78" width="2.3" height="6.52" fill="#cc413a"/>
<rect x="391.5" y="196.3" width="2.3" height="6.52" fill="#cd423c"/>
<rect x="391.5" y="202.82" width="2.3" height="6.52" fill="#cf443e"/>
<rect x="391.5" y="209.34" width="2.3" height="6.52" fill="#d04640"/>
<rect x="391.5" y="215.86" width="2.3" height="6.52" fill="#d14742"/>
<rect x="391.5" y="222.38" width="2.3" height="6.52" fill="#d34944"/>
<rect x="391.5" y="228.9" width="2.3" height="6.52" fill="#d44a46"/>
<rect x="391.5" y="235.42" width="2.3" height="6.52" fill="#d64c48"/>
<rect x="391.5" y="241.94" width="2.3" height="1.86" fill="#d64c49"/>
<rect x="150.0" y="130.0" width="243.8" height="113.8" fill="url(#px)"/>
<rect x="150.5" y="130.5" width="242.8" height="112.8" fill="none" stroke="#1c2228" stroke-width="1" opacity="0.8"/>
<path d="M151.5 131.0V242.8M158 131.0V242.8M164.5 131.0V242.8M171 131.0V242.8M177.5 131.0V242.8M184 131.0V242.8M190.5 131.0V242.8M197 131.0V242.8M203.5 131.0V242.8M210 131.0V242.8M216.5 131.0V242.8M223 131.0V242.8M229.5 131.0V242.8M236 131.0V242.8M242.5 131.0V242.8M249 131.0V242.8M255.5 131.0V242.8M262 131.0V242.8M268.5 131.0V242.8M275 131.0V242.8M281.5 131.0V242.8M288 131.0V242.8M294.5 131.0V242.8M301 131.0V242.8M307.5 131.0V242.8M314 131.0V242.8M320.5 131.0V242.8M327 131.0V242.8M333.5 131.0V242.8M340 131.0V242.8M346.5 131.0V242.8M353 131.0V242.8M359.5 131.0V242.8M366 131.0V242.8M372.5 131.0V242.8M379 131.0V242.8M385.5 131.0V242.8M392 131.0V242.8M151.0 131.6H392.8M151.0 138.12H392.8M151.0 144.64H392.8M151.0 151.16H392.8M151.0 157.68H392.8M151.0 164.2H392.8M151.0 170.72H392.8M151.0 177.24H392.8M151.0 183.76H392.8M151.0 190.28H392.8M151.0 196.8H392.8M151.0 203.32H392.8M151.0 209.84H392.8M151.0 216.36H392.8M151.0 222.88H392.8M151.0 229.4H392.8M151.0 235.92H392.8M151.0 242.44H392.8" stroke="#e2e4e8" stroke-width="1.2" fill="none" opacity="0.95"/>
<circle cx="272.1" cy="188.1" r="4" fill="none" stroke="#000" stroke-width="1.1"/>
<path d="M275.9 187.1L423 147.6" stroke="#000" stroke-width="1.15"/>
<filter id="bb" x="0" y="0" width="1" height="1" color-interpolation-filters="sRGB"><feConvolveMatrix order="3" kernelMatrix="1 2 1 2 5 2 1 2 1" divisor="17" edgeMode="duplicate"/></filter>
<g clip-path="url(#bc)">
<g filter="url(#bb)">
<rect x="421.0" y="103.0" width="74" height="74" fill="#304828"/>
<path d="M421 103h2.0v2.0h-2.0zM427 103h2.0v2.0h-2.0zM441 103h2.0v2.0h-2.0zM451 103h2.0v2.0h-2.0zM457 103h2.0v2.0h-2.0zM465 103h2.0v2.0h-2.0zM469 103h2.0v2.0h-2.0zM479 103h2.0v2.0h-2.0zM485 103h2.0v2.0h-2.0zM489 103h2.0v2.0h-2.0zM423 105h2.0v2.0h-2.0zM427 105h2.0v2.0h-2.0zM431 105h2.0v2.0h-2.0zM433 105h2.0v2.0h-2.0zM451 105h2.0v2.0h-2.0zM455 105h2.0v2.0h-2.0zM461 105h2.0v2.0h-2.0zM463 105h2.0v2.0h-2.0zM465 105h2.0v2.0h-2.0zM423 107h2.0v2.0h-2.0zM427 107h2.0v2.0h-2.0zM435 107h2.0v2.0h-2.0zM437 107h2.0v2.0h-2.0zM447 107h2.0v2.0h-2.0zM449 107h2.0v2.0h-2.0zM455 107h2.0v2.0h-2.0zM461 107h2.0v2.0h-2.0zM471 107h2.0v2.0h-2.0zM475 107h2.0v2.0h-2.0zM477 107h2.0v2.0h-2.0zM483 107h2.0v2.0h-2.0zM485 107h2.0v2.0h-2.0zM427 109h2.0v2.0h-2.0zM431 109h2.0v2.0h-2.0zM433 109h2.0v2.0h-2.0zM439 109h2.0v2.0h-2.0zM449 109h2.0v2.0h-2.0zM451 109h2.0v2.0h-2.0zM453 109h2.0v2.0h-2.0zM457 109h2.0v2.0h-2.0zM461 109h2.0v2.0h-2.0zM463 109h2.0v2.0h-2.0zM473 109h2.0v2.0h-2.0zM483 109h2.0v2.0h-2.0zM491 109h2.0v2.0h-2.0zM425 111h2.0v2.0h-2.0zM435 111h2.0v2.0h-2.0zM437 111h2.0v2.0h-2.0zM439 111h2.0v2.0h-2.0zM441 111h2.0v2.0h-2.0zM445 111h2.0v2.0h-2.0zM457 111h2.0v2.0h-2.0zM469 111h2.0v2.0h-2.0zM475 111h2.0v2.0h-2.0zM487 111h2.0v2.0h-2.0zM489 111h2.0v2.0h-2.0zM423 113h2.0v2.0h-2.0zM435 113h2.0v2.0h-2.0zM441 113h2.0v2.0h-2.0zM459 113h2.0v2.0h-2.0zM463 113h2.0v2.0h-2.0zM473 113h2.0v2.0h-2.0zM489 113h2.0v2.0h-2.0zM425 115h2.0v2.0h-2.0zM431 115h2.0v2.0h-2.0zM445 115h2.0v2.0h-2.0zM449 115h2.0v2.0h-2.0zM453 115h2.0v2.0h-2.0zM457 115h2.0v2.0h-2.0zM463 115h2.0v2.0h-2.0zM469 115h2.0v2.0h-2.0zM471 115h2.0v2.0h-2.0zM423 117h2.0v2.0h-2.0zM429 117h2.0v2.0h-2.0zM437 117h2.0v2.0h-2.0zM441 117h2.0v2.0h-2.0zM449 117h2.0v2.0h-2.0zM463 117h2.0v2.0h-2.0zM469 117h2.0v2.0h-2.0zM473 117h2.0v2.0h-2.0zM475 117h2.0v2.0h-2.0zM483 117h2.0v2.0h-2.0zM485 117h2.0v2.0h-2.0zM493 117h2.0v2.0h-2.0zM431 119h2.0v2.0h-2.0zM437 119h2.0v2.0h-2.0zM459 119h2.0v2.0h-2.0zM471 119h2.0v2.0h-2.0zM473 119h2.0v2.0h-2.0zM475 119h2.0v2.0h-2.0zM485 119h2.0v2.0h-2.0zM491 119h2.0v2.0h-2.0zM423 121h2.0v2.0h-2.0zM425 121h2.0v2.0h-2.0zM443 121h2.0v2.0h-2.0zM447 121h2.0v2.0h-2.0zM463 121h2.0v2.0h-2.0zM467 121h2.0v2.0h-2.0zM475 121h2.0v2.0h-2.0zM479 121h2.0v2.0h-2.0zM481 121h2.0v2.0h-2.0zM485 121h2.0v2.0h-2.0zM425 123h2.0v2.0h-2.0zM429 123h2.0v2.0h-2.0zM431 123h2.0v2.0h-2.0zM437 123h2.0v2.0h-2.0zM439 123h2.0v2.0h-2.0zM463 123h2.0v2.0h-2.0zM471 123h2.0v2.0h-2.0zM475 123h2.0v2.0h-2.0zM477 123h2.0v2.0h-2.0zM483 123h2.0v2.0h-2.0zM487 123h2.0v2.0h-2.0zM423 125h2.0v2.0h-2.0zM435 125h2.0v2.0h-2.0zM441 125h2.0v2.0h-2.0zM451 125h2.0v2.0h-2.0zM467 125h2.0v2.0h-2.0zM469 125h2.0v2.0h-2.0zM473 125h2.0v2.0h-2.0zM475 125h2.0v2.0h-2.0zM489 125h2.0v2.0h-2.0zM443 127h2.0v2.0h-2.0zM447 127h2.0v2.0h-2.0zM463 127h2.0v2.0h-2.0zM467 127h2.0v2.0h-2.0zM471 127h2.0v2.0h-2.0zM473 127h2.0v2.0h-2.0zM477 127h2.0v2.0h-2.0zM479 127h2.0v2.0h-2.0zM425 129h2.0v2.0h-2.0zM427 129h2.0v2.0h-2.0zM453 129h2.0v2.0h-2.0zM465 129h2.0v2.0h-2.0zM481 129h2.0v2.0h-2.0zM487 129h2.0v2.0h-2.0zM489 129h2.0v2.0h-2.0zM421 131h2.0v2.0h-2.0zM425 131h2.0v2.0h-2.0zM439 131h2.0v2.0h-2.0zM447 131h2.0v2.0h-2.0zM449 131h2.0v2.0h-2.0zM459 131h2.0v2.0h-2.0zM461 131h2.0v2.0h-2.0zM467 131h2.0v2.0h-2.0zM471 131h2.0v2.0h-2.0zM427 133h2.0v2.0h-2.0zM429 133h2.0v2.0h-2.0zM435 133h2.0v2.0h-2.0zM445 133h2.0v2.0h-2.0zM447 133h2.0v2.0h-2.0zM453 133h2.0v2.0h-2.0zM467 133h2.0v2.0h-2.0zM477 133h2.0v2.0h-2.0zM485 133h2.0v2.0h-2.0zM489 133h2.0v2.0h-2.0zM491 133h2.0v2.0h-2.0zM421 135h2.0v2.0h-2.0zM429 135h2.0v2.0h-2.0zM445 135h2.0v2.0h-2.0zM447 135h2.0v2.0h-2.0zM449 135h2.0v2.0h-2.0zM451 135h2.0v2.0h-2.0zM457 135h2.0v2.0h-2.0zM461 135h2.0v2.0h-2.0zM465 135h2.0v2.0h-2.0zM479 135h2.0v2.0h-2.0zM481 135h2.0v2.0h-2.0zM483 135h2.0v2.0h-2.0zM485 135h2.0v2.0h-2.0zM491 135h2.0v2.0h-2.0zM441 137h2.0v2.0h-2.0zM445 137h2.0v2.0h-2.0zM457 137h2.0v2.0h-2.0zM465 137h2.0v2.0h-2.0zM467 137h2.0v2.0h-2.0zM491 137h2.0v2.0h-2.0zM425 139h2.0v2.0h-2.0zM427 139h2.0v2.0h-2.0zM429 139h2.0v2.0h-2.0zM443 139h2.0v2.0h-2.0zM445 139h2.0v2.0h-2.0zM447 139h2.0v2.0h-2.0zM451 139h2.0v2.0h-2.0zM455 139h2.0v2.0h-2.0zM469 139h2.0v2.0h-2.0zM471 139h2.0v2.0h-2.0zM481 139h2.0v2.0h-2.0zM489 139h2.0v2.0h-2.0zM491 139h2.0v2.0h-2.0zM493 139h2.0v2.0h-2.0zM429 141h2.0v2.0h-2.0zM451 141h2.0v2.0h-2.0zM453 141h2.0v2.0h-2.0zM457 141h2.0v2.0h-2.0zM459 141h2.0v2.0h-2.0zM461 141h2.0v2.0h-2.0zM467 141h2.0v2.0h-2.0zM489 141h2.0v2.0h-2.0zM421 143h2.0v2.0h-2.0zM423 143h2.0v2.0h-2.0zM425 143h2.0v2.0h-2.0zM427 143h2.0v2.0h-2.0zM457 143h2.0v2.0h-2.0zM483 143h2.0v2.0h-2.0zM489 143h2.0v2.0h-2.0zM491 143h2.0v2.0h-2.0zM421 145h2.0v2.0h-2.0zM423 145h2.0v2.0h-2.0zM427 145h2.0v2.0h-2.0zM443 145h2.0v2.0h-2.0zM447 145h2.0v2.0h-2.0zM449 145h2.0v2.0h-2.0zM457 145h2.0v2.0h-2.0zM467 145h2.0v2.0h-2.0zM491 145h2.0v2.0h-2.0zM427 147h2.0v2.0h-2.0zM429 147h2.0v2.0h-2.0zM431 147h2.0v2.0h-2.0zM433 147h2.0v2.0h-2.0zM449 147h2.0v2.0h-2.0zM457 147h2.0v2.0h-2.0zM459 147h2.0v2.0h-2.0zM461 147h2.0v2.0h-2.0zM485 147h2.0v2.0h-2.0zM487 147h2.0v2.0h-2.0zM491 147h2.0v2.0h-2.0zM493 147h2.0v2.0h-2.0zM433 149h2.0v2.0h-2.0zM437 149h2.0v2.0h-2.0zM439 149h2.0v2.0h-2.0zM449 149h2.0v2.0h-2.0zM451 149h2.0v2.0h-2.0zM455 149h2.0v2.0h-2.0zM457 149h2.0v2.0h-2.0zM469 149h2.0v2.0h-2.0zM473 149h2.0v2.0h-2.0zM479 149h2.0v2.0h-2.0zM487 149h2.0v2.0h-2.0zM491 149h2.0v2.0h-2.0zM421 151h2.0v2.0h-2.0zM429 151h2.0v2.0h-2.0zM435 151h2.0v2.0h-2.0zM437 151h2.0v2.0h-2.0zM443 151h2.0v2.0h-2.0zM445 151h2.0v2.0h-2.0zM449 151h2.0v2.0h-2.0zM451 151h2.0v2.0h-2.0zM459 151h2.0v2.0h-2.0zM461 151h2.0v2.0h-2.0zM465 151h2.0v2.0h-2.0zM469 151h2.0v2.0h-2.0zM473 151h2.0v2.0h-2.0zM479 151h2.0v2.0h-2.0zM485 151h2.0v2.0h-2.0zM487 151h2.0v2.0h-2.0zM427 153h2.0v2.0h-2.0zM429 153h2.0v2.0h-2.0zM435 153h2.0v2.0h-2.0zM439 153h2.0v2.0h-2.0zM453 153h2.0v2.0h-2.0zM457 153h2.0v2.0h-2.0zM463 153h2.0v2.0h-2.0zM465 153h2.0v2.0h-2.0zM467 153h2.0v2.0h-2.0zM475 153h2.0v2.0h-2.0zM477 153h2.0v2.0h-2.0zM481 153h2.0v2.0h-2.0zM489 153h2.0v2.0h-2.0zM491 153h2.0v2.0h-2.0zM431 155h2.0v2.0h-2.0zM435 155h2.0v2.0h-2.0zM437 155h2.0v2.0h-2.0zM445 155h2.0v2.0h-2.0zM447 155h2.0v2.0h-2.0zM459 155h2.0v2.0h-2.0zM463 155h2.0v2.0h-2.0zM477 155h2.0v2.0h-2.0zM481 155h2.0v2.0h-2.0zM485 155h2.0v2.0h-2.0zM491 155h2.0v2.0h-2.0zM493 155h2.0v2.0h-2.0zM421 157h2.0v2.0h-2.0zM423 157h2.0v2.0h-2.0zM425 157h2.0v2.0h-2.0zM427 157h2.0v2.0h-2.0zM429 157h2.0v2.0h-2.0zM437 157h2.0v2.0h-2.0zM439 157h2.0v2.0h-2.0zM443 157h2.0v2.0h-2.0zM451 157h2.0v2.0h-2.0zM457 157h2.0v2.0h-2.0zM463 157h2.0v2.0h-2.0zM475 157h2.0v2.0h-2.0zM423 159h2.0v2.0h-2.0zM425 159h2.0v2.0h-2.0zM433 159h2.0v2.0h-2.0zM439 159h2.0v2.0h-2.0zM441 159h2.0v2.0h-2.0zM447 159h2.0v2.0h-2.0zM451 159h2.0v2.0h-2.0zM453 159h2.0v2.0h-2.0zM457 159h2.0v2.0h-2.0zM463 159h2.0v2.0h-2.0zM467 159h2.0v2.0h-2.0zM475 159h2.0v2.0h-2.0zM479 159h2.0v2.0h-2.0zM481 159h2.0v2.0h-2.0zM493 159h2.0v2.0h-2.0zM421 161h2.0v2.0h-2.0zM423 161h2.0v2.0h-2.0zM427 161h2.0v2.0h-2.0zM435 161h2.0v2.0h-2.0zM445 161h2.0v2.0h-2.0zM447 161h2.0v2.0h-2.0zM449 161h2.0v2.0h-2.0zM453 161h2.0v2.0h-2.0zM471 161h2.0v2.0h-2.0zM473 161h2.0v2.0h-2.0zM481 161h2.0v2.0h-2.0zM485 161h2.0v2.0h-2.0zM491 161h2.0v2.0h-2.0zM493 161h2.0v2.0h-2.0zM427 163h2.0v2.0h-2.0zM429 163h2.0v2.0h-2.0zM435 163h2.0v2.0h-2.0zM437 163h2.0v2.0h-2.0zM439 163h2.0v2.0h-2.0zM441 163h2.0v2.0h-2.0zM445 163h2.0v2.0h-2.0zM455 163h2.0v2.0h-2.0zM467 163h2.0v2.0h-2.0zM473 163h2.0v2.0h-2.0zM475 163h2.0v2.0h-2.0zM479 163h2.0v2.0h-2.0zM483 163h2.0v2.0h-2.0zM491 163h2.0v2.0h-2.0zM493 163h2.0v2.0h-2.0zM427 165h2.0v2.0h-2.0zM435 165h2.0v2.0h-2.0zM443 165h2.0v2.0h-2.0zM447 165h2.0v2.0h-2.0zM457 165h2.0v2.0h-2.0zM461 165h2.0v2.0h-2.0zM465 165h2.0v2.0h-2.0zM469 165h2.0v2.0h-2.0zM473 165h2.0v2.0h-2.0zM481 165h2.0v2.0h-2.0zM485 165h2.0v2.0h-2.0zM489 165h2.0v2.0h-2.0zM493 165h2.0v2.0h-2.0zM439 167h2.0v2.0h-2.0zM443 167h2.0v2.0h-2.0zM451 167h2.0v2.0h-2.0zM453 167h2.0v2.0h-2.0zM457 167h2.0v2.0h-2.0zM463 167h2.0v2.0h-2.0zM465 167h2.0v2.0h-2.0zM467 167h2.0v2.0h-2.0zM469 167h2.0v2.0h-2.0zM471 167h2.0v2.0h-2.0zM479 167h2.0v2.0h-2.0zM491 167h2.0v2.0h-2.0zM427 169h2.0v2.0h-2.0zM435 169h2.0v2.0h-2.0zM439 169h2.0v2.0h-2.0zM445 169h2.0v2.0h-2.0zM449 169h2.0v2.0h-2.0zM451 169h2.0v2.0h-2.0zM457 169h2.0v2.0h-2.0zM459 169h2.0v2.0h-2.0zM475 169h2.0v2.0h-2.0zM477 169h2.0v2.0h-2.0zM479 169h2.0v2.0h-2.0zM485 169h2.0v2.0h-2.0zM489 169h2.0v2.0h-2.0zM421 171h2.0v2.0h-2.0zM431 171h2.0v2.0h-2.0zM435 171h2.0v2.0h-2.0zM445 171h2.0v2.0h-2.0zM447 171h2.0v2.0h-2.0zM459 171h2.0v2.0h-2.0zM483 171h2.0v2.0h-2.0zM485 171h2.0v2.0h-2.0zM487 171h2.0v2.0h-2.0zM493 171h2.0v2.0h-2.0zM421 173h2.0v2.0h-2.0zM427 173h2.0v2.0h-2.0zM433 173h2.0v2.0h-2.0zM435 173h2.0v2.0h-2.0zM437 173h2.0v2.0h-2.0zM443 173h2.0v2.0h-2.0zM447 173h2.0v2.0h-2.0zM449 173h2.0v2.0h-2.0zM451 173h2.0v2.0h-2.0zM453 173h2.0v2.0h-2.0zM457 173h2.0v2.0h-2.0zM459 173h2.0v2.0h-2.0zM465 173h2.0v2.0h-2.0zM475 173h2.0v2.0h-2.0zM485 173h2.0v2.0h-2.0zM493 173h2.0v2.0h-2.0zM421 175h2.0v2.0h-2.0zM425 175h2.0v2.0h-2.0zM429 175h2.0v2.0h-2.0zM431 175h2.0v2.0h-2.0zM435 175h2.0v2.0h-2.0zM439 175h2.0v2.0h-2.0zM443 175h2.0v2.0h-2.0zM449 175h2.0v2.0h-2.0zM459 175h2.0v2.0h-2.0zM469 175h2.0v2.0h-2.0zM477 175h2.0v2.0h-2.0zM479 175h2.0v2.0h-2.0zM481 175h2.0v2.0h-2.0zM491 175h2.0v2.0h-2.0z" fill="rgb(8,12,8)"/>
<path d="M423 103h2.0v2.0h-2.0zM425 103h2.0v2.0h-2.0zM429 103h2.0v2.0h-2.0zM439 103h2.0v2.0h-2.0zM461 103h2.0v2.0h-2.0zM425 105h2.0v2.0h-2.0zM445 105h2.0v2.0h-2.0zM473 105h2.0v2.0h-2.0zM479 105h2.0v2.0h-2.0zM481 105h2.0v2.0h-2.0zM483 105h2.0v2.0h-2.0zM489 105h2.0v2.0h-2.0zM451 107h2.0v2.0h-2.0zM457 107h2.0v2.0h-2.0zM463 107h2.0v2.0h-2.0zM491 107h2.0v2.0h-2.0zM425 109h2.0v2.0h-2.0zM437 109h2.0v2.0h-2.0zM447 109h2.0v2.0h-2.0zM481 109h2.0v2.0h-2.0zM421 111h2.0v2.0h-2.0zM429 111h2.0v2.0h-2.0zM447 111h2.0v2.0h-2.0zM449 111h2.0v2.0h-2.0zM451 111h2.0v2.0h-2.0zM453 111h2.0v2.0h-2.0zM459 111h2.0v2.0h-2.0zM467 111h2.0v2.0h-2.0zM481 111h2.0v2.0h-2.0zM485 111h2.0v2.0h-2.0zM491 111h2.0v2.0h-2.0zM421 113h2.0v2.0h-2.0zM425 113h2.0v2.0h-2.0zM447 113h2.0v2.0h-2.0zM453 113h2.0v2.0h-2.0zM457 113h2.0v2.0h-2.0zM433 115h2.0v2.0h-2.0zM435 115h2.0v2.0h-2.0zM475 115h2.0v2.0h-2.0zM493 115h2.0v2.0h-2.0zM479 117h2.0v2.0h-2.0zM435 119h2.0v2.0h-2.0zM445 119h2.0v2.0h-2.0zM447 119h2.0v2.0h-2.0zM451 119h2.0v2.0h-2.0zM455 119h2.0v2.0h-2.0zM479 119h2.0v2.0h-2.0zM421 121h2.0v2.0h-2.0zM441 121h2.0v2.0h-2.0zM445 121h2.0v2.0h-2.0zM457 121h2.0v2.0h-2.0zM469 121h2.0v2.0h-2.0zM487 121h2.0v2.0h-2.0zM443 123h2.0v2.0h-2.0zM449 123h2.0v2.0h-2.0zM455 123h2.0v2.0h-2.0zM467 123h2.0v2.0h-2.0zM481 123h2.0v2.0h-2.0zM485 123h2.0v2.0h-2.0zM425 125h2.0v2.0h-2.0zM427 125h2.0v2.0h-2.0zM453 125h2.0v2.0h-2.0zM471 125h2.0v2.0h-2.0zM477 125h2.0v2.0h-2.0zM479 125h2.0v2.0h-2.0zM481 125h2.0v2.0h-2.0zM491 125h2.0v2.0h-2.0zM423 127h2.0v2.0h-2.0zM427 127h2.0v2.0h-2.0zM431 127h2.0v2.0h-2.0zM437 127h2.0v2.0h-2.0zM439 127h2.0v2.0h-2.0zM441 127h2.0v2.0h-2.0zM421 129h2.0v2.0h-2.0zM429 129h2.0v2.0h-2.0zM431 129h2.0v2.0h-2.0zM441 129h2.0v2.0h-2.0zM443 129h2.0v2.0h-2.0zM447 129h2.0v2.0h-2.0zM457 129h2.0v2.0h-2.0zM493 129h2.0v2.0h-2.0zM431 131h2.0v2.0h-2.0zM443 131h2.0v2.0h-2.0zM465 131h2.0v2.0h-2.0zM469 131h2.0v2.0h-2.0zM487 131h2.0v2.0h-2.0zM491 131h2.0v2.0h-2.0zM421 133h2.0v2.0h-2.0zM425 133h2.0v2.0h-2.0zM431 133h2.0v2.0h-2.0zM433 133h2.0v2.0h-2.0zM443 133h2.0v2.0h-2.0zM457 133h2.0v2.0h-2.0zM463 133h2.0v2.0h-2.0zM469 133h2.0v2.0h-2.0zM475 133h2.0v2.0h-2.0zM433 135h2.0v2.0h-2.0zM439 135h2.0v2.0h-2.0zM473 135h2.0v2.0h-2.0zM477 135h2.0v2.0h-2.0zM421 137h2.0v2.0h-2.0zM425 137h2.0v2.0h-2.0zM431 137h2.0v2.0h-2.0zM435 137h2.0v2.0h-2.0zM455 137h2.0v2.0h-2.0zM477 137h2.0v2.0h-2.0zM481 137h2.0v2.0h-2.0zM483 137h2.0v2.0h-2.0zM433 139h2.0v2.0h-2.0zM435 139h2.0v2.0h-2.0zM437 139h2.0v2.0h-2.0zM423 141h2.0v2.0h-2.0zM463 141h2.0v2.0h-2.0zM465 141h2.0v2.0h-2.0zM473 141h2.0v2.0h-2.0zM491 141h2.0v2.0h-2.0zM431 143h2.0v2.0h-2.0zM439 143h2.0v2.0h-2.0zM447 143h2.0v2.0h-2.0zM473 143h2.0v2.0h-2.0zM479 143h2.0v2.0h-2.0zM435 145h2.0v2.0h-2.0zM439 145h2.0v2.0h-2.0zM441 145h2.0v2.0h-2.0zM459 145h2.0v2.0h-2.0zM463 145h2.0v2.0h-2.0zM469 145h2.0v2.0h-2.0zM475 145h2.0v2.0h-2.0zM481 145h2.0v2.0h-2.0zM483 145h2.0v2.0h-2.0zM487 145h2.0v2.0h-2.0zM423 147h2.0v2.0h-2.0zM425 147h2.0v2.0h-2.0zM443 147h2.0v2.0h-2.0zM453 147h2.0v2.0h-2.0zM475 147h2.0v2.0h-2.0zM441 149h2.0v2.0h-2.0zM443 149h2.0v2.0h-2.0zM445 149h2.0v2.0h-2.0zM463 149h2.0v2.0h-2.0zM477 149h2.0v2.0h-2.0zM485 149h2.0v2.0h-2.0zM427 151h2.0v2.0h-2.0zM463 151h2.0v2.0h-2.0zM467 151h2.0v2.0h-2.0zM475 151h2.0v2.0h-2.0zM483 151h2.0v2.0h-2.0zM421 153h2.0v2.0h-2.0zM425 153h2.0v2.0h-2.0zM433 153h2.0v2.0h-2.0zM437 153h2.0v2.0h-2.0zM441 153h2.0v2.0h-2.0zM445 153h2.0v2.0h-2.0zM451 153h2.0v2.0h-2.0zM461 153h2.0v2.0h-2.0zM469 153h2.0v2.0h-2.0zM473 153h2.0v2.0h-2.0zM483 153h2.0v2.0h-2.0zM439 155h2.0v2.0h-2.0zM443 155h2.0v2.0h-2.0zM451 155h2.0v2.0h-2.0zM455 155h2.0v2.0h-2.0zM475 155h2.0v2.0h-2.0zM483 155h2.0v2.0h-2.0zM431 157h2.0v2.0h-2.0zM441 157h2.0v2.0h-2.0zM461 157h2.0v2.0h-2.0zM471 157h2.0v2.0h-2.0zM481 157h2.0v2.0h-2.0zM489 157h2.0v2.0h-2.0zM445 159h2.0v2.0h-2.0zM465 159h2.0v2.0h-2.0zM469 159h2.0v2.0h-2.0zM451 161h2.0v2.0h-2.0zM457 161h2.0v2.0h-2.0zM467 161h2.0v2.0h-2.0zM423 163h2.0v2.0h-2.0zM425 163h2.0v2.0h-2.0zM433 163h2.0v2.0h-2.0zM449 163h2.0v2.0h-2.0zM477 163h2.0v2.0h-2.0zM421 165h2.0v2.0h-2.0zM425 165h2.0v2.0h-2.0zM463 165h2.0v2.0h-2.0zM471 165h2.0v2.0h-2.0zM483 165h2.0v2.0h-2.0zM421 167h2.0v2.0h-2.0zM429 167h2.0v2.0h-2.0zM481 167h2.0v2.0h-2.0zM423 169h2.0v2.0h-2.0zM443 169h2.0v2.0h-2.0zM447 169h2.0v2.0h-2.0zM469 169h2.0v2.0h-2.0zM481 169h2.0v2.0h-2.0zM493 169h2.0v2.0h-2.0zM423 171h2.0v2.0h-2.0zM425 171h2.0v2.0h-2.0zM433 171h2.0v2.0h-2.0zM449 171h2.0v2.0h-2.0zM453 171h2.0v2.0h-2.0zM465 171h2.0v2.0h-2.0zM479 171h2.0v2.0h-2.0zM481 171h2.0v2.0h-2.0zM491 171h2.0v2.0h-2.0zM429 173h2.0v2.0h-2.0zM473 173h2.0v2.0h-2.0zM477 173h2.0v2.0h-2.0zM483 173h2.0v2.0h-2.0zM441 175h2.0v2.0h-2.0zM451 175h2.0v2.0h-2.0zM465 175h2.0v2.0h-2.0zM471 175h2.0v2.0h-2.0zM475 175h2.0v2.0h-2.0zM485 175h2.0v2.0h-2.0z" fill="rgb(35,55,30)"/>
<path d="M463 103h2.0v2.0h-2.0zM471 103h2.0v2.0h-2.0zM477 103h2.0v2.0h-2.0zM481 103h2.0v2.0h-2.0zM483 103h2.0v2.0h-2.0zM487 103h2.0v2.0h-2.0zM493 103h2.0v2.0h-2.0zM421 105h2.0v2.0h-2.0zM429 105h2.0v2.0h-2.0zM439 105h2.0v2.0h-2.0zM459 105h2.0v2.0h-2.0zM477 105h2.0v2.0h-2.0zM491 105h2.0v2.0h-2.0zM493 105h2.0v2.0h-2.0zM421 107h2.0v2.0h-2.0zM429 107h2.0v2.0h-2.0zM467 107h2.0v2.0h-2.0zM469 107h2.0v2.0h-2.0zM481 107h2.0v2.0h-2.0zM489 107h2.0v2.0h-2.0zM493 107h2.0v2.0h-2.0zM421 109h2.0v2.0h-2.0zM435 109h2.0v2.0h-2.0zM459 109h2.0v2.0h-2.0zM465 109h2.0v2.0h-2.0zM471 109h2.0v2.0h-2.0zM475 109h2.0v2.0h-2.0zM479 109h2.0v2.0h-2.0zM433 111h2.0v2.0h-2.0zM443 111h2.0v2.0h-2.0zM439 113h2.0v2.0h-2.0zM445 113h2.0v2.0h-2.0zM455 113h2.0v2.0h-2.0zM469 113h2.0v2.0h-2.0zM477 113h2.0v2.0h-2.0zM479 113h2.0v2.0h-2.0zM485 113h2.0v2.0h-2.0zM487 113h2.0v2.0h-2.0zM451 115h2.0v2.0h-2.0zM473 115h2.0v2.0h-2.0zM477 115h2.0v2.0h-2.0zM479 115h2.0v2.0h-2.0zM483 115h2.0v2.0h-2.0zM425 117h2.0v2.0h-2.0zM427 117h2.0v2.0h-2.0zM435 117h2.0v2.0h-2.0zM465 117h2.0v2.0h-2.0zM481 117h2.0v2.0h-2.0zM423 119h2.0v2.0h-2.0zM427 119h2.0v2.0h-2.0zM443 119h2.0v2.0h-2.0zM461 119h2.0v2.0h-2.0zM467 119h2.0v2.0h-2.0zM433 121h2.0v2.0h-2.0zM435 121h2.0v2.0h-2.0zM451 121h2.0v2.0h-2.0zM471 121h2.0v2.0h-2.0zM483 121h2.0v2.0h-2.0zM423 123h2.0v2.0h-2.0zM441 123h2.0v2.0h-2.0zM447 123h2.0v2.0h-2.0zM451 123h2.0v2.0h-2.0zM491 123h2.0v2.0h-2.0zM421 125h2.0v2.0h-2.0zM429 125h2.0v2.0h-2.0zM431 125h2.0v2.0h-2.0zM439 125h2.0v2.0h-2.0zM447 125h2.0v2.0h-2.0zM455 125h2.0v2.0h-2.0zM459 125h2.0v2.0h-2.0zM485 125h2.0v2.0h-2.0zM445 127h2.0v2.0h-2.0zM449 127h2.0v2.0h-2.0zM455 127h2.0v2.0h-2.0zM437 129h2.0v2.0h-2.0zM445 129h2.0v2.0h-2.0zM451 129h2.0v2.0h-2.0zM469 129h2.0v2.0h-2.0zM471 129h2.0v2.0h-2.0zM473 129h2.0v2.0h-2.0zM479 129h2.0v2.0h-2.0zM483 129h2.0v2.0h-2.0zM423 131h2.0v2.0h-2.0zM427 131h2.0v2.0h-2.0zM429 131h2.0v2.0h-2.0zM457 131h2.0v2.0h-2.0zM463 131h2.0v2.0h-2.0zM475 131h2.0v2.0h-2.0zM483 131h2.0v2.0h-2.0zM437 133h2.0v2.0h-2.0zM461 133h2.0v2.0h-2.0zM465 133h2.0v2.0h-2.0zM423 135h2.0v2.0h-2.0zM425 135h2.0v2.0h-2.0zM427 135h2.0v2.0h-2.0zM455 135h2.0v2.0h-2.0zM459 135h2.0v2.0h-2.0zM471 135h2.0v2.0h-2.0zM489 135h2.0v2.0h-2.0zM493 135h2.0v2.0h-2.0zM423 137h2.0v2.0h-2.0zM437 137h2.0v2.0h-2.0zM453 137h2.0v2.0h-2.0zM485 137h2.0v2.0h-2.0zM421 139h2.0v2.0h-2.0zM423 139h2.0v2.0h-2.0zM441 139h2.0v2.0h-2.0zM459 139h2.0v2.0h-2.0zM465 139h2.0v2.0h-2.0zM487 139h2.0v2.0h-2.0zM441 141h2.0v2.0h-2.0zM447 141h2.0v2.0h-2.0zM449 141h2.0v2.0h-2.0zM455 141h2.0v2.0h-2.0zM483 141h2.0v2.0h-2.0zM435 143h2.0v2.0h-2.0zM445 143h2.0v2.0h-2.0zM449 143h2.0v2.0h-2.0zM453 143h2.0v2.0h-2.0zM465 143h2.0v2.0h-2.0zM469 143h2.0v2.0h-2.0zM471 143h2.0v2.0h-2.0zM475 143h2.0v2.0h-2.0zM477 143h2.0v2.0h-2.0zM485 143h2.0v2.0h-2.0zM437 145h2.0v2.0h-2.0zM445 145h2.0v2.0h-2.0zM461 145h2.0v2.0h-2.0zM473 145h2.0v2.0h-2.0zM477 145h2.0v2.0h-2.0zM441 147h2.0v2.0h-2.0zM467 147h2.0v2.0h-2.0zM469 147h2.0v2.0h-2.0zM471 147h2.0v2.0h-2.0zM427 149h2.0v2.0h-2.0zM459 149h2.0v2.0h-2.0zM481 149h2.0v2.0h-2.0zM439 151h2.0v2.0h-2.0zM423 153h2.0v2.0h-2.0zM447 153h2.0v2.0h-2.0zM455 153h2.0v2.0h-2.0zM487 153h2.0v2.0h-2.0zM425 155h2.0v2.0h-2.0zM427 155h2.0v2.0h-2.0zM429 155h2.0v2.0h-2.0zM449 155h2.0v2.0h-2.0zM473 155h2.0v2.0h-2.0zM489 155h2.0v2.0h-2.0zM433 157h2.0v2.0h-2.0zM435 157h2.0v2.0h-2.0zM485 157h2.0v2.0h-2.0zM421 159h2.0v2.0h-2.0zM435 159h2.0v2.0h-2.0zM461 159h2.0v2.0h-2.0zM473 159h2.0v2.0h-2.0zM483 159h2.0v2.0h-2.0zM487 159h2.0v2.0h-2.0zM489 159h2.0v2.0h-2.0zM429 161h2.0v2.0h-2.0zM433 161h2.0v2.0h-2.0zM441 161h2.0v2.0h-2.0zM455 161h2.0v2.0h-2.0zM475 161h2.0v2.0h-2.0zM487 161h2.0v2.0h-2.0zM451 163h2.0v2.0h-2.0zM459 163h2.0v2.0h-2.0zM461 163h2.0v2.0h-2.0zM463 163h2.0v2.0h-2.0zM465 163h2.0v2.0h-2.0zM485 163h2.0v2.0h-2.0zM487 163h2.0v2.0h-2.0zM423 165h2.0v2.0h-2.0zM437 165h2.0v2.0h-2.0zM441 165h2.0v2.0h-2.0zM453 165h2.0v2.0h-2.0zM477 165h2.0v2.0h-2.0zM487 165h2.0v2.0h-2.0zM491 165h2.0v2.0h-2.0zM431 167h2.0v2.0h-2.0zM435 167h2.0v2.0h-2.0zM447 167h2.0v2.0h-2.0zM455 167h2.0v2.0h-2.0zM461 167h2.0v2.0h-2.0zM483 167h2.0v2.0h-2.0zM487 167h2.0v2.0h-2.0zM489 167h2.0v2.0h-2.0zM493 167h2.0v2.0h-2.0zM441 169h2.0v2.0h-2.0zM461 169h2.0v2.0h-2.0zM465 169h2.0v2.0h-2.0zM473 169h2.0v2.0h-2.0zM429 171h2.0v2.0h-2.0zM439 171h2.0v2.0h-2.0zM455 171h2.0v2.0h-2.0zM467 171h2.0v2.0h-2.0zM423 173h2.0v2.0h-2.0zM431 173h2.0v2.0h-2.0zM445 173h2.0v2.0h-2.0zM455 173h2.0v2.0h-2.0zM467 173h2.0v2.0h-2.0zM479 173h2.0v2.0h-2.0zM481 173h2.0v2.0h-2.0zM463 175h2.0v2.0h-2.0zM483 175h2.0v2.0h-2.0zM493 175h2.0v2.0h-2.0z" fill="rgb(65,100,50)"/>
<path d="M437 103h2.0v2.0h-2.0zM447 103h2.0v2.0h-2.0zM459 103h2.0v2.0h-2.0zM467 103h2.0v2.0h-2.0zM467 105h2.0v2.0h-2.0zM471 105h2.0v2.0h-2.0zM475 105h2.0v2.0h-2.0zM485 105h2.0v2.0h-2.0zM487 105h2.0v2.0h-2.0zM433 107h2.0v2.0h-2.0zM439 107h2.0v2.0h-2.0zM441 107h2.0v2.0h-2.0zM453 107h2.0v2.0h-2.0zM445 109h2.0v2.0h-2.0zM467 109h2.0v2.0h-2.0zM423 111h2.0v2.0h-2.0zM465 111h2.0v2.0h-2.0zM471 111h2.0v2.0h-2.0zM473 111h2.0v2.0h-2.0zM449 113h2.0v2.0h-2.0zM451 113h2.0v2.0h-2.0zM467 113h2.0v2.0h-2.0zM475 113h2.0v2.0h-2.0zM481 113h2.0v2.0h-2.0zM491 113h2.0v2.0h-2.0zM423 115h2.0v2.0h-2.0zM427 115h2.0v2.0h-2.0zM437 115h2.0v2.0h-2.0zM447 115h2.0v2.0h-2.0zM455 115h2.0v2.0h-2.0zM461 115h2.0v2.0h-2.0zM481 115h2.0v2.0h-2.0zM485 115h2.0v2.0h-2.0zM491 115h2.0v2.0h-2.0zM433 117h2.0v2.0h-2.0zM451 117h2.0v2.0h-2.0zM457 117h2.0v2.0h-2.0zM487 117h2.0v2.0h-2.0zM425 119h2.0v2.0h-2.0zM429 119h2.0v2.0h-2.0zM433 119h2.0v2.0h-2.0zM439 119h2.0v2.0h-2.0zM441 119h2.0v2.0h-2.0zM449 119h2.0v2.0h-2.0zM463 119h2.0v2.0h-2.0zM469 119h2.0v2.0h-2.0zM481 119h2.0v2.0h-2.0zM493 119h2.0v2.0h-2.0zM431 121h2.0v2.0h-2.0zM437 121h2.0v2.0h-2.0zM439 121h2.0v2.0h-2.0zM421 123h2.0v2.0h-2.0zM435 123h2.0v2.0h-2.0zM473 123h2.0v2.0h-2.0zM493 123h2.0v2.0h-2.0zM437 125h2.0v2.0h-2.0zM457 125h2.0v2.0h-2.0zM461 125h2.0v2.0h-2.0zM487 125h2.0v2.0h-2.0zM433 127h2.0v2.0h-2.0zM435 127h2.0v2.0h-2.0zM465 127h2.0v2.0h-2.0zM485 127h2.0v2.0h-2.0zM487 127h2.0v2.0h-2.0zM493 127h2.0v2.0h-2.0zM423 129h2.0v2.0h-2.0zM475 129h2.0v2.0h-2.0zM433 131h2.0v2.0h-2.0zM435 131h2.0v2.0h-2.0zM453 131h2.0v2.0h-2.0zM473 131h2.0v2.0h-2.0zM485 131h2.0v2.0h-2.0zM423 133h2.0v2.0h-2.0zM441 133h2.0v2.0h-2.0zM449 133h2.0v2.0h-2.0zM455 133h2.0v2.0h-2.0zM459 133h2.0v2.0h-2.0zM471 133h2.0v2.0h-2.0zM481 133h2.0v2.0h-2.0zM487 133h2.0v2.0h-2.0zM431 135h2.0v2.0h-2.0zM437 135h2.0v2.0h-2.0zM427 137h2.0v2.0h-2.0zM459 137h2.0v2.0h-2.0zM475 137h2.0v2.0h-2.0zM461 139h2.0v2.0h-2.0zM485 139h2.0v2.0h-2.0zM421 141h2.0v2.0h-2.0zM433 141h2.0v2.0h-2.0zM435 141h2.0v2.0h-2.0zM443 141h2.0v2.0h-2.0zM471 141h2.0v2.0h-2.0zM479 141h2.0v2.0h-2.0zM441 143h2.0v2.0h-2.0zM425 145h2.0v2.0h-2.0zM431 145h2.0v2.0h-2.0zM451 145h2.0v2.0h-2.0zM471 145h2.0v2.0h-2.0zM479 145h2.0v2.0h-2.0zM421 147h2.0v2.0h-2.0zM437 147h2.0v2.0h-2.0zM439 147h2.0v2.0h-2.0zM451 147h2.0v2.0h-2.0zM463 147h2.0v2.0h-2.0zM477 147h2.0v2.0h-2.0zM423 149h2.0v2.0h-2.0zM429 149h2.0v2.0h-2.0zM431 149h2.0v2.0h-2.0zM467 149h2.0v2.0h-2.0zM475 149h2.0v2.0h-2.0zM431 151h2.0v2.0h-2.0zM441 151h2.0v2.0h-2.0zM457 151h2.0v2.0h-2.0zM471 151h2.0v2.0h-2.0zM489 151h2.0v2.0h-2.0zM443 153h2.0v2.0h-2.0zM459 153h2.0v2.0h-2.0zM485 153h2.0v2.0h-2.0zM457 155h2.0v2.0h-2.0zM465 155h2.0v2.0h-2.0zM471 155h2.0v2.0h-2.0zM467 157h2.0v2.0h-2.0zM473 157h2.0v2.0h-2.0zM477 157h2.0v2.0h-2.0zM487 157h2.0v2.0h-2.0zM491 157h2.0v2.0h-2.0zM429 159h2.0v2.0h-2.0zM477 159h2.0v2.0h-2.0zM431 161h2.0v2.0h-2.0zM437 161h2.0v2.0h-2.0zM461 161h2.0v2.0h-2.0zM463 161h2.0v2.0h-2.0zM443 163h2.0v2.0h-2.0zM471 163h2.0v2.0h-2.0zM445 167h2.0v2.0h-2.0zM477 167h2.0v2.0h-2.0zM421 169h2.0v2.0h-2.0zM429 169h2.0v2.0h-2.0zM433 169h2.0v2.0h-2.0zM455 169h2.0v2.0h-2.0zM463 169h2.0v2.0h-2.0zM467 169h2.0v2.0h-2.0zM427 171h2.0v2.0h-2.0zM437 171h2.0v2.0h-2.0zM461 171h2.0v2.0h-2.0zM473 171h2.0v2.0h-2.0zM475 171h2.0v2.0h-2.0zM463 173h2.0v2.0h-2.0zM453 175h2.0v2.0h-2.0zM461 175h2.0v2.0h-2.0zM487 175h2.0v2.0h-2.0z" fill="rgb(110,150,80)"/>
<path d="M431 103h2.0v2.0h-2.0zM453 103h2.0v2.0h-2.0zM491 103h2.0v2.0h-2.0zM437 105h2.0v2.0h-2.0zM423 109h2.0v2.0h-2.0zM455 111h2.0v2.0h-2.0zM463 111h2.0v2.0h-2.0zM477 111h2.0v2.0h-2.0zM483 111h2.0v2.0h-2.0zM429 113h2.0v2.0h-2.0zM465 113h2.0v2.0h-2.0zM483 113h2.0v2.0h-2.0zM493 113h2.0v2.0h-2.0zM421 115h2.0v2.0h-2.0zM465 115h2.0v2.0h-2.0zM467 115h2.0v2.0h-2.0zM421 117h2.0v2.0h-2.0zM445 117h2.0v2.0h-2.0zM447 117h2.0v2.0h-2.0zM477 117h2.0v2.0h-2.0zM489 117h2.0v2.0h-2.0zM457 119h2.0v2.0h-2.0zM477 119h2.0v2.0h-2.0zM489 119h2.0v2.0h-2.0zM453 121h2.0v2.0h-2.0zM455 121h2.0v2.0h-2.0zM473 121h2.0v2.0h-2.0zM433 123h2.0v2.0h-2.0zM465 123h2.0v2.0h-2.0zM445 125h2.0v2.0h-2.0zM493 125h2.0v2.0h-2.0zM457 127h2.0v2.0h-2.0zM435 129h2.0v2.0h-2.0zM455 129h2.0v2.0h-2.0zM459 129h2.0v2.0h-2.0zM461 129h2.0v2.0h-2.0zM439 133h2.0v2.0h-2.0zM451 133h2.0v2.0h-2.0zM441 135h2.0v2.0h-2.0zM467 135h2.0v2.0h-2.0zM469 135h2.0v2.0h-2.0zM429 137h2.0v2.0h-2.0zM443 137h2.0v2.0h-2.0zM447 137h2.0v2.0h-2.0zM451 137h2.0v2.0h-2.0zM487 137h2.0v2.0h-2.0zM467 139h2.0v2.0h-2.0zM431 141h2.0v2.0h-2.0zM475 141h2.0v2.0h-2.0zM429 143h2.0v2.0h-2.0zM455 143h2.0v2.0h-2.0zM461 143h2.0v2.0h-2.0zM453 145h2.0v2.0h-2.0zM435 147h2.0v2.0h-2.0zM445 147h2.0v2.0h-2.0zM481 147h2.0v2.0h-2.0zM421 149h2.0v2.0h-2.0zM425 149h2.0v2.0h-2.0zM483 149h2.0v2.0h-2.0zM425 151h2.0v2.0h-2.0zM477 151h2.0v2.0h-2.0zM431 153h2.0v2.0h-2.0zM449 153h2.0v2.0h-2.0zM479 153h2.0v2.0h-2.0zM467 155h2.0v2.0h-2.0zM479 155h2.0v2.0h-2.0zM487 155h2.0v2.0h-2.0zM453 157h2.0v2.0h-2.0zM459 157h2.0v2.0h-2.0zM483 157h2.0v2.0h-2.0zM427 159h2.0v2.0h-2.0zM431 159h2.0v2.0h-2.0zM425 161h2.0v2.0h-2.0zM439 161h2.0v2.0h-2.0zM443 161h2.0v2.0h-2.0zM489 161h2.0v2.0h-2.0zM489 163h2.0v2.0h-2.0zM445 165h2.0v2.0h-2.0zM459 167h2.0v2.0h-2.0zM475 167h2.0v2.0h-2.0zM485 167h2.0v2.0h-2.0zM431 169h2.0v2.0h-2.0zM437 169h2.0v2.0h-2.0zM487 169h2.0v2.0h-2.0zM443 171h2.0v2.0h-2.0zM451 171h2.0v2.0h-2.0zM463 171h2.0v2.0h-2.0zM469 171h2.0v2.0h-2.0zM471 171h2.0v2.0h-2.0zM477 171h2.0v2.0h-2.0zM439 173h2.0v2.0h-2.0zM471 173h2.0v2.0h-2.0zM423 175h2.0v2.0h-2.0zM433 175h2.0v2.0h-2.0zM447 175h2.0v2.0h-2.0zM455 175h2.0v2.0h-2.0z" fill="rgb(170,195,130)"/>
<path d="M473 103h2.0v2.0h-2.0zM475 103h2.0v2.0h-2.0zM453 105h2.0v2.0h-2.0zM469 105h2.0v2.0h-2.0zM425 107h2.0v2.0h-2.0zM487 107h2.0v2.0h-2.0zM441 109h2.0v2.0h-2.0zM443 109h2.0v2.0h-2.0zM485 109h2.0v2.0h-2.0zM489 109h2.0v2.0h-2.0zM461 111h2.0v2.0h-2.0zM493 111h2.0v2.0h-2.0zM427 113h2.0v2.0h-2.0zM433 113h2.0v2.0h-2.0zM437 113h2.0v2.0h-2.0zM439 115h2.0v2.0h-2.0zM443 117h2.0v2.0h-2.0zM455 117h2.0v2.0h-2.0zM459 117h2.0v2.0h-2.0zM427 121h2.0v2.0h-2.0zM461 121h2.0v2.0h-2.0zM465 121h2.0v2.0h-2.0zM493 121h2.0v2.0h-2.0zM445 123h2.0v2.0h-2.0zM461 123h2.0v2.0h-2.0zM469 123h2.0v2.0h-2.0zM479 123h2.0v2.0h-2.0zM463 125h2.0v2.0h-2.0zM465 125h2.0v2.0h-2.0zM483 125h2.0v2.0h-2.0zM421 127h2.0v2.0h-2.0zM425 127h2.0v2.0h-2.0zM475 127h2.0v2.0h-2.0zM449 129h2.0v2.0h-2.0zM485 129h2.0v2.0h-2.0zM491 129h2.0v2.0h-2.0zM445 131h2.0v2.0h-2.0zM477 131h2.0v2.0h-2.0zM479 131h2.0v2.0h-2.0zM489 131h2.0v2.0h-2.0zM493 131h2.0v2.0h-2.0zM483 133h2.0v2.0h-2.0zM487 135h2.0v2.0h-2.0zM439 137h2.0v2.0h-2.0zM449 137h2.0v2.0h-2.0zM461 137h2.0v2.0h-2.0zM469 137h2.0v2.0h-2.0zM493 137h2.0v2.0h-2.0zM449 139h2.0v2.0h-2.0zM457 139h2.0v2.0h-2.0zM473 139h2.0v2.0h-2.0zM475 139h2.0v2.0h-2.0zM483 139h2.0v2.0h-2.0zM427 141h2.0v2.0h-2.0zM437 141h2.0v2.0h-2.0zM439 141h2.0v2.0h-2.0zM469 141h2.0v2.0h-2.0zM481 141h2.0v2.0h-2.0zM487 141h2.0v2.0h-2.0zM433 143h2.0v2.0h-2.0zM463 143h2.0v2.0h-2.0zM481 143h2.0v2.0h-2.0zM429 145h2.0v2.0h-2.0zM433 145h2.0v2.0h-2.0zM455 145h2.0v2.0h-2.0zM465 145h2.0v2.0h-2.0zM489 145h2.0v2.0h-2.0zM455 147h2.0v2.0h-2.0zM483 147h2.0v2.0h-2.0zM489 147h2.0v2.0h-2.0zM465 149h2.0v2.0h-2.0zM471 149h2.0v2.0h-2.0zM489 149h2.0v2.0h-2.0zM493 149h2.0v2.0h-2.0zM433 151h2.0v2.0h-2.0zM455 151h2.0v2.0h-2.0zM491 151h2.0v2.0h-2.0zM493 151h2.0v2.0h-2.0zM471 153h2.0v2.0h-2.0zM493 153h2.0v2.0h-2.0zM453 155h2.0v2.0h-2.0zM469 155h2.0v2.0h-2.0zM447 157h2.0v2.0h-2.0zM465 157h2.0v2.0h-2.0zM493 157h2.0v2.0h-2.0zM449 159h2.0v2.0h-2.0zM459 159h2.0v2.0h-2.0zM471 159h2.0v2.0h-2.0zM491 159h2.0v2.0h-2.0zM465 161h2.0v2.0h-2.0zM477 161h2.0v2.0h-2.0zM479 161h2.0v2.0h-2.0zM483 161h2.0v2.0h-2.0zM457 163h2.0v2.0h-2.0zM429 165h2.0v2.0h-2.0zM431 165h2.0v2.0h-2.0zM433 165h2.0v2.0h-2.0zM451 165h2.0v2.0h-2.0zM455 165h2.0v2.0h-2.0zM459 165h2.0v2.0h-2.0zM467 165h2.0v2.0h-2.0zM475 165h2.0v2.0h-2.0zM479 165h2.0v2.0h-2.0zM427 167h2.0v2.0h-2.0zM433 167h2.0v2.0h-2.0zM437 167h2.0v2.0h-2.0zM441 167h2.0v2.0h-2.0zM449 167h2.0v2.0h-2.0zM473 167h2.0v2.0h-2.0zM425 169h2.0v2.0h-2.0zM453 169h2.0v2.0h-2.0zM457 171h2.0v2.0h-2.0zM489 171h2.0v2.0h-2.0zM425 173h2.0v2.0h-2.0zM445 175h2.0v2.0h-2.0z" fill="rgb(235,230,195)"/>
<path d="M435 103h2.0v2.0h-2.0zM449 103h2.0v2.0h-2.0zM441 105h2.0v2.0h-2.0zM443 107h2.0v2.0h-2.0zM465 107h2.0v2.0h-2.0zM429 109h2.0v2.0h-2.0zM455 109h2.0v2.0h-2.0zM469 109h2.0v2.0h-2.0zM477 109h2.0v2.0h-2.0zM487 109h2.0v2.0h-2.0zM493 109h2.0v2.0h-2.0zM427 111h2.0v2.0h-2.0zM443 113h2.0v2.0h-2.0zM471 113h2.0v2.0h-2.0zM441 115h2.0v2.0h-2.0zM459 115h2.0v2.0h-2.0zM487 115h2.0v2.0h-2.0zM431 117h2.0v2.0h-2.0zM471 117h2.0v2.0h-2.0zM491 117h2.0v2.0h-2.0zM483 119h2.0v2.0h-2.0zM487 119h2.0v2.0h-2.0zM459 121h2.0v2.0h-2.0zM489 121h2.0v2.0h-2.0zM491 121h2.0v2.0h-2.0zM427 123h2.0v2.0h-2.0zM433 125h2.0v2.0h-2.0zM451 127h2.0v2.0h-2.0zM469 127h2.0v2.0h-2.0zM483 127h2.0v2.0h-2.0zM491 127h2.0v2.0h-2.0zM467 129h2.0v2.0h-2.0zM455 131h2.0v2.0h-2.0zM471 137h2.0v2.0h-2.0zM431 139h2.0v2.0h-2.0zM479 139h2.0v2.0h-2.0zM425 141h2.0v2.0h-2.0zM445 141h2.0v2.0h-2.0zM477 141h2.0v2.0h-2.0zM493 141h2.0v2.0h-2.0zM437 143h2.0v2.0h-2.0zM443 143h2.0v2.0h-2.0zM459 143h2.0v2.0h-2.0zM467 143h2.0v2.0h-2.0zM485 145h2.0v2.0h-2.0zM447 147h2.0v2.0h-2.0zM473 147h2.0v2.0h-2.0zM435 149h2.0v2.0h-2.0zM453 149h2.0v2.0h-2.0zM423 151h2.0v2.0h-2.0zM453 151h2.0v2.0h-2.0zM423 155h2.0v2.0h-2.0zM433 155h2.0v2.0h-2.0zM445 157h2.0v2.0h-2.0zM469 157h2.0v2.0h-2.0zM437 159h2.0v2.0h-2.0zM469 161h2.0v2.0h-2.0zM431 163h2.0v2.0h-2.0zM453 163h2.0v2.0h-2.0zM423 167h2.0v2.0h-2.0zM441 173h2.0v2.0h-2.0zM461 173h2.0v2.0h-2.0zM469 173h2.0v2.0h-2.0zM489 173h2.0v2.0h-2.0zM427 175h2.0v2.0h-2.0zM457 175h2.0v2.0h-2.0zM467 175h2.0v2.0h-2.0zM489 175h2.0v2.0h-2.0z" fill="rgb(130,85,50)"/>
<path d="M433 103h2.0v2.0h-2.0zM445 103h2.0v2.0h-2.0zM455 103h2.0v2.0h-2.0zM435 105h2.0v2.0h-2.0zM443 105h2.0v2.0h-2.0zM431 107h2.0v2.0h-2.0zM445 107h2.0v2.0h-2.0zM459 107h2.0v2.0h-2.0zM479 107h2.0v2.0h-2.0zM479 111h2.0v2.0h-2.0zM461 113h2.0v2.0h-2.0zM429 115h2.0v2.0h-2.0zM443 115h2.0v2.0h-2.0zM439 117h2.0v2.0h-2.0zM461 117h2.0v2.0h-2.0zM453 119h2.0v2.0h-2.0zM465 119h2.0v2.0h-2.0zM429 121h2.0v2.0h-2.0zM477 121h2.0v2.0h-2.0zM457 123h2.0v2.0h-2.0zM459 123h2.0v2.0h-2.0zM489 123h2.0v2.0h-2.0zM443 125h2.0v2.0h-2.0zM449 125h2.0v2.0h-2.0zM429 127h2.0v2.0h-2.0zM459 127h2.0v2.0h-2.0zM461 127h2.0v2.0h-2.0zM489 127h2.0v2.0h-2.0zM463 129h2.0v2.0h-2.0zM477 129h2.0v2.0h-2.0zM437 131h2.0v2.0h-2.0zM481 131h2.0v2.0h-2.0zM473 133h2.0v2.0h-2.0zM453 135h2.0v2.0h-2.0zM463 135h2.0v2.0h-2.0zM433 137h2.0v2.0h-2.0zM463 137h2.0v2.0h-2.0zM473 137h2.0v2.0h-2.0zM489 137h2.0v2.0h-2.0zM439 139h2.0v2.0h-2.0zM463 139h2.0v2.0h-2.0zM485 141h2.0v2.0h-2.0zM451 143h2.0v2.0h-2.0zM493 143h2.0v2.0h-2.0zM465 147h2.0v2.0h-2.0zM447 149h2.0v2.0h-2.0zM461 149h2.0v2.0h-2.0zM447 151h2.0v2.0h-2.0zM481 151h2.0v2.0h-2.0zM421 155h2.0v2.0h-2.0zM441 155h2.0v2.0h-2.0zM461 155h2.0v2.0h-2.0zM449 157h2.0v2.0h-2.0zM479 157h2.0v2.0h-2.0zM455 159h2.0v2.0h-2.0zM459 161h2.0v2.0h-2.0zM421 163h2.0v2.0h-2.0zM469 163h2.0v2.0h-2.0zM481 163h2.0v2.0h-2.0zM439 165h2.0v2.0h-2.0zM449 165h2.0v2.0h-2.0zM425 167h2.0v2.0h-2.0zM471 169h2.0v2.0h-2.0zM483 169h2.0v2.0h-2.0zM491 169h2.0v2.0h-2.0zM487 173h2.0v2.0h-2.0zM437 175h2.0v2.0h-2.0z" fill="rgb(25,35,70)"/>
<path d="M443 103h2.0v2.0h-2.0zM447 105h2.0v2.0h-2.0zM449 105h2.0v2.0h-2.0zM457 105h2.0v2.0h-2.0zM473 107h2.0v2.0h-2.0zM431 111h2.0v2.0h-2.0zM431 113h2.0v2.0h-2.0zM489 115h2.0v2.0h-2.0zM453 117h2.0v2.0h-2.0zM467 117h2.0v2.0h-2.0zM421 119h2.0v2.0h-2.0zM449 121h2.0v2.0h-2.0zM453 123h2.0v2.0h-2.0zM453 127h2.0v2.0h-2.0zM481 127h2.0v2.0h-2.0zM433 129h2.0v2.0h-2.0zM439 129h2.0v2.0h-2.0zM441 131h2.0v2.0h-2.0zM451 131h2.0v2.0h-2.0zM479 133h2.0v2.0h-2.0zM493 133h2.0v2.0h-2.0zM435 135h2.0v2.0h-2.0zM443 135h2.0v2.0h-2.0zM475 135h2.0v2.0h-2.0zM479 137h2.0v2.0h-2.0zM453 139h2.0v2.0h-2.0zM477 139h2.0v2.0h-2.0zM487 143h2.0v2.0h-2.0zM493 145h2.0v2.0h-2.0zM479 147h2.0v2.0h-2.0zM455 157h2.0v2.0h-2.0zM443 159h2.0v2.0h-2.0zM485 159h2.0v2.0h-2.0zM447 163h2.0v2.0h-2.0zM441 171h2.0v2.0h-2.0zM491 173h2.0v2.0h-2.0zM473 175h2.0v2.0h-2.0z" fill="rgb(85,60,40)"/>
</g>
<path d="M427.9 111.6H483.6V164.6H427.9Z M432.9 112.7V159.3H478.4V112.7Z" fill="#f2f4f0" fill-rule="evenodd"/>
</g>
<circle cx="456.4" cy="138.7" r="34.4" fill="none" stroke="#000" stroke-width="1"/>
<rect x="62.0" y="8.5" width="433.5" height="242.45" fill="none" stroke="#000" stroke-width="0.62"/>
<path d="M63.87 243.9C65.58 243.62 69.79 243.76 73.21 242.4C76.64 241.04 79.13 245.89 82.55 236.5C85.98 227.11 88.47 207.3 91.9 191.2C95.32 175.1 97.81 162.14 101.24 148.7C104.66 135.26 107.16 125.49 110.58 117.9C114.01 110.31 116.5 111.75 119.92 107.3C123.35 102.84 125.84 97.71 129.27 93.6C132.69 89.49 135.18 87.17 138.61 84.9C142.03 82.63 144.53 82.32 147.95 81.2C151.38 80.08 153.87 79.48 157.29 78.8C160.72 78.12 163.21 77.94 166.64 77.5C170.06 77.06 172.55 76.75 175.98 76.4C179.4 76.05 181.9 75.88 185.32 75.6C188.75 75.32 191.24 75.05 194.66 74.9C198.09 74.75 200.58 74.87 204.01 74.8C207.43 74.73 208.99 74.57 213.35 74.5C217.71 74.43 222.36 74.42 227.8 74.4C233.24 74.38 237.5 74.55 243 74.4C248.5 74.25 252.34 73.84 257.8 73.6C263.26 73.36 267.3 73.1 272.8 73.1C278.3 73.1 281.57 73.56 287.8 73.6C294.03 73.64 299.87 73.39 306.77 73.3C313.68 73.21 318.61 73.14 325.46 73.1C332.31 73.06 337.29 73.19 344.14 73.1C350.99 73.01 355.98 72.73 362.83 72.6C369.68 72.47 374.66 72.45 381.51 72.4C388.36 72.35 393.35 72.36 400.2 72.3C407.05 72.24 412.03 72.15 418.88 72.1C425.73 72.05 430.72 72.02 437.57 72C444.42 71.98 449.4 72 456.25 72C463.1 72 468.09 72.09 474.94 72C481.79 71.91 490.2 71.59 493.62 71.5" fill="none" stroke="#9c9c9c" stroke-width="1.7" stroke-linejoin="round"/>
<circle cx="63.87" cy="57.4" r="3.9" fill="none" stroke="#000" stroke-width="1.4"/>
<circle cx="73.21" cy="56.2" r="3.9" fill="none" stroke="#000" stroke-width="1.4"/>
<circle cx="82.55" cy="50" r="3.9" fill="none" stroke="#000" stroke-width="1.4"/>
<circle cx="91.9" cy="191.2" r="3.9" fill="none" stroke="#000" stroke-width="1.4"/>
<circle cx="101.24" cy="148.7" r="3.9" fill="none" stroke="#000" stroke-width="1.4"/>
<circle cx="110.58" cy="117.9" r="3.9" fill="none" stroke="#000" stroke-width="1.4"/>
<circle cx="119.92" cy="107.3" r="3.9" fill="none" stroke="#000" stroke-width="1.4"/>
<circle cx="129.27" cy="93.6" r="3.9" fill="none" stroke="#000" stroke-width="1.4"/>
<circle cx="138.61" cy="84.9" r="3.9" fill="none" stroke="#000" stroke-width="1.4"/>
<circle cx="147.95" cy="81.2" r="3.9" fill="none" stroke="#000" stroke-width="1.4"/>
<circle cx="157.29" cy="78.8" r="3.9" fill="none" stroke="#000" stroke-width="1.4"/>
<circle cx="166.64" cy="77.5" r="3.9" fill="none" stroke="#000" stroke-width="1.4"/>
<circle cx="175.98" cy="76.4" r="3.9" fill="none" stroke="#000" stroke-width="1.4"/>
<circle cx="185.32" cy="75.6" r="3.9" fill="none" stroke="#000" stroke-width="1.4"/>
<circle cx="194.66" cy="74.9" r="3.9" fill="none" stroke="#000" stroke-width="1.4"/>
<circle cx="204.01" cy="74.8" r="3.9" fill="none" stroke="#000" stroke-width="1.4"/>
<circle cx="213.35" cy="74.5" r="3.9" fill="none" stroke="#000" stroke-width="1.4"/>
<circle cx="227.8" cy="74.4" r="3.9" fill="none" stroke="#000" stroke-width="1.4"/>
<circle cx="243" cy="74.4" r="3.9" fill="none" stroke="#000" stroke-width="1.4"/>
<circle cx="257.8" cy="73.6" r="3.9" fill="none" stroke="#000" stroke-width="1.4"/>
<circle cx="272.8" cy="73.1" r="3.9" fill="none" stroke="#000" stroke-width="1.4"/>
<circle cx="287.8" cy="73.6" r="3.9" fill="none" stroke="#000" stroke-width="1.4"/>
<circle cx="306.77" cy="73.3" r="3.9" fill="none" stroke="#000" stroke-width="1.4"/>
<circle cx="325.46" cy="73.1" r="3.9" fill="none" stroke="#000" stroke-width="1.4"/>
<circle cx="344.14" cy="73.1" r="3.9" fill="none" stroke="#000" stroke-width="1.4"/>
<circle cx="362.83" cy="72.6" r="3.9" fill="none" stroke="#000" stroke-width="1.4"/>
<circle cx="381.51" cy="72.4" r="3.9" fill="none" stroke="#000" stroke-width="1.4"/>
<circle cx="400.2" cy="72.3" r="3.9" fill="none" stroke="#000" stroke-width="1.4"/>
<circle cx="418.88" cy="72.1" r="3.9" fill="none" stroke="#000" stroke-width="1.4"/>
<circle cx="437.57" cy="72" r="3.9" fill="none" stroke="#000" stroke-width="1.4"/>
<circle cx="456.25" cy="72" r="3.9" fill="none" stroke="#000" stroke-width="1.4"/>
<circle cx="474.94" cy="72" r="3.9" fill="none" stroke="#000" stroke-width="1.4"/>
<circle cx="493.62" cy="71.5" r="3.9" fill="none" stroke="#000" stroke-width="1.4"/>
<circle cx="63.87" cy="243.9" r="3.9" fill="none" stroke="#f00" stroke-width="1.4"/>
<circle cx="73.21" cy="242.4" r="3.9" fill="none" stroke="#f00" stroke-width="1.4"/>
<circle cx="82.55" cy="236.5" r="3.9" fill="none" stroke="#f00" stroke-width="1.4"/>
<rect x="368.5" y="13.5" width="117.9" height="52.9" fill="#fff" stroke="#000" stroke-width="0.62"/>
<circle cx="383.25" cy="22.6" r="3.9" fill="none" stroke="#000" stroke-width="1.4"/>
<circle cx="383.25" cy="37.9" r="3.9" fill="none" stroke="#f00" stroke-width="1.4"/>
<path d="M372.6 55.2H393.7" stroke="#9c9c9c" stroke-width="1.7"/>
<g font-family="'Liberation Serif', 'DejaVu Serif', serif" font-size="14.2" fill="#000">
<text x="438.5" y="24.9" text-anchor="middle" textLength="23" lengthAdjust="spacingAndGlyphs">raw</text>
<text x="438.6" y="41.5" text-anchor="middle" textLength="58.5" lengthAdjust="spacingAndGlyphs">corrected</text>
<text x="438.6" y="58.5" text-anchor="middle" textLength="83.5" lengthAdjust="spacingAndGlyphs">unambiguous</text>
<text x="82.55" y="264.9" text-anchor="middle" textLength="14.8" lengthAdjust="spacingAndGlyphs">18</text>
<text x="119.92" y="264.9" text-anchor="middle" textLength="14.8" lengthAdjust="spacingAndGlyphs">20</text>
<text x="157.29" y="264.9" text-anchor="middle" textLength="14.8" lengthAdjust="spacingAndGlyphs">22</text>
<text x="194.66" y="264.9" text-anchor="middle" textLength="14.8" lengthAdjust="spacingAndGlyphs">24</text>
<text x="232.03" y="264.9" text-anchor="middle" textLength="14.8" lengthAdjust="spacingAndGlyphs">26</text>
<text x="269.4" y="264.9" text-anchor="middle" textLength="14.8" lengthAdjust="spacingAndGlyphs">28</text>
<text x="306.77" y="264.9" text-anchor="middle" textLength="14.8" lengthAdjust="spacingAndGlyphs">30</text>
<text x="344.14" y="264.9" text-anchor="middle" textLength="14.8" lengthAdjust="spacingAndGlyphs">32</text>
<text x="381.51" y="264.9" text-anchor="middle" textLength="14.8" lengthAdjust="spacingAndGlyphs">34</text>
<text x="418.88" y="264.9" text-anchor="middle" textLength="14.8" lengthAdjust="spacingAndGlyphs">36</text>
<text x="456.25" y="264.9" text-anchor="middle" textLength="14.8" lengthAdjust="spacingAndGlyphs">38</text>
<text x="493.62" y="264.9" text-anchor="middle" textLength="14.8" lengthAdjust="spacingAndGlyphs">40</text>
<text x="56.5" y="236.58" text-anchor="end" textLength="29" lengthAdjust="spacingAndGlyphs">−0.2</text>
<text x="56.5" y="199.3" text-anchor="end">0</text>
<text x="56.5" y="162.02" text-anchor="end" textLength="18.6" lengthAdjust="spacingAndGlyphs">0.2</text>
<text x="56.5" y="124.74" text-anchor="end" textLength="18.6" lengthAdjust="spacingAndGlyphs">0.4</text>
<text x="56.5" y="87.46" text-anchor="end" textLength="18.6" lengthAdjust="spacingAndGlyphs">0.6</text>
<text x="56.5" y="50.18" text-anchor="end" textLength="18.6" lengthAdjust="spacingAndGlyphs">0.8</text>
<text x="56.5" y="12.9" text-anchor="end">1</text>
<text x="253.9" y="284.4" font-style="italic" textLength="10.9" lengthAdjust="spacingAndGlyphs" stroke="#fff" stroke-width="0.18">T</text>
<text x="269.6" y="284.4" textLength="33" lengthAdjust="spacingAndGlyphs">in °C</text>
<g transform="translate(12.4,0) rotate(-90)">
<text x="-148.8" y="2.75" font-family="'Liberation Serif', 'Noto Sans CJK JP', sans-serif" font-weight="300" font-size="15" textLength="11" lengthAdjust="spacingAndGlyphs">〈</text>
<text x="-137.0" y="0" font-style="italic" textLength="10.8" lengthAdjust="spacingAndGlyphs">H</text>
<text x="-124.9" y="2.75" font-family="'Liberation Serif', 'Noto Sans CJK JP', sans-serif" font-weight="300" font-size="15" textLength="11" lengthAdjust="spacingAndGlyphs">〉</text>
<text x="-119.05" y="2.1" font-style="italic" font-size="10">t</text>
</g>
</g>
</svg>
</body></html>
